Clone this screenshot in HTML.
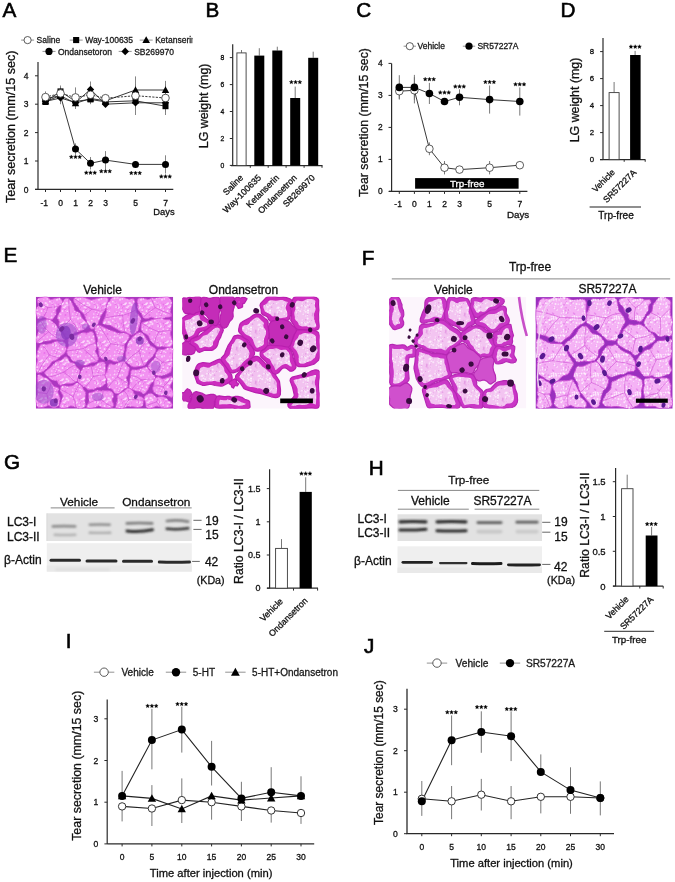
<!DOCTYPE html><html><head><meta charset="utf-8"><style>html,body{margin:0;padding:0;background:#fff;}svg{display:block;will-change:transform;}</style></head><body>
<svg width="675" height="882" viewBox="0 0 675 882" font-family='"Liberation Sans", sans-serif'>
<rect width="675" height="882" fill="#fff"/>
<text x="2.5" y="17.2" font-size="20.7" text-anchor="start" fill="#000" stroke="#000" stroke-width="0.6" >A</text>
<text x="205.6" y="17.1" font-size="20.7" text-anchor="start" fill="#000" stroke="#000" stroke-width="0.6" >B</text>
<text x="356.3" y="17.1" font-size="20.7" text-anchor="start" fill="#000" stroke="#000" stroke-width="0.6" >C</text>
<text x="560.4" y="17.1" font-size="20.7" text-anchor="start" fill="#000" stroke="#000" stroke-width="0.6" >D</text>
<text x="3.5" y="262.0" font-size="20.7" text-anchor="start" fill="#000" stroke="#000" stroke-width="0.6" >E</text>
<text x="361.7" y="264.9" font-size="20.7" text-anchor="start" fill="#000" stroke="#000" stroke-width="0.6" >F</text>
<text x="4.0" y="469.3" font-size="20.7" text-anchor="start" fill="#000" stroke="#000" stroke-width="0.6" >G</text>
<text x="368.7" y="474.6" font-size="20.7" text-anchor="start" fill="#000" stroke="#000" stroke-width="0.6" >H</text>
<text x="65.8" y="647.7" font-size="20.7" text-anchor="start" fill="#000" stroke="#000" stroke-width="0.6" >I</text>
<text x="364.0" y="652.8" font-size="20.7" text-anchor="start" fill="#000" stroke="#000" stroke-width="0.6" >J</text>
<line x1="38.0" y1="62.0" x2="38.0" y2="189.4" stroke="#2a2a2a" stroke-width="1.2" />
<line x1="35.0" y1="189.4" x2="173.3" y2="189.4" stroke="#2a2a2a" stroke-width="1.2" />
<line x1="35.0" y1="189.4" x2="38.0" y2="189.4" stroke="#2a2a2a" stroke-width="1.0" />
<text x="28.6" y="192.5" font-size="8.5" text-anchor="end" fill="#111" stroke="#111" stroke-width="0.3" >0</text>
<line x1="35.0" y1="161.0" x2="38.0" y2="161.0" stroke="#2a2a2a" stroke-width="1.0" />
<text x="28.6" y="164.1" font-size="8.5" text-anchor="end" fill="#111" stroke="#111" stroke-width="0.3" >1</text>
<line x1="35.0" y1="132.6" x2="38.0" y2="132.6" stroke="#2a2a2a" stroke-width="1.0" />
<text x="28.6" y="135.7" font-size="8.5" text-anchor="end" fill="#111" stroke="#111" stroke-width="0.3" >2</text>
<line x1="35.0" y1="104.2" x2="38.0" y2="104.2" stroke="#2a2a2a" stroke-width="1.0" />
<text x="28.6" y="107.3" font-size="8.5" text-anchor="end" fill="#111" stroke="#111" stroke-width="0.3" >3</text>
<line x1="35.0" y1="75.8" x2="38.0" y2="75.8" stroke="#2a2a2a" stroke-width="1.0" />
<text x="28.6" y="78.9" font-size="8.5" text-anchor="end" fill="#111" stroke="#111" stroke-width="0.3" >4</text>
<line x1="45.5" y1="189.4" x2="45.5" y2="192.0" stroke="#2a2a2a" stroke-width="1.0" />
<text x="44.3" y="206.0" font-size="8.5" text-anchor="middle" fill="#111" stroke="#111" stroke-width="0.3" >-1</text>
<line x1="60.5" y1="189.4" x2="60.5" y2="192.0" stroke="#2a2a2a" stroke-width="1.0" />
<text x="60.5" y="206.0" font-size="8.5" text-anchor="middle" fill="#111" stroke="#111" stroke-width="0.3" >0</text>
<line x1="75.5" y1="189.4" x2="75.5" y2="192.0" stroke="#2a2a2a" stroke-width="1.0" />
<text x="75.5" y="206.0" font-size="8.5" text-anchor="middle" fill="#111" stroke="#111" stroke-width="0.3" >1</text>
<line x1="90.5" y1="189.4" x2="90.5" y2="192.0" stroke="#2a2a2a" stroke-width="1.0" />
<text x="90.5" y="206.0" font-size="8.5" text-anchor="middle" fill="#111" stroke="#111" stroke-width="0.3" >2</text>
<line x1="105.5" y1="189.4" x2="105.5" y2="192.0" stroke="#2a2a2a" stroke-width="1.0" />
<text x="105.5" y="206.0" font-size="8.5" text-anchor="middle" fill="#111" stroke="#111" stroke-width="0.3" >3</text>
<line x1="135.5" y1="189.4" x2="135.5" y2="192.0" stroke="#2a2a2a" stroke-width="1.0" />
<text x="135.5" y="206.0" font-size="8.5" text-anchor="middle" fill="#111" stroke="#111" stroke-width="0.3" >5</text>
<line x1="165.5" y1="189.4" x2="165.5" y2="192.0" stroke="#2a2a2a" stroke-width="1.0" />
<text x="165.5" y="206.0" font-size="8.5" text-anchor="middle" fill="#111" stroke="#111" stroke-width="0.3" >7</text>
<text x="163.9" y="214.9" font-size="9.4" text-anchor="middle" fill="#111" stroke="#111" stroke-width="0.3" >Days</text>
<text transform="translate(14.8,126.8) rotate(-90)" font-size="12.6" text-anchor="middle" fill="#111" stroke="#111" stroke-width="0.3">Tear secretion (mm/15 sec)</text>
<line x1="45.5" y1="91.4" x2="45.5" y2="102.8" stroke="#777" stroke-width="0.9" />
<line x1="60.5" y1="85.5" x2="60.5" y2="101.4" stroke="#777" stroke-width="0.9" />
<line x1="75.5" y1="87.4" x2="75.5" y2="107.3" stroke="#777" stroke-width="0.9" />
<line x1="90.5" y1="86.9" x2="90.5" y2="102.8" stroke="#777" stroke-width="0.9" />
<line x1="105.5" y1="94.8" x2="105.5" y2="101.6" stroke="#777" stroke-width="0.9" />
<line x1="135.5" y1="76.4" x2="135.5" y2="115.0" stroke="#777" stroke-width="0.9" />
<line x1="165.5" y1="80.9" x2="165.5" y2="115.0" stroke="#777" stroke-width="0.9" />
<line x1="45.5" y1="99.1" x2="45.5" y2="104.8" stroke="#777" stroke-width="0.9" />
<line x1="60.5" y1="87.2" x2="60.5" y2="95.7" stroke="#777" stroke-width="0.9" />
<line x1="75.5" y1="97.1" x2="75.5" y2="105.6" stroke="#777" stroke-width="0.9" />
<line x1="90.5" y1="96.5" x2="90.5" y2="102.2" stroke="#777" stroke-width="0.9" />
<line x1="105.5" y1="99.1" x2="105.5" y2="104.8" stroke="#777" stroke-width="0.9" />
<line x1="135.5" y1="95.1" x2="135.5" y2="106.5" stroke="#777" stroke-width="0.9" />
<line x1="165.5" y1="100.5" x2="165.5" y2="111.9" stroke="#777" stroke-width="0.9" />
<line x1="45.5" y1="98.5" x2="45.5" y2="104.2" stroke="#777" stroke-width="0.9" />
<line x1="60.5" y1="90.0" x2="60.5" y2="101.4" stroke="#777" stroke-width="0.9" />
<line x1="75.5" y1="97.7" x2="75.5" y2="109.0" stroke="#777" stroke-width="0.9" />
<line x1="90.5" y1="92.8" x2="90.5" y2="104.2" stroke="#777" stroke-width="0.9" />
<line x1="105.5" y1="98.0" x2="105.5" y2="103.6" stroke="#777" stroke-width="0.9" />
<line x1="135.5" y1="84.3" x2="135.5" y2="95.7" stroke="#777" stroke-width="0.9" />
<line x1="165.5" y1="84.3" x2="165.5" y2="95.7" stroke="#777" stroke-width="0.9" />
<line x1="45.5" y1="98.5" x2="45.5" y2="104.2" stroke="#777" stroke-width="0.9" />
<line x1="60.5" y1="95.1" x2="60.5" y2="100.8" stroke="#777" stroke-width="0.9" />
<line x1="75.5" y1="98.2" x2="75.5" y2="106.8" stroke="#777" stroke-width="0.9" />
<line x1="90.5" y1="81.5" x2="90.5" y2="97.4" stroke="#777" stroke-width="0.9" />
<line x1="105.5" y1="101.4" x2="105.5" y2="107.0" stroke="#777" stroke-width="0.9" />
<line x1="135.5" y1="97.1" x2="135.5" y2="108.5" stroke="#777" stroke-width="0.9" />
<line x1="165.5" y1="97.1" x2="165.5" y2="108.5" stroke="#777" stroke-width="0.9" />
<line x1="45.5" y1="94.3" x2="45.5" y2="102.8" stroke="#777" stroke-width="0.9" />
<line x1="60.5" y1="87.2" x2="60.5" y2="104.2" stroke="#777" stroke-width="0.9" />
<line x1="75.5" y1="143.4" x2="75.5" y2="154.8" stroke="#777" stroke-width="0.9" />
<line x1="90.5" y1="157.0" x2="90.5" y2="169.5" stroke="#777" stroke-width="0.9" />
<line x1="105.5" y1="151.1" x2="105.5" y2="169.2" stroke="#777" stroke-width="0.9" />
<line x1="135.5" y1="161.0" x2="135.5" y2="167.8" stroke="#777" stroke-width="0.9" />
<line x1="165.5" y1="155.3" x2="165.5" y2="173.5" stroke="#777" stroke-width="0.9" />
<polyline points="45.5,101.9 60.5,91.4 75.5,101.4 90.5,99.4 105.5,101.9 135.5,100.8 165.5,106.2" fill="none" stroke="#222" stroke-width="0.9"/>
<polyline points="45.5,101.4 60.5,95.7 75.5,103.3 90.5,98.5 105.5,100.8 135.5,90.0 165.5,90.0" fill="none" stroke="#222" stroke-width="0.9"/>
<polyline points="45.5,101.4 60.5,98.0 75.5,102.5 90.5,89.4 105.5,104.2 135.5,102.8 165.5,102.8" fill="none" stroke="#222" stroke-width="0.9"/>
<polyline points="45.5,98.5 60.5,95.7 75.5,149.1 90.5,163.3 105.5,160.1 135.5,164.4 165.5,164.4" fill="none" stroke="#222" stroke-width="0.9"/>
<polyline points="45.5,97.1 60.5,93.4 75.5,97.4 90.5,94.8 105.5,98.2 135.5,95.7 165.5,98.0" fill="none" stroke="#222" stroke-width="0.9" stroke-dasharray="2.2,1.3"/>
<rect x="42.5" y="99.0" width="6.0" height="6.0" fill="#000"/>
<rect x="57.5" y="88.4" width="6.0" height="6.0" fill="#000"/>
<rect x="72.5" y="98.4" width="6.0" height="6.0" fill="#000"/>
<rect x="87.5" y="96.4" width="6.0" height="6.0" fill="#000"/>
<rect x="102.5" y="99.0" width="6.0" height="6.0" fill="#000"/>
<rect x="132.5" y="97.8" width="6.0" height="6.0" fill="#000"/>
<rect x="162.5" y="103.2" width="6.0" height="6.0" fill="#000"/>
<path d="M45.5,97.7 L49.2,104.3 L41.8,104.3 Z" fill="#000"/>
<path d="M60.5,92.0 L64.2,98.6 L56.8,98.6 Z" fill="#000"/>
<path d="M75.5,99.7 L79.2,106.3 L71.8,106.3 Z" fill="#000"/>
<path d="M90.5,94.8 L94.2,101.5 L86.8,101.5 Z" fill="#000"/>
<path d="M105.5,97.1 L109.2,103.7 L101.8,103.7 Z" fill="#000"/>
<path d="M135.5,86.3 L139.2,92.9 L131.8,92.9 Z" fill="#000"/>
<path d="M165.5,86.3 L169.2,92.9 L161.8,92.9 Z" fill="#000"/>
<path d="M45.5,97.7 L49.2,101.4 L45.5,105.0 L41.8,101.4 Z" fill="#000"/>
<path d="M60.5,94.3 L64.2,98.0 L60.5,101.6 L56.8,98.0 Z" fill="#000"/>
<path d="M75.5,98.8 L79.2,102.5 L75.5,106.2 L71.8,102.5 Z" fill="#000"/>
<path d="M90.5,85.8 L94.2,89.4 L90.5,93.1 L86.8,89.4 Z" fill="#000"/>
<path d="M105.5,100.5 L109.2,104.2 L105.5,107.9 L101.8,104.2 Z" fill="#000"/>
<path d="M135.5,99.1 L139.2,102.8 L135.5,106.5 L131.8,102.8 Z" fill="#000"/>
<path d="M165.5,99.1 L169.2,102.8 L165.5,106.5 L161.8,102.8 Z" fill="#000"/>
<circle cx="45.5" cy="98.5" r="3.5" fill="#000"/>
<circle cx="60.5" cy="95.7" r="3.5" fill="#000"/>
<circle cx="75.5" cy="149.1" r="3.5" fill="#000"/>
<circle cx="90.5" cy="163.3" r="3.5" fill="#000"/>
<circle cx="105.5" cy="160.1" r="3.5" fill="#000"/>
<circle cx="135.5" cy="164.4" r="3.5" fill="#000"/>
<circle cx="165.5" cy="164.4" r="3.5" fill="#000"/>
<circle cx="45.5" cy="97.1" r="3.8" fill="#fff" stroke="#333" stroke-width="0.8"/>
<circle cx="60.5" cy="93.4" r="3.8" fill="#fff" stroke="#333" stroke-width="0.8"/>
<circle cx="75.5" cy="97.4" r="3.8" fill="#fff" stroke="#333" stroke-width="0.8"/>
<circle cx="90.5" cy="94.8" r="3.8" fill="#fff" stroke="#333" stroke-width="0.8"/>
<circle cx="105.5" cy="98.2" r="3.8" fill="#fff" stroke="#333" stroke-width="0.8"/>
<circle cx="135.5" cy="95.7" r="3.8" fill="#fff" stroke="#333" stroke-width="0.8"/>
<circle cx="165.5" cy="98.0" r="3.8" fill="#fff" stroke="#333" stroke-width="0.8"/>
<path d="M71.25,154.90 L71.81,156.18 L73.20,156.32 L72.15,157.24 L72.45,158.61 L71.25,157.90 L70.05,158.61 L70.35,157.24 L69.30,156.32 L70.69,156.18ZM75.50,154.90 L76.06,156.18 L77.45,156.32 L76.40,157.24 L76.70,158.61 L75.50,157.90 L74.30,158.61 L74.60,157.24 L73.55,156.32 L74.94,156.18ZM79.75,154.90 L80.31,156.18 L81.70,156.32 L80.65,157.24 L80.95,158.61 L79.75,157.90 L78.55,158.61 L78.85,157.24 L77.80,156.32 L79.19,156.18Z" fill="#000" stroke="#000" stroke-width="0.35" stroke-linejoin="round"/>
<path d="M86.25,170.70 L86.81,171.98 L88.20,172.12 L87.15,173.04 L87.45,174.41 L86.25,173.70 L85.05,174.41 L85.35,173.04 L84.30,172.12 L85.69,171.98ZM90.50,170.70 L91.06,171.98 L92.45,172.12 L91.40,173.04 L91.70,174.41 L90.50,173.70 L89.30,174.41 L89.60,173.04 L88.55,172.12 L89.94,171.98ZM94.75,170.70 L95.31,171.98 L96.70,172.12 L95.65,173.04 L95.95,174.41 L94.75,173.70 L93.55,174.41 L93.85,173.04 L92.80,172.12 L94.19,171.98Z" fill="#000" stroke="#000" stroke-width="0.35" stroke-linejoin="round"/>
<path d="M101.25,169.20 L101.81,170.48 L103.20,170.62 L102.15,171.54 L102.45,172.91 L101.25,172.20 L100.05,172.91 L100.35,171.54 L99.30,170.62 L100.69,170.48ZM105.50,169.20 L106.06,170.48 L107.45,170.62 L106.40,171.54 L106.70,172.91 L105.50,172.20 L104.30,172.91 L104.60,171.54 L103.55,170.62 L104.94,170.48ZM109.75,169.20 L110.31,170.48 L111.70,170.62 L110.65,171.54 L110.95,172.91 L109.75,172.20 L108.55,172.91 L108.85,171.54 L107.80,170.62 L109.19,170.48Z" fill="#000" stroke="#000" stroke-width="0.35" stroke-linejoin="round"/>
<path d="M131.25,171.00 L131.81,172.28 L133.20,172.42 L132.15,173.34 L132.45,174.71 L131.25,174.00 L130.05,174.71 L130.35,173.34 L129.30,172.42 L130.69,172.28ZM135.50,171.00 L136.06,172.28 L137.45,172.42 L136.40,173.34 L136.70,174.71 L135.50,174.00 L134.30,174.71 L134.60,173.34 L133.55,172.42 L134.94,172.28ZM139.75,171.00 L140.31,172.28 L141.70,172.42 L140.65,173.34 L140.95,174.71 L139.75,174.00 L138.55,174.71 L138.85,173.34 L137.80,172.42 L139.19,172.28Z" fill="#000" stroke="#000" stroke-width="0.35" stroke-linejoin="round"/>
<path d="M161.25,174.50 L161.81,175.78 L163.20,175.92 L162.15,176.84 L162.45,178.21 L161.25,177.50 L160.05,178.21 L160.35,176.84 L159.30,175.92 L160.69,175.78ZM165.50,174.50 L166.06,175.78 L167.45,175.92 L166.40,176.84 L166.70,178.21 L165.50,177.50 L164.30,178.21 L164.60,176.84 L163.55,175.92 L164.94,175.78ZM169.75,174.50 L170.31,175.78 L171.70,175.92 L170.65,176.84 L170.95,178.21 L169.75,177.50 L168.55,178.21 L168.85,176.84 L167.80,175.92 L169.19,175.78Z" fill="#000" stroke="#000" stroke-width="0.35" stroke-linejoin="round"/>
<clipPath id="clA"><rect x="0" y="0" width="192.5" height="60"/></clipPath><g clip-path="url(#clA)">
<line x1="21.1" y1="40.1" x2="34.1" y2="40.1" stroke="#777" stroke-width="0.8" />
<circle cx="27.6" cy="40.1" r="3.6" fill="#fff" stroke="#333" stroke-width="0.8"/>
<text x="36.6" y="43.2" font-size="8.5" text-anchor="start" fill="#1a1a1a" stroke="#1a1a1a" stroke-width="0.3" >Saline</text>
<line x1="69.7" y1="40.1" x2="82.7" y2="40.1" stroke="#777" stroke-width="0.8" />
<rect x="73.1" y="37.0" width="6.1" height="6.1" fill="#000"/>
<text x="85.2" y="43.2" font-size="8.5" text-anchor="start" fill="#1a1a1a" stroke="#1a1a1a" stroke-width="0.3" >Way-100635</text>
<line x1="139.7" y1="40.1" x2="152.7" y2="40.1" stroke="#777" stroke-width="0.8" />
<path d="M146.2,36.3 L150.0,43.1 L142.4,43.1 Z" fill="#000"/>
<text x="155.2" y="43.2" font-size="8.5" text-anchor="start" fill="#1a1a1a" stroke="#1a1a1a" stroke-width="0.3" >Ketanserin</text>
<line x1="42.5" y1="51.4" x2="55.5" y2="51.4" stroke="#777" stroke-width="0.8" />
<circle cx="49.0" cy="51.4" r="3.6" fill="#000"/>
<text x="58.0" y="54.5" font-size="8.5" text-anchor="start" fill="#1a1a1a" stroke="#1a1a1a" stroke-width="0.3" >Ondansetoron</text>
<line x1="118.7" y1="51.4" x2="131.7" y2="51.4" stroke="#777" stroke-width="0.8" />
<path d="M125.2,47.6 L129.0,51.4 L125.2,55.2 L121.4,51.4 Z" fill="#000"/>
<text x="134.2" y="54.5" font-size="8.5" text-anchor="start" fill="#1a1a1a" stroke="#1a1a1a" stroke-width="0.3" >SB269970</text>
</g>
<line x1="232.7" y1="44.2" x2="232.7" y2="165.6" stroke="#2a2a2a" stroke-width="1.2" />
<line x1="231.0" y1="165.6" x2="322.5" y2="165.6" stroke="#2a2a2a" stroke-width="1.2" />
<line x1="229.8" y1="165.4" x2="232.7" y2="165.4" stroke="#2a2a2a" stroke-width="1.0" />
<text x="224.4" y="167.9" font-size="6.8" text-anchor="end" fill="#111" stroke="#111" stroke-width="0.3" >0</text>
<line x1="229.8" y1="138.5" x2="232.7" y2="138.5" stroke="#2a2a2a" stroke-width="1.0" />
<text x="224.4" y="141.0" font-size="6.8" text-anchor="end" fill="#111" stroke="#111" stroke-width="0.3" >2</text>
<line x1="229.8" y1="111.5" x2="232.7" y2="111.5" stroke="#2a2a2a" stroke-width="1.0" />
<text x="224.4" y="114.0" font-size="6.8" text-anchor="end" fill="#111" stroke="#111" stroke-width="0.3" >4</text>
<line x1="229.8" y1="84.6" x2="232.7" y2="84.6" stroke="#2a2a2a" stroke-width="1.0" />
<text x="224.4" y="87.1" font-size="6.8" text-anchor="end" fill="#111" stroke="#111" stroke-width="0.3" >6</text>
<line x1="229.8" y1="57.6" x2="232.7" y2="57.6" stroke="#2a2a2a" stroke-width="1.0" />
<text x="224.4" y="60.1" font-size="6.8" text-anchor="end" fill="#111" stroke="#111" stroke-width="0.3" >8</text>
<line x1="250.3" y1="165.6" x2="250.3" y2="167.8" stroke="#2a2a2a" stroke-width="1.0" />
<line x1="268.2" y1="165.6" x2="268.2" y2="167.8" stroke="#2a2a2a" stroke-width="1.0" />
<line x1="286.1" y1="165.6" x2="286.1" y2="167.8" stroke="#2a2a2a" stroke-width="1.0" />
<line x1="304.1" y1="165.6" x2="304.1" y2="167.8" stroke="#2a2a2a" stroke-width="1.0" />
<line x1="322.0" y1="165.6" x2="322.0" y2="167.8" stroke="#2a2a2a" stroke-width="1.0" />
<line x1="241.5" y1="50.0" x2="241.5" y2="52.9" stroke="#555" stroke-width="0.8" />
<rect x="236.9" y="52.9" width="9.2" height="112.7" fill="#fff" stroke="#3a3a3a" stroke-width="0.9"/>
<line x1="259.3" y1="48.2" x2="259.3" y2="55.6" stroke="#555" stroke-width="0.8" />
<rect x="254.3" y="55.6" width="10.0" height="110.0" fill="#000"/>
<line x1="277.3" y1="46.7" x2="277.3" y2="50.5" stroke="#555" stroke-width="0.8" />
<rect x="272.3" y="50.5" width="10.0" height="115.1" fill="#000"/>
<line x1="295.2" y1="86.6" x2="295.2" y2="98.0" stroke="#555" stroke-width="0.8" />
<rect x="290.2" y="98.0" width="10.0" height="67.5" fill="#000"/>
<line x1="313.2" y1="51.7" x2="313.2" y2="57.8" stroke="#555" stroke-width="0.8" />
<rect x="308.2" y="57.8" width="10.0" height="107.8" fill="#000"/>
<path d="M291.35,80.10 L291.91,81.38 L293.30,81.52 L292.25,82.44 L292.55,83.81 L291.35,83.10 L290.15,83.81 L290.45,82.44 L289.40,81.52 L290.79,81.38ZM295.60,80.10 L296.16,81.38 L297.55,81.52 L296.50,82.44 L296.80,83.81 L295.60,83.10 L294.40,83.81 L294.70,82.44 L293.65,81.52 L295.04,81.38ZM299.85,80.10 L300.41,81.38 L301.80,81.52 L300.75,82.44 L301.05,83.81 L299.85,83.10 L298.65,83.81 L298.95,82.44 L297.90,81.52 L299.29,81.38Z" fill="#000" stroke="#000" stroke-width="0.35" stroke-linejoin="round"/>
<text transform="translate(243.8,178.4) rotate(-45)" font-size="8.8" text-anchor="end" fill="#111" stroke="#111" stroke-width="0.3">Saline</text>
<text transform="translate(261.6,178.4) rotate(-45)" font-size="8.8" text-anchor="end" fill="#111" stroke="#111" stroke-width="0.3">Way-100635</text>
<text transform="translate(279.6,178.4) rotate(-45)" font-size="8.8" text-anchor="end" fill="#111" stroke="#111" stroke-width="0.3">Ketanserin</text>
<text transform="translate(297.5,178.4) rotate(-45)" font-size="8.8" text-anchor="end" fill="#111" stroke="#111" stroke-width="0.3">Ondansetron</text>
<text transform="translate(315.5,178.4) rotate(-45)" font-size="8.8" text-anchor="end" fill="#111" stroke="#111" stroke-width="0.3">SB269970</text>
<text transform="translate(208.1,105.9) rotate(-90)" font-size="12.4" text-anchor="middle" fill="#111" stroke="#111" stroke-width="0.3">LG weight (mg)</text>
<line x1="391.6" y1="63.4" x2="391.6" y2="191.4" stroke="#2a2a2a" stroke-width="1.2" />
<line x1="389.0" y1="191.4" x2="527.4" y2="191.4" stroke="#2a2a2a" stroke-width="1.2" />
<line x1="388.5" y1="191.4" x2="391.6" y2="191.4" stroke="#2a2a2a" stroke-width="1.0" />
<text x="382.7" y="194.4" font-size="8.4" text-anchor="end" fill="#111" stroke="#111" stroke-width="0.3" >0</text>
<line x1="388.5" y1="159.4" x2="391.6" y2="159.4" stroke="#2a2a2a" stroke-width="1.0" />
<text x="382.7" y="162.4" font-size="8.4" text-anchor="end" fill="#111" stroke="#111" stroke-width="0.3" >1</text>
<line x1="388.5" y1="127.4" x2="391.6" y2="127.4" stroke="#2a2a2a" stroke-width="1.0" />
<text x="382.7" y="130.4" font-size="8.4" text-anchor="end" fill="#111" stroke="#111" stroke-width="0.3" >2</text>
<line x1="388.5" y1="95.4" x2="391.6" y2="95.4" stroke="#2a2a2a" stroke-width="1.0" />
<text x="382.7" y="98.4" font-size="8.4" text-anchor="end" fill="#111" stroke="#111" stroke-width="0.3" >3</text>
<line x1="388.5" y1="63.4" x2="391.6" y2="63.4" stroke="#2a2a2a" stroke-width="1.0" />
<text x="382.7" y="66.4" font-size="8.4" text-anchor="end" fill="#111" stroke="#111" stroke-width="0.3" >4</text>
<line x1="399.3" y1="191.4" x2="399.3" y2="193.9" stroke="#2a2a2a" stroke-width="1.0" />
<text x="398.1" y="207.0" font-size="8.5" text-anchor="middle" fill="#111" stroke="#111" stroke-width="0.3" >-1</text>
<line x1="414.4" y1="191.4" x2="414.4" y2="193.9" stroke="#2a2a2a" stroke-width="1.0" />
<text x="414.4" y="207.0" font-size="8.5" text-anchor="middle" fill="#111" stroke="#111" stroke-width="0.3" >0</text>
<line x1="429.4" y1="191.4" x2="429.4" y2="193.9" stroke="#2a2a2a" stroke-width="1.0" />
<text x="429.4" y="207.0" font-size="8.5" text-anchor="middle" fill="#111" stroke="#111" stroke-width="0.3" >1</text>
<line x1="444.5" y1="191.4" x2="444.5" y2="193.9" stroke="#2a2a2a" stroke-width="1.0" />
<text x="444.5" y="207.0" font-size="8.5" text-anchor="middle" fill="#111" stroke="#111" stroke-width="0.3" >2</text>
<line x1="459.5" y1="191.4" x2="459.5" y2="193.9" stroke="#2a2a2a" stroke-width="1.0" />
<text x="459.5" y="207.0" font-size="8.5" text-anchor="middle" fill="#111" stroke="#111" stroke-width="0.3" >3</text>
<line x1="489.6" y1="191.4" x2="489.6" y2="193.9" stroke="#2a2a2a" stroke-width="1.0" />
<text x="489.6" y="207.0" font-size="8.5" text-anchor="middle" fill="#111" stroke="#111" stroke-width="0.3" >5</text>
<line x1="519.8" y1="191.4" x2="519.8" y2="193.9" stroke="#2a2a2a" stroke-width="1.0" />
<text x="519.8" y="207.0" font-size="8.5" text-anchor="middle" fill="#111" stroke="#111" stroke-width="0.3" >7</text>
<text x="518.1" y="217.8" font-size="9.8" text-anchor="middle" fill="#111" stroke="#111" stroke-width="0.3" >Days</text>
<text transform="translate(368.4,122.6) rotate(-90)" font-size="12.3" text-anchor="middle" fill="#111" stroke="#111" stroke-width="0.3">Tear secretion (mm/15 sec)</text>
<rect x="415.1" y="178.1" width="103.5" height="10.6" fill="#000"/>
<text x="467.2" y="186.9" font-size="9.8" text-anchor="middle" fill="#fff" stroke="#fff" stroke-width="0.3" >Trp-free</text>
<line x1="399.3" y1="83.6" x2="399.3" y2="98.9" stroke="#6a6a6a" stroke-width="0.9" />
<line x1="414.4" y1="77.2" x2="414.4" y2="103.4" stroke="#6a6a6a" stroke-width="0.9" />
<line x1="429.4" y1="142.4" x2="429.4" y2="155.2" stroke="#6a6a6a" stroke-width="0.9" />
<line x1="444.5" y1="161.0" x2="444.5" y2="174.4" stroke="#6a6a6a" stroke-width="0.9" />
<line x1="459.5" y1="167.7" x2="459.5" y2="171.6" stroke="#6a6a6a" stroke-width="0.9" />
<line x1="489.6" y1="161.0" x2="489.6" y2="174.4" stroke="#6a6a6a" stroke-width="0.9" />
<line x1="519.8" y1="163.2" x2="519.8" y2="167.1" stroke="#6a6a6a" stroke-width="0.9" />
<line x1="399.3" y1="75.2" x2="399.3" y2="99.6" stroke="#6a6a6a" stroke-width="0.9" />
<line x1="414.4" y1="74.9" x2="414.4" y2="99.9" stroke="#6a6a6a" stroke-width="0.9" />
<line x1="429.4" y1="82.9" x2="429.4" y2="104.0" stroke="#6a6a6a" stroke-width="0.9" />
<line x1="444.5" y1="99.9" x2="444.5" y2="103.1" stroke="#6a6a6a" stroke-width="0.9" />
<line x1="459.5" y1="89.3" x2="459.5" y2="105.3" stroke="#6a6a6a" stroke-width="0.9" />
<line x1="489.6" y1="85.5" x2="489.6" y2="113.6" stroke="#6a6a6a" stroke-width="0.9" />
<line x1="519.8" y1="87.4" x2="519.8" y2="115.6" stroke="#6a6a6a" stroke-width="0.9" />
<polyline points="399.3,91.2 414.4,90.3 429.4,148.8 444.5,167.7 459.5,169.6 489.6,167.7 519.8,165.2" fill="none" stroke="#222" stroke-width="0.9"/>
<polyline points="399.3,87.4 414.4,87.4 429.4,93.5 444.5,101.5 459.5,97.3 489.6,99.6 519.8,101.5" fill="none" stroke="#222" stroke-width="0.9"/>
<circle cx="399.3" cy="91.2" r="3.8" fill="#fff" stroke="#333" stroke-width="0.8"/>
<circle cx="414.4" cy="90.3" r="3.8" fill="#fff" stroke="#333" stroke-width="0.8"/>
<circle cx="429.4" cy="148.8" r="3.8" fill="#fff" stroke="#333" stroke-width="0.8"/>
<circle cx="444.5" cy="167.7" r="3.8" fill="#fff" stroke="#333" stroke-width="0.8"/>
<circle cx="459.5" cy="169.6" r="3.8" fill="#fff" stroke="#333" stroke-width="0.8"/>
<circle cx="489.6" cy="167.7" r="3.8" fill="#fff" stroke="#333" stroke-width="0.8"/>
<circle cx="519.8" cy="165.2" r="3.8" fill="#fff" stroke="#333" stroke-width="0.8"/>
<circle cx="399.3" cy="87.4" r="3.8" fill="#000"/>
<circle cx="414.4" cy="87.4" r="3.8" fill="#000"/>
<circle cx="429.4" cy="93.5" r="3.8" fill="#000"/>
<circle cx="444.5" cy="101.5" r="3.8" fill="#000"/>
<circle cx="459.5" cy="97.3" r="3.8" fill="#000"/>
<circle cx="489.6" cy="99.6" r="3.8" fill="#000"/>
<circle cx="519.8" cy="101.5" r="3.8" fill="#000"/>
<path d="M425.20,77.20 L425.76,78.48 L427.15,78.62 L426.10,79.54 L426.40,80.91 L425.20,80.20 L424.00,80.91 L424.30,79.54 L423.25,78.62 L424.64,78.48ZM429.45,77.20 L430.01,78.48 L431.40,78.62 L430.35,79.54 L430.65,80.91 L429.45,80.20 L428.25,80.91 L428.55,79.54 L427.50,78.62 L428.89,78.48ZM433.70,77.20 L434.26,78.48 L435.65,78.62 L434.60,79.54 L434.90,80.91 L433.70,80.20 L432.50,80.91 L432.80,79.54 L431.75,78.62 L433.14,78.48Z" fill="#000" stroke="#000" stroke-width="0.35" stroke-linejoin="round"/>
<path d="M440.25,90.50 L440.81,91.78 L442.20,91.92 L441.15,92.84 L441.45,94.21 L440.25,93.50 L439.05,94.21 L439.35,92.84 L438.30,91.92 L439.69,91.78ZM444.50,90.50 L445.06,91.78 L446.45,91.92 L445.40,92.84 L445.70,94.21 L444.50,93.50 L443.30,94.21 L443.60,92.84 L442.55,91.92 L443.94,91.78ZM448.75,90.50 L449.31,91.78 L450.70,91.92 L449.65,92.84 L449.95,94.21 L448.75,93.50 L447.55,94.21 L447.85,92.84 L446.80,91.92 L448.19,91.78Z" fill="#000" stroke="#000" stroke-width="0.35" stroke-linejoin="round"/>
<path d="M455.30,84.50 L455.86,85.78 L457.25,85.92 L456.20,86.84 L456.50,88.21 L455.30,87.50 L454.10,88.21 L454.40,86.84 L453.35,85.92 L454.74,85.78ZM459.55,84.50 L460.11,85.78 L461.50,85.92 L460.45,86.84 L460.75,88.21 L459.55,87.50 L458.35,88.21 L458.65,86.84 L457.60,85.92 L458.99,85.78ZM463.80,84.50 L464.36,85.78 L465.75,85.92 L464.70,86.84 L465.00,88.21 L463.80,87.50 L462.60,88.21 L462.90,86.84 L461.85,85.92 L463.24,85.78Z" fill="#000" stroke="#000" stroke-width="0.35" stroke-linejoin="round"/>
<path d="M485.40,80.00 L485.96,81.28 L487.35,81.42 L486.30,82.34 L486.60,83.71 L485.40,83.00 L484.20,83.71 L484.50,82.34 L483.45,81.42 L484.84,81.28ZM489.65,80.00 L490.21,81.28 L491.60,81.42 L490.55,82.34 L490.85,83.71 L489.65,83.00 L488.45,83.71 L488.75,82.34 L487.70,81.42 L489.09,81.28ZM493.90,80.00 L494.46,81.28 L495.85,81.42 L494.80,82.34 L495.10,83.71 L493.90,83.00 L492.70,83.71 L493.00,82.34 L491.95,81.42 L493.34,81.28Z" fill="#000" stroke="#000" stroke-width="0.35" stroke-linejoin="round"/>
<path d="M515.50,82.30 L516.06,83.58 L517.45,83.72 L516.40,84.64 L516.70,86.01 L515.50,85.30 L514.30,86.01 L514.60,84.64 L513.55,83.72 L514.94,83.58ZM519.75,82.30 L520.31,83.58 L521.70,83.72 L520.65,84.64 L520.95,86.01 L519.75,85.30 L518.55,86.01 L518.85,84.64 L517.80,83.72 L519.19,83.58ZM524.00,82.30 L524.56,83.58 L525.95,83.72 L524.90,84.64 L525.20,86.01 L524.00,85.30 L522.80,86.01 L523.10,84.64 L522.05,83.72 L523.44,83.58Z" fill="#000" stroke="#000" stroke-width="0.35" stroke-linejoin="round"/>
<line x1="403.6" y1="46.2" x2="416.0" y2="46.2" stroke="#777" stroke-width="0.8" />
<circle cx="409.8" cy="46.2" r="3.6" fill="#fff" stroke="#333" stroke-width="0.8"/>
<text x="417.5" y="49.3" font-size="8.5" text-anchor="start" fill="#1a1a1a" stroke="#1a1a1a" stroke-width="0.3" >Vehicle</text>
<line x1="462.8" y1="46.2" x2="475.2" y2="46.2" stroke="#777" stroke-width="0.8" />
<circle cx="469.0" cy="46.2" r="3.6" fill="#000"/>
<text x="477.4" y="49.3" font-size="8.5" text-anchor="start" fill="#1a1a1a" stroke="#1a1a1a" stroke-width="0.3" >SR57227A</text>
<line x1="603.0" y1="38.0" x2="603.0" y2="159.6" stroke="#2a2a2a" stroke-width="1.2" />
<line x1="600.0" y1="159.6" x2="645.4" y2="159.6" stroke="#2a2a2a" stroke-width="1.2" />
<line x1="600.1" y1="159.6" x2="603.0" y2="159.6" stroke="#2a2a2a" stroke-width="1.0" />
<text x="594.0" y="162.4" font-size="7.8" text-anchor="end" fill="#111" stroke="#111" stroke-width="0.3" >0</text>
<line x1="600.1" y1="132.6" x2="603.0" y2="132.6" stroke="#2a2a2a" stroke-width="1.0" />
<text x="594.0" y="135.4" font-size="7.8" text-anchor="end" fill="#111" stroke="#111" stroke-width="0.3" >2</text>
<line x1="600.1" y1="105.6" x2="603.0" y2="105.6" stroke="#2a2a2a" stroke-width="1.0" />
<text x="594.0" y="108.4" font-size="7.8" text-anchor="end" fill="#111" stroke="#111" stroke-width="0.3" >4</text>
<line x1="600.1" y1="78.6" x2="603.0" y2="78.6" stroke="#2a2a2a" stroke-width="1.0" />
<text x="594.0" y="81.4" font-size="7.8" text-anchor="end" fill="#111" stroke="#111" stroke-width="0.3" >6</text>
<line x1="600.1" y1="51.6" x2="603.0" y2="51.6" stroke="#2a2a2a" stroke-width="1.0" />
<text x="594.0" y="54.4" font-size="7.8" text-anchor="end" fill="#111" stroke="#111" stroke-width="0.3" >8</text>
<line x1="624.2" y1="159.6" x2="624.2" y2="161.8" stroke="#2a2a2a" stroke-width="1.0" />
<line x1="645.2" y1="159.6" x2="645.2" y2="161.8" stroke="#2a2a2a" stroke-width="1.0" />
<line x1="614.1" y1="82.0" x2="614.1" y2="92.6" stroke="#555" stroke-width="0.8" />
<rect x="609.1" y="92.6" width="10.0" height="67.0" fill="#fff" stroke="#3a3a3a" stroke-width="0.9"/>
<line x1="635.1" y1="50.9" x2="635.1" y2="55.0" stroke="#555" stroke-width="0.8" />
<rect x="630.1" y="55.0" width="10.5" height="104.6" fill="#000"/>
<path d="M630.95,44.70 L631.51,45.98 L632.90,46.12 L631.85,47.04 L632.15,48.41 L630.95,47.70 L629.75,48.41 L630.05,47.04 L629.00,46.12 L630.39,45.98ZM635.20,44.70 L635.76,45.98 L637.15,46.12 L636.10,47.04 L636.40,48.41 L635.20,47.70 L634.00,48.41 L634.30,47.04 L633.25,46.12 L634.64,45.98ZM639.45,44.70 L640.01,45.98 L641.40,46.12 L640.35,47.04 L640.65,48.41 L639.45,47.70 L638.25,48.41 L638.55,47.04 L637.50,46.12 L638.89,45.98Z" fill="#000" stroke="#000" stroke-width="0.35" stroke-linejoin="round"/>
<text transform="translate(615.5,172.9) rotate(-45)" font-size="8.7" text-anchor="end" fill="#111" stroke="#111" stroke-width="0.3">Vehicle</text>
<text transform="translate(636.9,173.1) rotate(-45)" font-size="8.8" text-anchor="end" fill="#111" stroke="#111" stroke-width="0.3">SR57227A</text>
<text transform="translate(579.1,100.0) rotate(-90)" font-size="12.4" text-anchor="middle" fill="#111" stroke="#111" stroke-width="0.3">LG weight (mg)</text>
<line x1="589.6" y1="207.0" x2="641.0" y2="207.0" stroke="#6a6a6a" stroke-width="1.3" />
<text x="616.0" y="218.5" font-size="10.1" text-anchor="middle" fill="#111" stroke="#111" stroke-width="0.3" >Trp-free</text>
<defs><filter id="bl1" filterUnits="userSpaceOnUse" x="0" y="400" width="675" height="250"><feGaussianBlur stdDeviation="0.9"/></filter><filter id="bl2" filterUnits="userSpaceOnUse" x="0" y="400" width="675" height="250"><feGaussianBlur stdDeviation="0.6"/></filter></defs>
<text x="79.1" y="506.0" font-size="11.8" text-anchor="middle" fill="#111" stroke="#111" stroke-width="0.3" >Vehicle</text>
<text x="156.3" y="506.0" font-size="11.8" text-anchor="middle" fill="#111" stroke="#111" stroke-width="0.3" >Ondansetron</text>
<line x1="50.7" y1="507.9" x2="114.6" y2="507.9" stroke="#888" stroke-width="1.0" />
<line x1="129.6" y1="507.9" x2="191.7" y2="507.9" stroke="#888" stroke-width="1.0" />
<rect x="46.8" y="513.3" width="145.0" height="27.7" fill="#e2e2e2"/>
<line x1="46.8" y1="513.3" x2="46.8" y2="541.0" stroke="#cfcfcf" stroke-width="0.6" />
<rect x="46.8" y="543.2" width="145.0" height="28.4" fill="#efefef"/>
<rect x="46.8" y="565.5" width="145.0" height="6.1" fill="#e9e9e9"/>
<path d="M52.8,526.4 Q64.0,525.8 75.2,526.4" fill="none" stroke="#8c8c8c" stroke-width="2.6" stroke-linecap="round" opacity="1.0" filter="url(#bl1)"/>
<path d="M54.7,534.8 Q65.0,535.2 75.3,534.8" fill="none" stroke="#b2b2b2" stroke-width="2.4" stroke-linecap="round" opacity="1.0" filter="url(#bl1)"/>
<path d="M89.7,524.8 Q99.8,524.2 109.8,524.8" fill="none" stroke="#8e8e8e" stroke-width="2.4" stroke-linecap="round" opacity="1.0" filter="url(#bl1)"/>
<path d="M89.7,532.7 Q100.0,533.1 110.3,532.7" fill="none" stroke="#acacac" stroke-width="2.4" stroke-linecap="round" opacity="1.0" filter="url(#bl1)"/>
<path d="M126.8,523.4 Q139.5,522.6 152.2,523.4" fill="none" stroke="#7a7a7a" stroke-width="2.6" stroke-linecap="round" opacity="1.0" filter="url(#bl1)"/>
<path d="M127.0,531.0 Q139.8,532.6 152.5,529.8" fill="none" stroke="#2c2c2c" stroke-width="3.0" stroke-linecap="round" opacity="1.0" filter="url(#bl1)"/>
<path d="M166.8,521.0 Q177.5,519.6 188.2,521.6" fill="none" stroke="#808080" stroke-width="2.6" stroke-linecap="round" opacity="1.0" filter="url(#bl1)"/>
<path d="M166.8,528.8 Q177.5,529.8 188.2,528.2" fill="none" stroke="#2e2e2e" stroke-width="2.6" stroke-linecap="round" opacity="1.0" filter="url(#bl1)"/>
<path d="M51.0,560.2 Q65.2,560.2 79.5,560.2" fill="none" stroke="#2c2c2c" stroke-width="3.0" stroke-linecap="round" opacity="1.0" filter="url(#bl2)"/>
<path d="M87.0,561.0 Q101.5,561.0 116.0,561.0" fill="none" stroke="#2c2c2c" stroke-width="3.0" stroke-linecap="round" opacity="1.0" filter="url(#bl2)"/>
<path d="M123.5,561.3 Q137.5,561.3 151.5,561.3" fill="none" stroke="#2c2c2c" stroke-width="3.0" stroke-linecap="round" opacity="1.0" filter="url(#bl2)"/>
<path d="M159.3,562.0 Q174.4,562.4 189.5,562.0" fill="none" stroke="#2c2c2c" stroke-width="3.0" stroke-linecap="round" opacity="1.0" filter="url(#bl2)"/>
<path d="M56.0,569.6 Q82.5,569.6 109.0,569.6" fill="none" stroke="#dcdcdc" stroke-width="2.0" stroke-linecap="round" opacity="1.0" filter="url(#bl1)"/>
<text x="7.0" y="526.1" font-size="12" text-anchor="start" fill="#111" stroke="#111" stroke-width="0.3" >LC3-I</text>
<text x="7.0" y="541.4" font-size="12" text-anchor="start" fill="#111" stroke="#111" stroke-width="0.3" >LC3-II</text>
<text x="4.0" y="564.3" font-size="12" text-anchor="start" fill="#111" stroke="#111" stroke-width="0.3" >&#946;-Actin</text>
<line x1="193.4" y1="520.3" x2="201.6" y2="520.3" stroke="#666" stroke-width="1.0" />
<line x1="193.4" y1="529.4" x2="201.6" y2="529.4" stroke="#666" stroke-width="1.0" />
<line x1="192.1" y1="561.4" x2="199.8" y2="561.4" stroke="#666" stroke-width="1.0" />
<text x="205.3" y="525.2" font-size="12" text-anchor="start" fill="#111" stroke="#111" stroke-width="0.3" >19</text>
<text x="205.3" y="539.3" font-size="12" text-anchor="start" fill="#111" stroke="#111" stroke-width="0.3" >15</text>
<text x="204.9" y="566.4" font-size="12" text-anchor="start" fill="#111" stroke="#111" stroke-width="0.3" >42</text>
<text x="196.7" y="583.5" font-size="10.7" text-anchor="start" fill="#111" stroke="#111" stroke-width="0.3" >(KDa)</text>
<line x1="269.6" y1="469.2" x2="269.6" y2="588.2" stroke="#2a2a2a" stroke-width="1.2" />
<line x1="267.0" y1="588.2" x2="318.0" y2="588.2" stroke="#2a2a2a" stroke-width="1.2" />
<line x1="266.8" y1="588.2" x2="269.6" y2="588.2" stroke="#2a2a2a" stroke-width="1.0" />
<text x="260.5" y="591.4" font-size="9.0" text-anchor="end" fill="#111" stroke="#111" stroke-width="0.3" >0</text>
<line x1="266.8" y1="555.0" x2="269.6" y2="555.0" stroke="#2a2a2a" stroke-width="1.0" />
<text x="260.5" y="558.2" font-size="9.0" text-anchor="end" fill="#111" stroke="#111" stroke-width="0.3" >0.5</text>
<line x1="266.8" y1="521.8" x2="269.6" y2="521.8" stroke="#2a2a2a" stroke-width="1.0" />
<text x="260.5" y="525.0" font-size="9.0" text-anchor="end" fill="#111" stroke="#111" stroke-width="0.3" >1</text>
<line x1="266.8" y1="488.6" x2="269.6" y2="488.6" stroke="#2a2a2a" stroke-width="1.0" />
<text x="260.5" y="491.8" font-size="9.0" text-anchor="end" fill="#111" stroke="#111" stroke-width="0.3" >1.5</text>
<line x1="293.5" y1="588.2" x2="293.5" y2="590.6" stroke="#2a2a2a" stroke-width="1.0" />
<line x1="317.6" y1="588.2" x2="317.6" y2="590.6" stroke="#2a2a2a" stroke-width="1.0" />
<line x1="281.5" y1="539.1" x2="281.5" y2="548.4" stroke="#555" stroke-width="0.8" />
<rect x="275.6" y="548.4" width="11.8" height="39.8" fill="#fff" stroke="#3a3a3a" stroke-width="0.9"/>
<line x1="305.7" y1="477.3" x2="305.7" y2="491.9" stroke="#555" stroke-width="0.8" />
<rect x="299.6" y="491.9" width="12.2" height="96.3" fill="#000"/>
<path d="M301.45,471.60 L302.01,472.88 L303.40,473.02 L302.35,473.94 L302.65,475.31 L301.45,474.60 L300.25,475.31 L300.55,473.94 L299.50,473.02 L300.89,472.88ZM305.70,471.60 L306.26,472.88 L307.65,473.02 L306.60,473.94 L306.90,475.31 L305.70,474.60 L304.50,475.31 L304.80,473.94 L303.75,473.02 L305.14,472.88ZM309.95,471.60 L310.51,472.88 L311.90,473.02 L310.85,473.94 L311.15,475.31 L309.95,474.60 L308.75,475.31 L309.05,473.94 L308.00,473.02 L309.39,472.88Z" fill="#000" stroke="#000" stroke-width="0.35" stroke-linejoin="round"/>
<text transform="translate(283.5,602.0) rotate(-45)" font-size="8.8" text-anchor="end" fill="#111" stroke="#111" stroke-width="0.3">Vehicle</text>
<text transform="translate(308.2,601.3) rotate(-45)" font-size="8.8" text-anchor="end" fill="#111" stroke="#111" stroke-width="0.3">Ondansetron</text>
<text transform="translate(243.4,531.2) rotate(-90)" font-size="12.25" text-anchor="middle" fill="#111" stroke="#111" stroke-width="0.3">Ratio LC3-I / LC3-II</text>
<text x="468.8" y="484.3" font-size="11.7" text-anchor="middle" fill="#111" stroke="#111" stroke-width="0.3" >Trp-free</text>
<line x1="397.9" y1="490.4" x2="539.3" y2="490.4" stroke="#888" stroke-width="1.0" />
<text x="430.3" y="505.4" font-size="12" text-anchor="middle" fill="#111" stroke="#111" stroke-width="0.3" >Vehicle</text>
<text x="502.4" y="505.4" font-size="12" text-anchor="middle" fill="#111" stroke="#111" stroke-width="0.3" >SR57227A</text>
<line x1="397.9" y1="509.2" x2="468.8" y2="509.2" stroke="#888" stroke-width="1.0" />
<line x1="474.6" y1="509.2" x2="539.3" y2="509.2" stroke="#888" stroke-width="1.0" />
<rect x="397.5" y="514.3" width="144.5" height="26.7" fill="#e2e2e2"/>
<rect x="397.5" y="546.3" width="144.5" height="26.7" fill="#efefef"/>
<rect x="397.5" y="567.5" width="144.5" height="5.5" fill="#e9e9e9"/>
<path d="M400.1,521.8 Q413.0,521.2 425.9,521.8" fill="none" stroke="#282828" stroke-width="3.2" stroke-linecap="round" opacity="1.0" filter="url(#bl1)"/>
<path d="M400.0,530.0 Q413.0,530.4 426.0,529.2" fill="none" stroke="#282828" stroke-width="3.0" stroke-linecap="round" opacity="1.0" filter="url(#bl1)"/>
<path d="M437.1,521.8 Q451.5,521.2 465.9,521.8" fill="none" stroke="#282828" stroke-width="3.2" stroke-linecap="round" opacity="1.0" filter="url(#bl1)"/>
<path d="M437.0,530.8 Q451.5,531.4 466.0,530.8" fill="none" stroke="#282828" stroke-width="3.0" stroke-linecap="round" opacity="1.0" filter="url(#bl1)"/>
<path d="M477.9,522.6 Q489.5,522.6 501.1,522.6" fill="none" stroke="#5a5a5a" stroke-width="2.8" stroke-linecap="round" opacity="1.0" filter="url(#bl1)"/>
<path d="M478.4,531.6 Q489.5,531.6 500.6,531.6" fill="none" stroke="#c8c8c8" stroke-width="3.8" stroke-linecap="round" opacity="1.0" filter="url(#bl1)"/>
<path d="M516.9,522.2 Q527.0,522.2 537.1,522.2" fill="none" stroke="#5a5a5a" stroke-width="2.8" stroke-linecap="round" opacity="1.0" filter="url(#bl1)"/>
<path d="M517.4,531.6 Q527.0,531.6 536.6,531.6" fill="none" stroke="#cacaca" stroke-width="3.8" stroke-linecap="round" opacity="1.0" filter="url(#bl1)"/>
<path d="M402.9,562.3 Q417.2,562.3 431.6,562.3" fill="none" stroke="#222222" stroke-width="2.8" stroke-linecap="round" opacity="1.0" filter="url(#bl2)"/>
<path d="M440.1,563.1 Q453.2,563.1 466.4,563.1" fill="none" stroke="#303030" stroke-width="2.2" stroke-linecap="round" opacity="1.0" filter="url(#bl2)"/>
<path d="M472.5,563.6 Q486.8,564.0 501.0,563.6" fill="none" stroke="#1e1e1e" stroke-width="3.0" stroke-linecap="round" opacity="1.0" filter="url(#bl2)"/>
<path d="M508.4,564.8 Q524.0,565.2 539.6,564.8" fill="none" stroke="#242424" stroke-width="2.8" stroke-linecap="round" opacity="1.0" filter="url(#bl2)"/>
<text x="357.5" y="523.3" font-size="12" text-anchor="start" fill="#111" stroke="#111" stroke-width="0.3" >LC3-I</text>
<text x="357.5" y="537.0" font-size="12" text-anchor="start" fill="#111" stroke="#111" stroke-width="0.3" >LC3-II</text>
<text x="354.0" y="565.3" font-size="12" text-anchor="start" fill="#111" stroke="#111" stroke-width="0.3" >&#946;-Actin</text>
<line x1="542.2" y1="522.3" x2="550.4" y2="522.3" stroke="#666" stroke-width="1.0" />
<line x1="542.2" y1="532.2" x2="550.4" y2="532.2" stroke="#666" stroke-width="1.0" />
<line x1="542.2" y1="564.4" x2="550.4" y2="564.4" stroke="#666" stroke-width="1.0" />
<text x="554.3" y="526.1" font-size="12" text-anchor="start" fill="#111" stroke="#111" stroke-width="0.3" >19</text>
<text x="554.3" y="541.0" font-size="12" text-anchor="start" fill="#111" stroke="#111" stroke-width="0.3" >15</text>
<text x="554.0" y="571.0" font-size="12" text-anchor="start" fill="#111" stroke="#111" stroke-width="0.3" >42</text>
<text x="547.1" y="584.0" font-size="10.7" text-anchor="start" fill="#111" stroke="#111" stroke-width="0.3" >(KDa)</text>
<line x1="615.6" y1="468.1" x2="615.6" y2="586.1" stroke="#2a2a2a" stroke-width="1.2" />
<line x1="613.0" y1="586.1" x2="663.2" y2="586.1" stroke="#2a2a2a" stroke-width="1.2" />
<line x1="612.8" y1="586.1" x2="615.6" y2="586.1" stroke="#2a2a2a" stroke-width="1.0" />
<text x="605.6" y="589.5" font-size="9.5" text-anchor="end" fill="#111" stroke="#111" stroke-width="0.3" >0</text>
<line x1="612.8" y1="551.3" x2="615.6" y2="551.3" stroke="#2a2a2a" stroke-width="1.0" />
<text x="605.6" y="554.7" font-size="9.5" text-anchor="end" fill="#111" stroke="#111" stroke-width="0.3" >0.5</text>
<line x1="612.8" y1="516.5" x2="615.6" y2="516.5" stroke="#2a2a2a" stroke-width="1.0" />
<text x="605.6" y="519.9" font-size="9.5" text-anchor="end" fill="#111" stroke="#111" stroke-width="0.3" >1</text>
<line x1="612.8" y1="481.7" x2="615.6" y2="481.7" stroke="#2a2a2a" stroke-width="1.0" />
<text x="605.6" y="485.1" font-size="9.5" text-anchor="end" fill="#111" stroke="#111" stroke-width="0.3" >1.5</text>
<line x1="639.8" y1="586.1" x2="639.8" y2="588.5" stroke="#2a2a2a" stroke-width="1.0" />
<line x1="663.2" y1="586.1" x2="663.2" y2="588.5" stroke="#2a2a2a" stroke-width="1.0" />
<line x1="627.2" y1="474.7" x2="627.2" y2="488.7" stroke="#555" stroke-width="0.8" />
<rect x="621.6" y="488.7" width="11.4" height="97.4" fill="#fff" stroke="#3a3a3a" stroke-width="0.9"/>
<line x1="651.6" y1="526.9" x2="651.6" y2="535.5" stroke="#555" stroke-width="0.8" />
<rect x="645.7" y="535.5" width="11.8" height="50.6" fill="#000"/>
<path d="M647.15,522.00 L647.71,523.28 L649.10,523.42 L648.05,524.34 L648.35,525.71 L647.15,525.00 L645.95,525.71 L646.25,524.34 L645.20,523.42 L646.59,523.28ZM651.40,522.00 L651.96,523.28 L653.35,523.42 L652.30,524.34 L652.60,525.71 L651.40,525.00 L650.20,525.71 L650.50,524.34 L649.45,523.42 L650.84,523.28ZM655.65,522.00 L656.21,523.28 L657.60,523.42 L656.55,524.34 L656.85,525.71 L655.65,525.00 L654.45,525.71 L654.75,524.34 L653.70,523.42 L655.09,523.28Z" fill="#000" stroke="#000" stroke-width="0.35" stroke-linejoin="round"/>
<text transform="translate(629.2,599.8) rotate(-45)" font-size="8.8" text-anchor="end" fill="#111" stroke="#111" stroke-width="0.3">Vehicle</text>
<text transform="translate(653.8,600.0) rotate(-45)" font-size="8.8" text-anchor="end" fill="#111" stroke="#111" stroke-width="0.3">SR57227A</text>
<text transform="translate(588.6,525.2) rotate(-90)" font-size="12.2" text-anchor="middle" fill="#111" stroke="#111" stroke-width="0.3">Ratio LC3-I / LC3-II</text>
<line x1="604.2" y1="631.4" x2="654.1" y2="631.4" stroke="#555" stroke-width="1.3" />
<text x="629.2" y="642.8" font-size="9.8" text-anchor="middle" fill="#111" stroke="#111" stroke-width="0.3" >Trp-free</text>
<line x1="107.2" y1="699.5" x2="107.2" y2="843.9" stroke="#2a2a2a" stroke-width="1.2" />
<line x1="107.2" y1="843.9" x2="314.2" y2="843.9" stroke="#2a2a2a" stroke-width="1.2" />
<line x1="104.4" y1="843.9" x2="107.2" y2="843.9" stroke="#2a2a2a" stroke-width="1.0" />
<text x="98.3" y="847.0" font-size="8.6" text-anchor="end" fill="#111" stroke="#111" stroke-width="0.3" >0</text>
<line x1="104.4" y1="802.2" x2="107.2" y2="802.2" stroke="#2a2a2a" stroke-width="1.0" />
<text x="98.3" y="805.3" font-size="8.6" text-anchor="end" fill="#111" stroke="#111" stroke-width="0.3" >1</text>
<line x1="104.4" y1="760.5" x2="107.2" y2="760.5" stroke="#2a2a2a" stroke-width="1.0" />
<text x="98.3" y="763.6" font-size="8.6" text-anchor="end" fill="#111" stroke="#111" stroke-width="0.3" >2</text>
<line x1="104.4" y1="718.8" x2="107.2" y2="718.8" stroke="#2a2a2a" stroke-width="1.0" />
<text x="98.3" y="721.9" font-size="8.6" text-anchor="end" fill="#111" stroke="#111" stroke-width="0.3" >3</text>
<line x1="122.1" y1="843.9" x2="122.1" y2="846.4" stroke="#2a2a2a" stroke-width="1.0" />
<text x="122.1" y="860.0" font-size="8.5" text-anchor="middle" fill="#111" stroke="#111" stroke-width="0.3" >0</text>
<line x1="151.9" y1="843.9" x2="151.9" y2="846.4" stroke="#2a2a2a" stroke-width="1.0" />
<text x="151.9" y="860.0" font-size="8.5" text-anchor="middle" fill="#111" stroke="#111" stroke-width="0.3" >5</text>
<line x1="181.8" y1="843.9" x2="181.8" y2="846.4" stroke="#2a2a2a" stroke-width="1.0" />
<text x="181.8" y="860.0" font-size="8.5" text-anchor="middle" fill="#111" stroke="#111" stroke-width="0.3" >10</text>
<line x1="211.6" y1="843.9" x2="211.6" y2="846.4" stroke="#2a2a2a" stroke-width="1.0" />
<text x="211.6" y="860.0" font-size="8.5" text-anchor="middle" fill="#111" stroke="#111" stroke-width="0.3" >15</text>
<line x1="241.4" y1="843.9" x2="241.4" y2="846.4" stroke="#2a2a2a" stroke-width="1.0" />
<text x="241.4" y="860.0" font-size="8.5" text-anchor="middle" fill="#111" stroke="#111" stroke-width="0.3" >20</text>
<line x1="271.2" y1="843.9" x2="271.2" y2="846.4" stroke="#2a2a2a" stroke-width="1.0" />
<text x="271.2" y="860.0" font-size="8.5" text-anchor="middle" fill="#111" stroke="#111" stroke-width="0.3" >25</text>
<line x1="301.0" y1="843.9" x2="301.0" y2="846.4" stroke="#2a2a2a" stroke-width="1.0" />
<text x="301.0" y="860.0" font-size="8.5" text-anchor="middle" fill="#111" stroke="#111" stroke-width="0.3" >30</text>
<text x="211.1" y="877.0" font-size="11.2" text-anchor="middle" fill="#111" stroke="#111" stroke-width="0.3" >Time after injection (min)</text>
<text transform="translate(81.2,765.8) rotate(-90)" font-size="12.4" text-anchor="middle" fill="#111" stroke="#111" stroke-width="0.3">Tear secretion (mm/15 sec)</text>
<line x1="122.1" y1="770.9" x2="122.1" y2="795.9" stroke="#555" stroke-width="0.8" />
<line x1="151.9" y1="708.8" x2="151.9" y2="740.1" stroke="#555" stroke-width="0.8" />
<line x1="151.9" y1="740.1" x2="151.9" y2="769.3" stroke="#555" stroke-width="0.8" />
<line x1="181.8" y1="706.7" x2="181.8" y2="729.6" stroke="#555" stroke-width="0.8" />
<line x1="181.8" y1="729.6" x2="181.8" y2="752.6" stroke="#555" stroke-width="0.8" />
<line x1="211.6" y1="740.9" x2="211.6" y2="766.8" stroke="#555" stroke-width="0.8" />
<line x1="211.6" y1="766.8" x2="211.6" y2="785.5" stroke="#555" stroke-width="0.8" />
<line x1="241.4" y1="781.8" x2="241.4" y2="798.4" stroke="#555" stroke-width="0.8" />
<line x1="271.2" y1="767.2" x2="271.2" y2="792.2" stroke="#555" stroke-width="0.8" />
<line x1="301.0" y1="776.3" x2="301.0" y2="795.9" stroke="#555" stroke-width="0.8" />
<line x1="151.9" y1="785.1" x2="151.9" y2="798.4" stroke="#555" stroke-width="0.8" />
<line x1="181.8" y1="808.9" x2="181.8" y2="823.0" stroke="#555" stroke-width="0.8" />
<line x1="122.1" y1="806.4" x2="122.1" y2="821.4" stroke="#555" stroke-width="0.8" />
<line x1="151.9" y1="808.5" x2="151.9" y2="826.0" stroke="#555" stroke-width="0.8" />
<line x1="181.8" y1="778.4" x2="181.8" y2="800.1" stroke="#555" stroke-width="0.8" />
<line x1="211.6" y1="802.2" x2="211.6" y2="819.7" stroke="#555" stroke-width="0.8" />
<line x1="241.4" y1="806.4" x2="241.4" y2="821.0" stroke="#555" stroke-width="0.8" />
<line x1="271.2" y1="810.5" x2="271.2" y2="822.6" stroke="#555" stroke-width="0.8" />
<line x1="301.0" y1="813.0" x2="301.0" y2="823.9" stroke="#555" stroke-width="0.8" />
<polyline points="122.1,806.4 151.9,808.5 181.8,800.1 211.6,802.2 241.4,806.4 271.2,810.5 301.0,813.0" fill="none" stroke="#222" stroke-width="1.1"/>
<polyline points="122.1,795.9 151.9,798.4 181.8,808.9 211.6,795.9 241.4,800.1 271.2,798.0 301.0,795.9" fill="none" stroke="#222" stroke-width="1.1"/>
<polyline points="122.1,795.9 151.9,740.1 181.8,729.6 211.6,766.8 241.4,798.4 271.2,792.2 301.0,795.9" fill="none" stroke="#222" stroke-width="1.1"/>
<circle cx="122.1" cy="806.4" r="3.7" fill="#fff" stroke="#333" stroke-width="1.0"/>
<circle cx="151.9" cy="808.5" r="3.7" fill="#fff" stroke="#333" stroke-width="1.0"/>
<circle cx="181.8" cy="800.1" r="3.7" fill="#fff" stroke="#333" stroke-width="1.0"/>
<circle cx="211.6" cy="802.2" r="3.7" fill="#fff" stroke="#333" stroke-width="1.0"/>
<circle cx="241.4" cy="806.4" r="3.7" fill="#fff" stroke="#333" stroke-width="1.0"/>
<circle cx="271.2" cy="810.5" r="3.7" fill="#fff" stroke="#333" stroke-width="1.0"/>
<circle cx="301.0" cy="813.0" r="3.7" fill="#fff" stroke="#333" stroke-width="1.0"/>
<path d="M122.1,791.7 L126.3,799.3 L117.9,799.3 Z" fill="#000"/>
<path d="M151.9,794.2 L156.1,801.8 L147.7,801.8 Z" fill="#000"/>
<path d="M181.8,804.7 L185.9,812.2 L177.6,812.2 Z" fill="#000"/>
<path d="M211.6,791.7 L215.8,799.3 L207.4,799.3 Z" fill="#000"/>
<path d="M241.4,795.9 L245.6,803.5 L237.2,803.5 Z" fill="#000"/>
<path d="M271.2,793.8 L275.4,801.4 L267.0,801.4 Z" fill="#000"/>
<path d="M301.0,791.7 L305.2,799.3 L296.8,799.3 Z" fill="#000"/>
<circle cx="122.1" cy="795.9" r="4.0" fill="#000"/>
<circle cx="151.9" cy="740.1" r="4.0" fill="#000"/>
<circle cx="181.8" cy="729.6" r="4.0" fill="#000"/>
<circle cx="211.6" cy="766.8" r="4.0" fill="#000"/>
<circle cx="241.4" cy="798.4" r="4.0" fill="#000"/>
<circle cx="271.2" cy="792.2" r="4.0" fill="#000"/>
<circle cx="301.0" cy="795.9" r="4.0" fill="#000"/>
<path d="M147.67,703.90 L148.23,705.18 L149.62,705.32 L148.58,706.24 L148.88,707.61 L147.67,706.90 L146.47,707.61 L146.77,706.24 L145.73,705.32 L147.12,705.18ZM151.92,703.90 L152.48,705.18 L153.87,705.32 L152.83,706.24 L153.13,707.61 L151.92,706.90 L150.72,707.61 L151.02,706.24 L149.98,705.32 L151.37,705.18ZM156.17,703.90 L156.73,705.18 L158.12,705.32 L157.08,706.24 L157.38,707.61 L156.17,706.90 L154.97,707.61 L155.27,706.24 L154.23,705.32 L155.62,705.18Z" fill="#000" stroke="#000" stroke-width="0.35" stroke-linejoin="round"/>
<path d="M177.50,702.00 L178.06,703.28 L179.45,703.42 L178.40,704.34 L178.70,705.71 L177.50,705.00 L176.30,705.71 L176.60,704.34 L175.55,703.42 L176.94,703.28ZM181.75,702.00 L182.31,703.28 L183.70,703.42 L182.65,704.34 L182.95,705.71 L181.75,705.00 L180.55,705.71 L180.85,704.34 L179.80,703.42 L181.19,703.28ZM186.00,702.00 L186.56,703.28 L187.95,703.42 L186.90,704.34 L187.20,705.71 L186.00,705.00 L184.80,705.71 L185.10,704.34 L184.05,703.42 L185.44,703.28Z" fill="#000" stroke="#000" stroke-width="0.35" stroke-linejoin="round"/>
<line x1="93.9" y1="672.2" x2="114.3" y2="672.2" stroke="#777" stroke-width="0.8" />
<circle cx="104.1" cy="672.2" r="4.2" fill="#fff" stroke="#333" stroke-width="0.8"/>
<text x="121.5" y="675.8" font-size="10.0" text-anchor="start" fill="#1a1a1a" stroke="#1a1a1a" stroke-width="0.3" >Vehicle</text>
<line x1="165.8" y1="672.2" x2="186.2" y2="672.2" stroke="#777" stroke-width="0.8" />
<circle cx="176.0" cy="672.2" r="4.2" fill="#000"/>
<text x="192.8" y="675.8" font-size="10.0" text-anchor="start" fill="#1a1a1a" stroke="#1a1a1a" stroke-width="0.3" >5-HT</text>
<line x1="225.2" y1="672.2" x2="245.6" y2="672.2" stroke="#777" stroke-width="0.8" />
<path d="M235.4,667.8 L239.8,675.7 L231.0,675.7 Z" fill="#000"/>
<text x="252.1" y="675.8" font-size="10.0" text-anchor="start" fill="#1a1a1a" stroke="#1a1a1a" stroke-width="0.3" >5-HT+Ondansetron</text>
<line x1="407.0" y1="688.7" x2="407.0" y2="833.7" stroke="#2a2a2a" stroke-width="1.3" />
<line x1="406.3" y1="833.7" x2="614.0" y2="833.7" stroke="#2a2a2a" stroke-width="1.3" />
<line x1="404.0" y1="833.7" x2="407.0" y2="833.7" stroke="#2a2a2a" stroke-width="1.0" />
<text x="397.9" y="836.8" font-size="8.6" text-anchor="end" fill="#111" stroke="#111" stroke-width="0.3" >0</text>
<line x1="404.0" y1="792.2" x2="407.0" y2="792.2" stroke="#2a2a2a" stroke-width="1.0" />
<text x="397.9" y="795.3" font-size="8.6" text-anchor="end" fill="#111" stroke="#111" stroke-width="0.3" >1</text>
<line x1="404.0" y1="750.7" x2="407.0" y2="750.7" stroke="#2a2a2a" stroke-width="1.0" />
<text x="397.9" y="753.8" font-size="8.6" text-anchor="end" fill="#111" stroke="#111" stroke-width="0.3" >2</text>
<line x1="404.0" y1="709.2" x2="407.0" y2="709.2" stroke="#2a2a2a" stroke-width="1.0" />
<text x="397.9" y="712.3" font-size="8.6" text-anchor="end" fill="#111" stroke="#111" stroke-width="0.3" >3</text>
<line x1="421.8" y1="833.7" x2="421.8" y2="836.2" stroke="#2a2a2a" stroke-width="1.0" />
<text x="421.8" y="849.8" font-size="8.5" text-anchor="middle" fill="#111" stroke="#111" stroke-width="0.3" >0</text>
<line x1="451.6" y1="833.7" x2="451.6" y2="836.2" stroke="#2a2a2a" stroke-width="1.0" />
<text x="451.6" y="849.8" font-size="8.5" text-anchor="middle" fill="#111" stroke="#111" stroke-width="0.3" >5</text>
<line x1="481.3" y1="833.7" x2="481.3" y2="836.2" stroke="#2a2a2a" stroke-width="1.0" />
<text x="481.3" y="849.8" font-size="8.5" text-anchor="middle" fill="#111" stroke="#111" stroke-width="0.3" >10</text>
<line x1="511.1" y1="833.7" x2="511.1" y2="836.2" stroke="#2a2a2a" stroke-width="1.0" />
<text x="511.1" y="849.8" font-size="8.5" text-anchor="middle" fill="#111" stroke="#111" stroke-width="0.3" >15</text>
<line x1="540.8" y1="833.7" x2="540.8" y2="836.2" stroke="#2a2a2a" stroke-width="1.0" />
<text x="540.8" y="849.8" font-size="8.5" text-anchor="middle" fill="#111" stroke="#111" stroke-width="0.3" >20</text>
<line x1="570.5" y1="833.7" x2="570.5" y2="836.2" stroke="#2a2a2a" stroke-width="1.0" />
<text x="570.5" y="849.8" font-size="8.5" text-anchor="middle" fill="#111" stroke="#111" stroke-width="0.3" >25</text>
<line x1="600.3" y1="833.7" x2="600.3" y2="836.2" stroke="#2a2a2a" stroke-width="1.0" />
<text x="600.3" y="849.8" font-size="8.5" text-anchor="middle" fill="#111" stroke="#111" stroke-width="0.3" >30</text>
<text x="511.5" y="867.2" font-size="11.2" text-anchor="middle" fill="#111" stroke="#111" stroke-width="0.3" >Time after injection (min)</text>
<text transform="translate(383.4,752.6) rotate(-90)" font-size="11.95" text-anchor="middle" fill="#111" stroke="#111" stroke-width="0.3">Tear secretion (mm/15 sec)</text>
<line x1="421.8" y1="801.3" x2="421.8" y2="815.9" stroke="#555" stroke-width="0.8" />
<line x1="451.6" y1="715.4" x2="451.6" y2="740.3" stroke="#555" stroke-width="0.8" />
<line x1="451.6" y1="740.3" x2="451.6" y2="765.2" stroke="#555" stroke-width="0.8" />
<line x1="481.3" y1="711.3" x2="481.3" y2="732.0" stroke="#555" stroke-width="0.8" />
<line x1="481.3" y1="732.0" x2="481.3" y2="752.8" stroke="#555" stroke-width="0.8" />
<line x1="511.1" y1="711.3" x2="511.1" y2="736.2" stroke="#555" stroke-width="0.8" />
<line x1="511.1" y1="736.2" x2="511.1" y2="761.1" stroke="#555" stroke-width="0.8" />
<line x1="540.8" y1="754.4" x2="540.8" y2="771.9" stroke="#555" stroke-width="0.8" />
<line x1="570.5" y1="767.3" x2="570.5" y2="790.1" stroke="#555" stroke-width="0.8" />
<line x1="600.3" y1="781.4" x2="600.3" y2="798.0" stroke="#555" stroke-width="0.8" />
<line x1="421.8" y1="781.0" x2="421.8" y2="798.8" stroke="#555" stroke-width="0.8" />
<line x1="451.6" y1="786.0" x2="451.6" y2="801.3" stroke="#555" stroke-width="0.8" />
<line x1="451.6" y1="801.3" x2="451.6" y2="819.2" stroke="#555" stroke-width="0.8" />
<line x1="481.3" y1="778.9" x2="481.3" y2="794.7" stroke="#555" stroke-width="0.8" />
<line x1="481.3" y1="794.7" x2="481.3" y2="810.5" stroke="#555" stroke-width="0.8" />
<line x1="511.1" y1="786.0" x2="511.1" y2="801.3" stroke="#555" stroke-width="0.8" />
<line x1="511.1" y1="801.3" x2="511.1" y2="819.2" stroke="#555" stroke-width="0.8" />
<line x1="540.8" y1="796.8" x2="540.8" y2="813.4" stroke="#555" stroke-width="0.8" />
<line x1="570.5" y1="796.8" x2="570.5" y2="813.8" stroke="#555" stroke-width="0.8" />
<line x1="600.3" y1="798.0" x2="600.3" y2="815.4" stroke="#555" stroke-width="0.8" />
<polyline points="421.8,798.8 451.6,801.3 481.3,794.7 511.1,801.3 540.8,796.8 570.5,796.8 600.3,798.0" fill="none" stroke="#222" stroke-width="1.1"/>
<polyline points="421.8,801.3 451.6,740.3 481.3,732.0 511.1,736.2 540.8,771.9 570.5,790.1 600.3,798.0" fill="none" stroke="#222" stroke-width="1.1"/>
<circle cx="421.8" cy="798.8" r="3.7" fill="#fff" stroke="#333" stroke-width="1.0"/>
<circle cx="451.6" cy="801.3" r="3.7" fill="#fff" stroke="#333" stroke-width="1.0"/>
<circle cx="481.3" cy="794.7" r="3.7" fill="#fff" stroke="#333" stroke-width="1.0"/>
<circle cx="511.1" cy="801.3" r="3.7" fill="#fff" stroke="#333" stroke-width="1.0"/>
<circle cx="540.8" cy="796.8" r="3.7" fill="#fff" stroke="#333" stroke-width="1.0"/>
<circle cx="570.5" cy="796.8" r="3.7" fill="#fff" stroke="#333" stroke-width="1.0"/>
<circle cx="600.3" cy="798.0" r="3.7" fill="#fff" stroke="#333" stroke-width="1.0"/>
<circle cx="421.8" cy="801.3" r="4.0" fill="#000"/>
<circle cx="451.6" cy="740.3" r="4.0" fill="#000"/>
<circle cx="481.3" cy="732.0" r="4.0" fill="#000"/>
<circle cx="511.1" cy="736.2" r="4.0" fill="#000"/>
<circle cx="540.8" cy="771.9" r="4.0" fill="#000"/>
<circle cx="570.5" cy="790.1" r="4.0" fill="#000"/>
<circle cx="600.3" cy="798.0" r="4.0" fill="#000"/>
<path d="M447.30,710.20 L447.86,711.48 L449.25,711.62 L448.20,712.54 L448.50,713.91 L447.30,713.20 L446.10,713.91 L446.40,712.54 L445.35,711.62 L446.74,711.48ZM451.55,710.20 L452.11,711.48 L453.50,711.62 L452.45,712.54 L452.75,713.91 L451.55,713.20 L450.35,713.91 L450.65,712.54 L449.60,711.62 L450.99,711.48ZM455.80,710.20 L456.36,711.48 L457.75,711.62 L456.70,712.54 L457.00,713.91 L455.80,713.20 L454.60,713.91 L454.90,712.54 L453.85,711.62 L455.24,711.48Z" fill="#000" stroke="#000" stroke-width="0.35" stroke-linejoin="round"/>
<path d="M477.05,705.00 L477.61,706.28 L479.00,706.42 L477.95,707.34 L478.25,708.71 L477.05,708.00 L475.85,708.71 L476.15,707.34 L475.10,706.42 L476.49,706.28ZM481.30,705.00 L481.86,706.28 L483.25,706.42 L482.20,707.34 L482.50,708.71 L481.30,708.00 L480.10,708.71 L480.40,707.34 L479.35,706.42 L480.74,706.28ZM485.55,705.00 L486.11,706.28 L487.50,706.42 L486.45,707.34 L486.75,708.71 L485.55,708.00 L484.35,708.71 L484.65,707.34 L483.60,706.42 L484.99,706.28Z" fill="#000" stroke="#000" stroke-width="0.35" stroke-linejoin="round"/>
<path d="M506.80,707.00 L507.36,708.28 L508.75,708.42 L507.70,709.34 L508.00,710.71 L506.80,710.00 L505.60,710.71 L505.90,709.34 L504.85,708.42 L506.24,708.28ZM511.05,707.00 L511.61,708.28 L513.00,708.42 L511.95,709.34 L512.25,710.71 L511.05,710.00 L509.85,710.71 L510.15,709.34 L509.10,708.42 L510.49,708.28ZM515.30,707.00 L515.86,708.28 L517.25,708.42 L516.20,709.34 L516.50,710.71 L515.30,710.00 L514.10,710.71 L514.40,709.34 L513.35,708.42 L514.74,708.28Z" fill="#000" stroke="#000" stroke-width="0.35" stroke-linejoin="round"/>
<line x1="426.8" y1="663.1" x2="447.2" y2="663.1" stroke="#777" stroke-width="0.8" />
<circle cx="437.0" cy="663.1" r="4.2" fill="#fff" stroke="#333" stroke-width="0.8"/>
<text x="455.5" y="666.8" font-size="10.2" text-anchor="start" fill="#1a1a1a" stroke="#1a1a1a" stroke-width="0.3" >Vehicle</text>
<line x1="499.8" y1="663.1" x2="520.2" y2="663.1" stroke="#777" stroke-width="0.8" />
<circle cx="510.0" cy="663.1" r="4.2" fill="#000"/>
<text x="525.9" y="666.8" font-size="10.2" text-anchor="start" fill="#1a1a1a" stroke="#1a1a1a" stroke-width="0.3" >SR57227A</text>
<defs><pattern id="spk1" patternUnits="userSpaceOnUse" width="19" height="17"><circle cx="6.2" cy="2.6" r="0.94" fill="#d856dc" fill-opacity="0.5"/><circle cx="1.4" cy="9.1" r="0.69" fill="#d856dc" fill-opacity="0.5"/><circle cx="1.1" cy="8.6" r="0.39" fill="#d856dc" fill-opacity="0.5"/><circle cx="8.2" cy="1.2" r="0.44" fill="#d856dc" fill-opacity="0.5"/><circle cx="8.1" cy="14.1" r="0.47" fill="#d856dc" fill-opacity="0.5"/><circle cx="4.2" cy="10.7" r="1.20" fill="#d856dc" fill-opacity="0.5"/><circle cx="11.0" cy="6.7" r="1.23" fill="#d856dc" fill-opacity="0.5"/><circle cx="0.9" cy="14.6" r="0.62" fill="#d856dc" fill-opacity="0.5"/><circle cx="2.7" cy="2.0" r="0.63" fill="#d856dc" fill-opacity="0.5"/><circle cx="15.5" cy="3.1" r="0.88" fill="#d856dc" fill-opacity="0.5"/><circle cx="12.1" cy="6.3" r="0.85" fill="#d856dc" fill-opacity="0.5"/><circle cx="1.2" cy="1.0" r="0.54" fill="#d856dc" fill-opacity="0.5"/><circle cx="12.9" cy="7.3" r="0.64" fill="#d856dc" fill-opacity="0.5"/><circle cx="11.1" cy="7.7" r="0.63" fill="#d856dc" fill-opacity="0.5"/><circle cx="15.1" cy="11.9" r="0.58" fill="#d856dc" fill-opacity="0.5"/><circle cx="10.9" cy="8.9" r="1.14" fill="#d856dc" fill-opacity="0.5"/><circle cx="13.9" cy="4.9" r="1.23" fill="#ffe4ff" fill-opacity="0.6"/><circle cx="2.2" cy="7.1" r="1.06" fill="#ffe4ff" fill-opacity="0.6"/><circle cx="2.9" cy="8.3" r="0.48" fill="#ffe4ff" fill-opacity="0.6"/><circle cx="12.7" cy="13.0" r="0.91" fill="#ffe4ff" fill-opacity="0.6"/><circle cx="16.6" cy="5.3" r="1.01" fill="#ffe4ff" fill-opacity="0.6"/><circle cx="11.3" cy="9.9" r="0.81" fill="#ffe4ff" fill-opacity="0.6"/><circle cx="16.0" cy="16.1" r="0.83" fill="#ffe4ff" fill-opacity="0.6"/><circle cx="12.6" cy="1.0" r="1.01" fill="#ffe4ff" fill-opacity="0.6"/><circle cx="12.3" cy="-0.1" r="1.11" fill="#ffe4ff" fill-opacity="0.6"/><circle cx="12.3" cy="16.9" r="1.11" fill="#ffe4ff" fill-opacity="0.6"/><circle cx="5.4" cy="6.6" r="0.98" fill="#ffe4ff" fill-opacity="0.6"/><circle cx="0.4" cy="7.8" r="0.58" fill="#ffe4ff" fill-opacity="0.6"/><circle cx="19.4" cy="7.8" r="0.58" fill="#ffe4ff" fill-opacity="0.6"/><circle cx="2.2" cy="1.0" r="1.06" fill="#ffe4ff" fill-opacity="0.6"/><circle cx="2.2" cy="18.0" r="1.06" fill="#ffe4ff" fill-opacity="0.6"/><circle cx="2.5" cy="4.2" r="0.76" fill="#ffe4ff" fill-opacity="0.6"/><circle cx="16.6" cy="1.4" r="0.81" fill="#ffe4ff" fill-opacity="0.6"/><circle cx="10.4" cy="15.0" r="1.11" fill="#ffe4ff" fill-opacity="0.6"/><circle cx="16.4" cy="4.7" r="0.78" fill="#ffe4ff" fill-opacity="0.6"/><circle cx="6.8" cy="15.0" r="1.22" fill="#ffe4ff" fill-opacity="0.6"/><circle cx="2.9" cy="3.0" r="0.64" fill="#ffe4ff" fill-opacity="0.6"/><circle cx="4.4" cy="8.2" r="0.92" fill="#ffe4ff" fill-opacity="0.6"/><circle cx="5.0" cy="0.1" r="0.79" fill="#ffe4ff" fill-opacity="0.6"/><circle cx="5.0" cy="17.1" r="0.79" fill="#ffe4ff" fill-opacity="0.6"/><circle cx="7.0" cy="9.6" r="1.21" fill="#ffe4ff" fill-opacity="0.6"/><circle cx="13.1" cy="8.8" r="0.94" fill="#ffe4ff" fill-opacity="0.6"/><circle cx="12.8" cy="0.9" r="1.17" fill="#ffe4ff" fill-opacity="0.6"/><circle cx="12.8" cy="17.9" r="1.17" fill="#ffe4ff" fill-opacity="0.6"/><circle cx="14.8" cy="14.9" r="1.09" fill="#ffe4ff" fill-opacity="0.6"/><circle cx="7.5" cy="6.8" r="0.53" fill="#ffe4ff" fill-opacity="0.6"/><circle cx="12.1" cy="1.1" r="0.50" fill="#ffe4ff" fill-opacity="0.6"/><circle cx="4.0" cy="2.8" r="0.72" fill="#ffe4ff" fill-opacity="0.6"/><circle cx="1.0" cy="0.0" r="0.57" fill="#ffe4ff" fill-opacity="0.6"/><circle cx="1.0" cy="17.0" r="0.57" fill="#ffe4ff" fill-opacity="0.6"/><circle cx="1.9" cy="6.2" r="0.47" fill="#ffe4ff" fill-opacity="0.6"/><circle cx="16.6" cy="10.4" r="0.57" fill="#ffe4ff" fill-opacity="0.6"/><circle cx="4.8" cy="5.9" r="0.74" fill="#ffe4ff" fill-opacity="0.6"/><circle cx="2.3" cy="14.4" r="1.24" fill="#ffe4ff" fill-opacity="0.6"/><circle cx="8.9" cy="8.2" r="0.52" fill="#ffe4ff" fill-opacity="0.6"/><circle cx="1.9" cy="5.8" r="0.66" fill="#ffe4ff" fill-opacity="0.6"/><circle cx="15.7" cy="2.7" r="0.47" fill="#ffe4ff" fill-opacity="0.6"/><circle cx="18.1" cy="9.0" r="0.57" fill="#ffe4ff" fill-opacity="0.6"/><circle cx="10.3" cy="0.5" r="0.87" fill="#ffe4ff" fill-opacity="0.6"/><circle cx="10.3" cy="17.5" r="0.87" fill="#ffe4ff" fill-opacity="0.6"/><circle cx="-0.4" cy="14.7" r="1.01" fill="#ffe4ff" fill-opacity="0.6"/><circle cx="18.6" cy="14.7" r="1.01" fill="#ffe4ff" fill-opacity="0.6"/><circle cx="5.0" cy="6.2" r="0.58" fill="#ffe4ff" fill-opacity="0.6"/><circle cx="14.7" cy="9.1" r="1.07" fill="#ffe4ff" fill-opacity="0.6"/><circle cx="6.3" cy="3.8" r="1.10" fill="#ffe4ff" fill-opacity="0.6"/><circle cx="-0.3" cy="14.5" r="1.09" fill="#ffe4ff" fill-opacity="0.6"/><circle cx="18.7" cy="14.5" r="1.09" fill="#ffe4ff" fill-opacity="0.6"/><circle cx="15.5" cy="12.6" r="0.63" fill="#ffe4ff" fill-opacity="0.6"/><circle cx="9.8" cy="6.0" r="0.47" fill="#ffe4ff" fill-opacity="0.6"/><circle cx="0.5" cy="4.8" r="0.66" fill="#ffe4ff" fill-opacity="0.6"/><circle cx="19.5" cy="4.8" r="0.66" fill="#ffe4ff" fill-opacity="0.6"/><circle cx="13.2" cy="-0.7" r="0.81" fill="#ffe4ff" fill-opacity="0.6"/><circle cx="13.2" cy="16.3" r="0.81" fill="#ffe4ff" fill-opacity="0.6"/><circle cx="-1.2" cy="-0.2" r="1.21" fill="#ffe4ff" fill-opacity="0.6"/><circle cx="-1.2" cy="16.8" r="1.21" fill="#ffe4ff" fill-opacity="0.6"/><circle cx="17.8" cy="-0.2" r="1.21" fill="#ffe4ff" fill-opacity="0.6"/><circle cx="17.8" cy="16.8" r="1.21" fill="#ffe4ff" fill-opacity="0.6"/><circle cx="6.9" cy="3.7" r="0.63" fill="#ffe4ff" fill-opacity="0.6"/><circle cx="3.7" cy="3.5" r="0.95" fill="#ffe4ff" fill-opacity="0.6"/><circle cx="17.1" cy="14.3" r="0.83" fill="#ffe4ff" fill-opacity="0.6"/><circle cx="12.4" cy="13.6" r="0.52" fill="#ffe4ff" fill-opacity="0.6"/><circle cx="12.6" cy="15.5" r="1.08" fill="#ffe4ff" fill-opacity="0.6"/><circle cx="14.3" cy="8.1" r="0.59" fill="#ffe4ff" fill-opacity="0.6"/><circle cx="15.0" cy="5.7" r="1.09" fill="#ffe4ff" fill-opacity="0.6"/><circle cx="-0.5" cy="6.7" r="0.77" fill="#ffe4ff" fill-opacity="0.6"/><circle cx="18.5" cy="6.7" r="0.77" fill="#ffe4ff" fill-opacity="0.6"/><circle cx="18.0" cy="12.3" r="0.59" fill="#ffe4ff" fill-opacity="0.6"/><circle cx="2.4" cy="2.6" r="1.17" fill="#ffe4ff" fill-opacity="0.6"/><circle cx="15.3" cy="2.5" r="1.11" fill="#ffe4ff" fill-opacity="0.6"/><circle cx="-0.4" cy="11.2" r="0.73" fill="#ffe4ff" fill-opacity="0.6"/><circle cx="18.6" cy="11.2" r="0.73" fill="#ffe4ff" fill-opacity="0.6"/><circle cx="10.4" cy="2.2" r="0.46" fill="#ffe4ff" fill-opacity="0.6"/><circle cx="-0.6" cy="11.0" r="0.87" fill="#ffe4ff" fill-opacity="0.6"/><circle cx="18.4" cy="11.0" r="0.87" fill="#ffe4ff" fill-opacity="0.6"/><circle cx="17.7" cy="7.4" r="1.15" fill="#ffe4ff" fill-opacity="0.6"/><circle cx="15.7" cy="3.6" r="0.65" fill="#ffe4ff" fill-opacity="0.6"/><circle cx="5.6" cy="4.1" r="0.92" fill="#ffe4ff" fill-opacity="0.6"/><circle cx="4.9" cy="7.1" r="0.55" fill="#ffe4ff" fill-opacity="0.6"/><circle cx="17.3" cy="6.0" r="0.82" fill="#ffe4ff" fill-opacity="0.6"/><circle cx="11.1" cy="15.4" r="0.79" fill="#ffe4ff" fill-opacity="0.6"/><circle cx="17.4" cy="8.5" r="0.88" fill="#ffe4ff" fill-opacity="0.6"/></pattern><pattern id="spk2" patternUnits="userSpaceOnUse" width="19" height="17"><circle cx="8.6" cy="9.5" r="1.04" fill="#e08ade" fill-opacity="0.6"/><circle cx="8.8" cy="8.6" r="0.76" fill="#e08ade" fill-opacity="0.6"/><circle cx="3.5" cy="8.7" r="0.80" fill="#e08ade" fill-opacity="0.6"/><circle cx="15.1" cy="1.6" r="0.53" fill="#e08ade" fill-opacity="0.6"/><circle cx="1.7" cy="13.8" r="0.85" fill="#e08ade" fill-opacity="0.6"/><circle cx="0.8" cy="-0.3" r="1.07" fill="#e08ade" fill-opacity="0.6"/><circle cx="0.8" cy="16.7" r="1.07" fill="#e08ade" fill-opacity="0.6"/><circle cx="19.8" cy="-0.3" r="1.07" fill="#e08ade" fill-opacity="0.6"/><circle cx="19.8" cy="16.7" r="1.07" fill="#e08ade" fill-opacity="0.6"/><circle cx="12.4" cy="10.5" r="0.41" fill="#e08ade" fill-opacity="0.6"/><circle cx="0.3" cy="9.0" r="0.33" fill="#e08ade" fill-opacity="0.6"/><circle cx="19.3" cy="9.0" r="0.33" fill="#e08ade" fill-opacity="0.6"/><circle cx="3.6" cy="4.1" r="0.30" fill="#e08ade" fill-opacity="0.6"/><circle cx="8.8" cy="7.5" r="0.97" fill="#e08ade" fill-opacity="0.6"/><circle cx="9.9" cy="10.9" r="0.69" fill="#e08ade" fill-opacity="0.6"/><circle cx="12.6" cy="7.8" r="0.51" fill="#e08ade" fill-opacity="0.6"/><circle cx="-0.0" cy="-0.1" r="0.97" fill="#e08ade" fill-opacity="0.6"/><circle cx="-0.0" cy="16.9" r="0.97" fill="#e08ade" fill-opacity="0.6"/><circle cx="19.0" cy="-0.1" r="0.97" fill="#e08ade" fill-opacity="0.6"/><circle cx="19.0" cy="16.9" r="0.97" fill="#e08ade" fill-opacity="0.6"/><circle cx="13.4" cy="5.4" r="0.47" fill="#e08ade" fill-opacity="0.6"/><circle cx="5.5" cy="1.2" r="0.91" fill="#e08ade" fill-opacity="0.6"/><circle cx="7.6" cy="14.4" r="0.60" fill="#e08ade" fill-opacity="0.6"/><circle cx="18.2" cy="14.4" r="0.28" fill="#e08ade" fill-opacity="0.6"/><circle cx="4.0" cy="15.5" r="0.67" fill="#e08ade" fill-opacity="0.6"/><circle cx="-0.4" cy="6.8" r="0.40" fill="#ffffff" fill-opacity="0.6"/><circle cx="18.6" cy="6.8" r="0.40" fill="#ffffff" fill-opacity="0.6"/><circle cx="12.0" cy="13.2" r="0.55" fill="#ffffff" fill-opacity="0.6"/><circle cx="1.7" cy="5.7" r="1.07" fill="#ffffff" fill-opacity="0.6"/><circle cx="14.4" cy="2.0" r="0.53" fill="#ffffff" fill-opacity="0.6"/><circle cx="1.9" cy="1.0" r="0.95" fill="#ffffff" fill-opacity="0.6"/><circle cx="3.4" cy="9.5" r="0.69" fill="#ffffff" fill-opacity="0.6"/><circle cx="3.6" cy="12.4" r="0.45" fill="#ffffff" fill-opacity="0.6"/><circle cx="12.2" cy="2.0" r="0.67" fill="#ffffff" fill-opacity="0.6"/><circle cx="4.0" cy="4.6" r="1.08" fill="#ffffff" fill-opacity="0.6"/><circle cx="15.3" cy="5.2" r="1.01" fill="#ffffff" fill-opacity="0.6"/><circle cx="4.0" cy="6.7" r="0.99" fill="#ffffff" fill-opacity="0.6"/><circle cx="12.2" cy="1.7" r="1.09" fill="#ffffff" fill-opacity="0.6"/><circle cx="4.1" cy="4.4" r="0.93" fill="#ffffff" fill-opacity="0.6"/><circle cx="6.3" cy="5.0" r="0.41" fill="#ffffff" fill-opacity="0.6"/><circle cx="1.7" cy="9.9" r="0.53" fill="#ffffff" fill-opacity="0.6"/><circle cx="11.4" cy="6.3" r="0.69" fill="#ffffff" fill-opacity="0.6"/><circle cx="-0.8" cy="8.2" r="0.78" fill="#ffffff" fill-opacity="0.6"/><circle cx="18.2" cy="8.2" r="0.78" fill="#ffffff" fill-opacity="0.6"/><circle cx="16.5" cy="3.1" r="0.47" fill="#ffffff" fill-opacity="0.6"/><circle cx="17.3" cy="13.9" r="0.54" fill="#ffffff" fill-opacity="0.6"/><circle cx="3.6" cy="12.6" r="1.06" fill="#ffffff" fill-opacity="0.6"/><circle cx="3.7" cy="-0.8" r="1.01" fill="#ffffff" fill-opacity="0.6"/><circle cx="3.7" cy="16.2" r="1.01" fill="#ffffff" fill-opacity="0.6"/><circle cx="11.5" cy="7.2" r="0.43" fill="#ffffff" fill-opacity="0.6"/><circle cx="0.7" cy="16.4" r="0.53" fill="#ffffff" fill-opacity="0.6"/><circle cx="13.4" cy="4.4" r="0.97" fill="#ffffff" fill-opacity="0.6"/><circle cx="11.3" cy="5.0" r="0.48" fill="#ffffff" fill-opacity="0.6"/><circle cx="13.7" cy="1.2" r="0.52" fill="#ffffff" fill-opacity="0.6"/><circle cx="10.6" cy="14.5" r="0.81" fill="#ffffff" fill-opacity="0.6"/><circle cx="5.3" cy="15.6" r="0.50" fill="#ffffff" fill-opacity="0.6"/><circle cx="0.3" cy="4.6" r="0.68" fill="#ffffff" fill-opacity="0.6"/><circle cx="19.3" cy="4.6" r="0.68" fill="#ffffff" fill-opacity="0.6"/><circle cx="1.1" cy="3.0" r="0.63" fill="#ffffff" fill-opacity="0.6"/><circle cx="10.9" cy="2.2" r="0.62" fill="#ffffff" fill-opacity="0.6"/><circle cx="16.9" cy="-0.3" r="0.84" fill="#ffffff" fill-opacity="0.6"/><circle cx="16.9" cy="16.7" r="0.84" fill="#ffffff" fill-opacity="0.6"/><circle cx="13.1" cy="9.9" r="0.46" fill="#ffffff" fill-opacity="0.6"/><circle cx="0.7" cy="0.3" r="1.03" fill="#ffffff" fill-opacity="0.6"/><circle cx="0.7" cy="17.3" r="1.03" fill="#ffffff" fill-opacity="0.6"/><circle cx="19.7" cy="0.3" r="1.03" fill="#ffffff" fill-opacity="0.6"/><circle cx="19.7" cy="17.3" r="1.03" fill="#ffffff" fill-opacity="0.6"/></pattern><pattern id="spk3" patternUnits="userSpaceOnUse" width="21" height="19"><circle cx="13.1" cy="14.1" r="0.94" fill="#e070e4" fill-opacity="0.55"/><circle cx="19.8" cy="14.1" r="1.04" fill="#e070e4" fill-opacity="0.55"/><circle cx="0.6" cy="8.8" r="1.06" fill="#e070e4" fill-opacity="0.55"/><circle cx="21.6" cy="8.8" r="1.06" fill="#e070e4" fill-opacity="0.55"/><circle cx="13.6" cy="17.1" r="0.41" fill="#e070e4" fill-opacity="0.55"/><circle cx="9.9" cy="4.7" r="0.74" fill="#e070e4" fill-opacity="0.55"/><circle cx="12.1" cy="0.2" r="0.49" fill="#e070e4" fill-opacity="0.55"/><circle cx="12.1" cy="19.2" r="0.49" fill="#e070e4" fill-opacity="0.55"/><circle cx="5.9" cy="17.4" r="0.92" fill="#e070e4" fill-opacity="0.55"/><circle cx="3.4" cy="15.1" r="0.43" fill="#e070e4" fill-opacity="0.55"/><circle cx="13.0" cy="2.4" r="0.32" fill="#e070e4" fill-opacity="0.55"/><circle cx="18.3" cy="4.0" r="0.49" fill="#e070e4" fill-opacity="0.55"/><circle cx="-0.4" cy="16.6" r="0.55" fill="#e070e4" fill-opacity="0.55"/><circle cx="20.6" cy="16.6" r="0.55" fill="#e070e4" fill-opacity="0.55"/><circle cx="-0.8" cy="10.2" r="0.85" fill="#e070e4" fill-opacity="0.55"/><circle cx="20.2" cy="10.2" r="0.85" fill="#e070e4" fill-opacity="0.55"/><circle cx="4.3" cy="17.9" r="0.86" fill="#e070e4" fill-opacity="0.55"/><circle cx="20.3" cy="17.0" r="0.55" fill="#e070e4" fill-opacity="0.55"/><circle cx="7.6" cy="3.2" r="0.43" fill="#e070e4" fill-opacity="0.55"/><circle cx="1.4" cy="5.7" r="0.79" fill="#e070e4" fill-opacity="0.55"/><circle cx="0.1" cy="12.9" r="0.58" fill="#e070e4" fill-opacity="0.55"/><circle cx="21.1" cy="12.9" r="0.58" fill="#e070e4" fill-opacity="0.55"/><circle cx="6.5" cy="15.6" r="0.69" fill="#e070e4" fill-opacity="0.55"/><circle cx="6.6" cy="9.1" r="0.87" fill="#e070e4" fill-opacity="0.55"/><circle cx="1.2" cy="18.5" r="0.34" fill="#e070e4" fill-opacity="0.55"/><circle cx="15.7" cy="16.1" r="0.33" fill="#e070e4" fill-opacity="0.55"/><circle cx="16.5" cy="7.0" r="0.77" fill="#e070e4" fill-opacity="0.55"/><circle cx="0.2" cy="0.9" r="0.46" fill="#e070e4" fill-opacity="0.55"/><circle cx="21.2" cy="0.9" r="0.46" fill="#e070e4" fill-opacity="0.55"/><circle cx="20.1" cy="3.7" r="0.91" fill="#e070e4" fill-opacity="0.55"/><circle cx="19.5" cy="17.9" r="0.59" fill="#e070e4" fill-opacity="0.55"/><circle cx="7.5" cy="10.0" r="0.92" fill="#e070e4" fill-opacity="0.55"/><circle cx="2.3" cy="14.2" r="0.94" fill="#e070e4" fill-opacity="0.55"/><circle cx="18.1" cy="0.7" r="1.06" fill="#e070e4" fill-opacity="0.55"/><circle cx="18.1" cy="19.7" r="1.06" fill="#e070e4" fill-opacity="0.55"/><circle cx="1.9" cy="6.5" r="0.80" fill="#e070e4" fill-opacity="0.55"/><circle cx="19.3" cy="6.5" r="1.04" fill="#e070e4" fill-opacity="0.55"/><circle cx="11.4" cy="5.9" r="0.62" fill="#ffffff" fill-opacity="0.7"/><circle cx="3.7" cy="1.5" r="0.50" fill="#ffffff" fill-opacity="0.7"/><circle cx="14.5" cy="-0.1" r="0.51" fill="#ffffff" fill-opacity="0.7"/><circle cx="14.5" cy="18.9" r="0.51" fill="#ffffff" fill-opacity="0.7"/><circle cx="1.0" cy="-0.3" r="0.77" fill="#ffffff" fill-opacity="0.7"/><circle cx="1.0" cy="18.7" r="0.77" fill="#ffffff" fill-opacity="0.7"/><circle cx="8.5" cy="4.5" r="0.82" fill="#ffffff" fill-opacity="0.7"/><circle cx="17.4" cy="8.7" r="0.70" fill="#ffffff" fill-opacity="0.7"/><circle cx="1.2" cy="17.4" r="0.42" fill="#ffffff" fill-opacity="0.7"/><circle cx="10.4" cy="15.9" r="0.49" fill="#ffffff" fill-opacity="0.7"/><circle cx="15.4" cy="18.0" r="0.84" fill="#ffffff" fill-opacity="0.7"/><circle cx="16.5" cy="2.0" r="0.70" fill="#ffffff" fill-opacity="0.7"/><circle cx="3.1" cy="16.0" r="0.61" fill="#ffffff" fill-opacity="0.7"/><circle cx="9.5" cy="-0.0" r="1.00" fill="#ffffff" fill-opacity="0.7"/><circle cx="9.5" cy="19.0" r="1.00" fill="#ffffff" fill-opacity="0.7"/><circle cx="-0.5" cy="8.6" r="0.74" fill="#ffffff" fill-opacity="0.7"/><circle cx="20.5" cy="8.6" r="0.74" fill="#ffffff" fill-opacity="0.7"/><circle cx="15.3" cy="9.1" r="0.60" fill="#ffffff" fill-opacity="0.7"/><circle cx="8.5" cy="2.8" r="0.66" fill="#ffffff" fill-opacity="0.7"/><circle cx="-0.2" cy="-0.8" r="0.84" fill="#ffffff" fill-opacity="0.7"/><circle cx="-0.2" cy="18.2" r="0.84" fill="#ffffff" fill-opacity="0.7"/><circle cx="20.8" cy="-0.8" r="0.84" fill="#ffffff" fill-opacity="0.7"/><circle cx="20.8" cy="18.2" r="0.84" fill="#ffffff" fill-opacity="0.7"/><circle cx="10.5" cy="6.4" r="0.46" fill="#ffffff" fill-opacity="0.7"/><circle cx="5.7" cy="14.9" r="1.01" fill="#ffffff" fill-opacity="0.7"/><circle cx="7.6" cy="14.9" r="0.94" fill="#ffffff" fill-opacity="0.7"/><circle cx="14.6" cy="12.6" r="0.93" fill="#ffffff" fill-opacity="0.7"/><circle cx="7.6" cy="13.4" r="0.60" fill="#ffffff" fill-opacity="0.7"/><circle cx="10.2" cy="14.6" r="0.88" fill="#ffffff" fill-opacity="0.7"/><circle cx="6.2" cy="18.0" r="0.85" fill="#ffffff" fill-opacity="0.7"/><circle cx="12.2" cy="0.2" r="0.78" fill="#ffffff" fill-opacity="0.7"/><circle cx="12.2" cy="19.2" r="0.78" fill="#ffffff" fill-opacity="0.7"/><circle cx="5.3" cy="12.8" r="0.72" fill="#ffffff" fill-opacity="0.7"/><circle cx="17.2" cy="12.3" r="0.96" fill="#ffffff" fill-opacity="0.7"/><circle cx="7.3" cy="12.2" r="0.92" fill="#ffffff" fill-opacity="0.7"/><circle cx="17.4" cy="6.7" r="0.99" fill="#ffffff" fill-opacity="0.7"/><circle cx="18.3" cy="13.1" r="1.08" fill="#ffffff" fill-opacity="0.7"/><circle cx="20.1" cy="9.8" r="0.77" fill="#ffffff" fill-opacity="0.7"/><circle cx="3.5" cy="15.9" r="1.06" fill="#ffffff" fill-opacity="0.7"/><circle cx="10.0" cy="13.1" r="0.90" fill="#ffffff" fill-opacity="0.7"/><circle cx="15.3" cy="3.3" r="0.95" fill="#ffffff" fill-opacity="0.7"/><circle cx="12.2" cy="12.6" r="0.69" fill="#ffffff" fill-opacity="0.7"/><circle cx="13.1" cy="14.7" r="0.85" fill="#ffffff" fill-opacity="0.7"/><circle cx="15.1" cy="0.5" r="0.51" fill="#ffffff" fill-opacity="0.7"/><circle cx="9.3" cy="12.4" r="0.55" fill="#ffffff" fill-opacity="0.7"/><circle cx="14.4" cy="12.0" r="0.43" fill="#ffffff" fill-opacity="0.7"/><circle cx="9.9" cy="4.3" r="0.44" fill="#ffffff" fill-opacity="0.7"/><circle cx="2.8" cy="6.0" r="0.53" fill="#ffffff" fill-opacity="0.7"/></pattern><pattern id="spk4" patternUnits="userSpaceOnUse" width="21" height="19"><circle cx="9.7" cy="7.1" r="0.43" fill="#e45ce4" fill-opacity="0.6"/><circle cx="18.2" cy="0.1" r="0.71" fill="#e45ce4" fill-opacity="0.6"/><circle cx="18.2" cy="19.1" r="0.71" fill="#e45ce4" fill-opacity="0.6"/><circle cx="18.9" cy="1.5" r="0.75" fill="#e45ce4" fill-opacity="0.6"/><circle cx="12.9" cy="0.8" r="0.62" fill="#e45ce4" fill-opacity="0.6"/><circle cx="14.8" cy="8.6" r="0.89" fill="#e45ce4" fill-opacity="0.6"/><circle cx="3.3" cy="4.5" r="0.41" fill="#e45ce4" fill-opacity="0.6"/><circle cx="10.6" cy="17.6" r="0.78" fill="#e45ce4" fill-opacity="0.6"/><circle cx="16.3" cy="7.3" r="0.90" fill="#e45ce4" fill-opacity="0.6"/><circle cx="2.1" cy="5.5" r="0.85" fill="#e45ce4" fill-opacity="0.6"/><circle cx="15.2" cy="8.0" r="0.39" fill="#e45ce4" fill-opacity="0.6"/><circle cx="5.6" cy="4.0" r="0.54" fill="#e45ce4" fill-opacity="0.6"/><circle cx="17.0" cy="3.8" r="1.01" fill="#e45ce4" fill-opacity="0.6"/><circle cx="18.5" cy="1.0" r="0.62" fill="#e45ce4" fill-opacity="0.6"/><circle cx="10.3" cy="0.4" r="0.65" fill="#e45ce4" fill-opacity="0.6"/><circle cx="10.3" cy="19.4" r="0.65" fill="#e45ce4" fill-opacity="0.6"/><circle cx="19.0" cy="2.1" r="0.79" fill="#e45ce4" fill-opacity="0.6"/><circle cx="2.5" cy="11.0" r="1.02" fill="#e45ce4" fill-opacity="0.6"/><circle cx="4.3" cy="0.2" r="0.39" fill="#e45ce4" fill-opacity="0.6"/><circle cx="4.3" cy="19.2" r="0.39" fill="#e45ce4" fill-opacity="0.6"/><circle cx="11.3" cy="0.3" r="0.39" fill="#e45ce4" fill-opacity="0.6"/><circle cx="11.3" cy="19.3" r="0.39" fill="#e45ce4" fill-opacity="0.6"/><circle cx="10.4" cy="17.5" r="0.65" fill="#e45ce4" fill-opacity="0.6"/><circle cx="8.4" cy="12.1" r="0.39" fill="#e45ce4" fill-opacity="0.6"/><circle cx="12.2" cy="3.3" r="0.79" fill="#e45ce4" fill-opacity="0.6"/><circle cx="20.1" cy="1.0" r="0.75" fill="#e45ce4" fill-opacity="0.6"/><circle cx="12.7" cy="2.8" r="0.53" fill="#e45ce4" fill-opacity="0.6"/><circle cx="-0.1" cy="-0.0" r="0.41" fill="#e45ce4" fill-opacity="0.6"/><circle cx="-0.1" cy="19.0" r="0.41" fill="#e45ce4" fill-opacity="0.6"/><circle cx="20.9" cy="-0.0" r="0.41" fill="#e45ce4" fill-opacity="0.6"/><circle cx="20.9" cy="19.0" r="0.41" fill="#e45ce4" fill-opacity="0.6"/><circle cx="14.8" cy="18.1" r="0.50" fill="#e45ce4" fill-opacity="0.6"/><circle cx="12.8" cy="0.8" r="0.61" fill="#e45ce4" fill-opacity="0.6"/><circle cx="14.2" cy="11.2" r="0.92" fill="#e45ce4" fill-opacity="0.6"/><circle cx="1.8" cy="6.6" r="0.99" fill="#e45ce4" fill-opacity="0.6"/><circle cx="12.3" cy="8.6" r="0.63" fill="#e45ce4" fill-opacity="0.6"/><circle cx="-0.3" cy="10.9" r="0.33" fill="#e45ce4" fill-opacity="0.6"/><circle cx="20.7" cy="10.9" r="0.33" fill="#e45ce4" fill-opacity="0.6"/><circle cx="16.8" cy="6.2" r="0.66" fill="#e45ce4" fill-opacity="0.6"/><circle cx="4.5" cy="8.4" r="0.57" fill="#e45ce4" fill-opacity="0.6"/><circle cx="1.9" cy="12.0" r="0.40" fill="#e45ce4" fill-opacity="0.6"/><circle cx="16.5" cy="0.5" r="0.93" fill="#e45ce4" fill-opacity="0.6"/><circle cx="16.5" cy="19.5" r="0.93" fill="#e45ce4" fill-opacity="0.6"/><circle cx="17.0" cy="9.4" r="0.90" fill="#fff0ff" fill-opacity="0.65"/><circle cx="5.2" cy="14.0" r="0.70" fill="#fff0ff" fill-opacity="0.65"/><circle cx="4.9" cy="18.3" r="0.68" fill="#fff0ff" fill-opacity="0.65"/><circle cx="7.8" cy="16.3" r="0.66" fill="#fff0ff" fill-opacity="0.65"/><circle cx="14.0" cy="3.3" r="0.99" fill="#fff0ff" fill-opacity="0.65"/><circle cx="5.4" cy="1.0" r="1.08" fill="#fff0ff" fill-opacity="0.65"/><circle cx="5.4" cy="20.0" r="1.08" fill="#fff0ff" fill-opacity="0.65"/><circle cx="3.6" cy="-1.0" r="1.09" fill="#fff0ff" fill-opacity="0.65"/><circle cx="3.6" cy="18.0" r="1.09" fill="#fff0ff" fill-opacity="0.65"/><circle cx="12.7" cy="0.2" r="0.44" fill="#fff0ff" fill-opacity="0.65"/><circle cx="12.7" cy="19.2" r="0.44" fill="#fff0ff" fill-opacity="0.65"/><circle cx="4.4" cy="7.4" r="0.83" fill="#fff0ff" fill-opacity="0.65"/><circle cx="20.3" cy="6.7" r="0.50" fill="#fff0ff" fill-opacity="0.65"/><circle cx="11.8" cy="2.6" r="0.46" fill="#fff0ff" fill-opacity="0.65"/><circle cx="11.7" cy="13.2" r="0.45" fill="#fff0ff" fill-opacity="0.65"/><circle cx="9.5" cy="13.4" r="0.93" fill="#fff0ff" fill-opacity="0.65"/><circle cx="8.0" cy="16.9" r="0.52" fill="#fff0ff" fill-opacity="0.65"/><circle cx="15.0" cy="14.7" r="1.02" fill="#fff0ff" fill-opacity="0.65"/><circle cx="10.4" cy="1.9" r="0.43" fill="#fff0ff" fill-opacity="0.65"/><circle cx="11.1" cy="3.3" r="0.84" fill="#fff0ff" fill-opacity="0.65"/><circle cx="1.8" cy="14.8" r="0.56" fill="#fff0ff" fill-opacity="0.65"/><circle cx="0.3" cy="3.3" r="0.72" fill="#fff0ff" fill-opacity="0.65"/><circle cx="21.3" cy="3.3" r="0.72" fill="#fff0ff" fill-opacity="0.65"/><circle cx="11.7" cy="7.4" r="0.52" fill="#fff0ff" fill-opacity="0.65"/><circle cx="10.1" cy="18.0" r="0.77" fill="#fff0ff" fill-opacity="0.65"/><circle cx="19.8" cy="0.5" r="1.10" fill="#fff0ff" fill-opacity="0.65"/><circle cx="19.8" cy="19.5" r="1.10" fill="#fff0ff" fill-opacity="0.65"/><circle cx="18.7" cy="10.3" r="0.77" fill="#fff0ff" fill-opacity="0.65"/><circle cx="11.3" cy="17.3" r="0.45" fill="#fff0ff" fill-opacity="0.65"/><circle cx="13.5" cy="10.3" r="0.61" fill="#fff0ff" fill-opacity="0.65"/><circle cx="15.2" cy="13.7" r="0.47" fill="#fff0ff" fill-opacity="0.65"/><circle cx="14.7" cy="8.6" r="0.74" fill="#fff0ff" fill-opacity="0.65"/><circle cx="13.4" cy="1.0" r="0.82" fill="#fff0ff" fill-opacity="0.65"/><circle cx="7.8" cy="16.7" r="0.56" fill="#fff0ff" fill-opacity="0.65"/><circle cx="17.3" cy="13.9" r="0.84" fill="#fff0ff" fill-opacity="0.65"/><circle cx="18.4" cy="0.7" r="0.82" fill="#fff0ff" fill-opacity="0.65"/><circle cx="18.4" cy="19.7" r="0.82" fill="#fff0ff" fill-opacity="0.65"/><circle cx="12.9" cy="12.9" r="0.68" fill="#fff0ff" fill-opacity="0.65"/><circle cx="1.4" cy="3.6" r="0.83" fill="#fff0ff" fill-opacity="0.65"/><circle cx="3.8" cy="1.2" r="0.65" fill="#fff0ff" fill-opacity="0.65"/><circle cx="9.9" cy="10.2" r="0.42" fill="#fff0ff" fill-opacity="0.65"/><circle cx="16.3" cy="6.3" r="0.95" fill="#fff0ff" fill-opacity="0.65"/><circle cx="0.2" cy="18.1" r="0.81" fill="#fff0ff" fill-opacity="0.65"/><circle cx="21.2" cy="18.1" r="0.81" fill="#fff0ff" fill-opacity="0.65"/><circle cx="-0.5" cy="-0.3" r="0.98" fill="#fff0ff" fill-opacity="0.65"/><circle cx="-0.5" cy="18.7" r="0.98" fill="#fff0ff" fill-opacity="0.65"/><circle cx="20.5" cy="-0.3" r="0.98" fill="#fff0ff" fill-opacity="0.65"/><circle cx="20.5" cy="18.7" r="0.98" fill="#fff0ff" fill-opacity="0.65"/><circle cx="2.2" cy="6.6" r="0.56" fill="#fff0ff" fill-opacity="0.65"/><circle cx="16.4" cy="3.7" r="0.55" fill="#fff0ff" fill-opacity="0.65"/><circle cx="2.3" cy="2.3" r="1.06" fill="#fff0ff" fill-opacity="0.65"/><circle cx="-0.5" cy="7.1" r="0.92" fill="#fff0ff" fill-opacity="0.65"/><circle cx="20.5" cy="7.1" r="0.92" fill="#fff0ff" fill-opacity="0.65"/><circle cx="9.8" cy="9.9" r="0.66" fill="#fff0ff" fill-opacity="0.65"/><circle cx="13.3" cy="4.5" r="0.58" fill="#fff0ff" fill-opacity="0.65"/></pattern></defs>
<clipPath id="clipE1"><rect x="35.8" y="296.8" width="137.4" height="111.9"/></clipPath>
<g clip-path="url(#clipE1)">
<rect x="35.8" y="296.8" width="137.4" height="111.9" fill="#ac38c0"/>
<path d="M52.5,319.5 L56.1,314.3 L56.0,310.0 L58.2,306.8 L60.8,304.8 L62.7,302.6 L62.4,300.9 L59.9,297.8 L55.1,298.4 L50.8,299.7 L49.3,298.8 L47.4,296.8 L45.1,296.5 L39.3,297.9 L37.8,299.0 L37.1,300.9 L38.9,305.3 L37.4,306.9 L36.0,308.9 L35.7,311.2 L35.7,313.4 L37.8,318.8 L40.1,318.9 L42.8,317.5 L44.5,317.4 L50.3,320.0Z" fill="#f292f1" stroke="#d050d6" stroke-width="0.9" stroke-linejoin="round"/>
<path d="M52.5,319.5 L56.1,314.3 L56.0,310.0 L58.2,306.8 L60.8,304.8 L62.7,302.6 L62.4,300.9 L59.9,297.8 L55.1,298.4 L50.8,299.7 L49.3,298.8 L47.4,296.8 L45.1,296.5 L39.3,297.9 L37.8,299.0 L37.1,300.9 L38.9,305.3 L37.4,306.9 L36.0,308.9 L35.7,311.2 L35.7,313.4 L37.8,318.8 L40.1,318.9 L42.8,317.5 L44.5,317.4 L50.3,320.0Z" fill="url(#spk4)"/>
<path d="M47.7,307.7 Q42.1,305.3 37.6,299.6" fill="none" stroke="#d660da" stroke-width="0.8" stroke-linecap="round"/>
<path d="M47.7,307.7 Q52.3,307.1 58.6,306.6" fill="none" stroke="#d660da" stroke-width="0.8" stroke-linecap="round"/>
<path d="M47.7,307.7 Q47.4,310.6 43.5,317.5" fill="none" stroke="#d660da" stroke-width="0.8" stroke-linecap="round"/>
<path d="M61.0,340.2 L64.0,340.0 L65.5,338.3 L64.6,335.9 L57.4,327.4 L55.4,324.2 L51.3,320.7 L49.5,319.4 L47.2,319.1 L41.0,320.8 L39.5,321.8 L38.3,323.1 L37.4,324.7 L37.1,326.5 L38.5,330.6 L38.4,332.3 L36.6,336.6 L36.0,338.9 L36.0,341.4 L37.4,343.1 L40.1,342.9 L45.0,341.0 L48.7,341.0 L52.2,339.7 L58.2,339.8Z" fill="#f292f1" stroke="#d050d6" stroke-width="0.9" stroke-linejoin="round"/>
<path d="M61.0,340.2 L64.0,340.0 L65.5,338.3 L64.6,335.9 L57.4,327.4 L55.4,324.2 L51.3,320.7 L49.5,319.4 L47.2,319.1 L41.0,320.8 L39.5,321.8 L38.3,323.1 L37.4,324.7 L37.1,326.5 L38.5,330.6 L38.4,332.3 L36.6,336.6 L36.0,338.9 L36.0,341.4 L37.4,343.1 L40.1,342.9 L45.0,341.0 L48.7,341.0 L52.2,339.7 L58.2,339.8Z" fill="url(#spk4)"/>
<path d="M48.6,331.9 Q41.7,337.3 36.5,341.9" fill="none" stroke="#d660da" stroke-width="0.8" stroke-linecap="round"/>
<path d="M48.6,331.9 Q43.4,327.4 40.8,321.0" fill="none" stroke="#d660da" stroke-width="0.8" stroke-linecap="round"/>
<path d="M48.6,331.9 Q54.1,337.2 61.6,340.2" fill="none" stroke="#d660da" stroke-width="0.8" stroke-linecap="round"/>
<path d="M70.2,300.3 L68.6,298.9 L66.5,298.3 L64.8,299.0 L63.6,300.4 L61.6,304.1 L60.4,311.3 L57.5,316.3 L57.5,318.2 L59.2,321.5 L58.9,325.5 L59.6,327.7 L62.5,330.7 L65.5,337.0 L67.4,337.7 L69.6,336.7 L73.1,333.7 L74.7,332.7 L82.0,330.2 L85.5,328.5 L87.0,327.2 L87.8,325.6 L87.7,324.0 L86.5,322.2 L82.6,318.5 L81.4,316.8 L80.8,314.9 L79.7,313.1 L77.9,311.9 L76.1,311.3 L74.9,310.4 L72.4,303.7Z" fill="#f292f1" stroke="#d050d6" stroke-width="0.9" stroke-linejoin="round"/>
<path d="M70.2,300.3 L68.6,298.9 L66.5,298.3 L64.8,299.0 L63.6,300.4 L61.6,304.1 L60.4,311.3 L57.5,316.3 L57.5,318.2 L59.2,321.5 L58.9,325.5 L59.6,327.7 L62.5,330.7 L65.5,337.0 L67.4,337.7 L69.6,336.7 L73.1,333.7 L74.7,332.7 L82.0,330.2 L85.5,328.5 L87.0,327.2 L87.8,325.6 L87.7,324.0 L86.5,322.2 L82.6,318.5 L81.4,316.8 L80.8,314.9 L79.7,313.1 L77.9,311.9 L76.1,311.3 L74.9,310.4 L72.4,303.7Z" fill="url(#spk4)"/>
<path d="M70.5,319.4 Q76.5,326.1 78.7,331.4" fill="none" stroke="#d660da" stroke-width="0.8" stroke-linecap="round"/>
<path d="M70.5,319.4 Q65.6,324.7 60.6,328.8" fill="none" stroke="#d660da" stroke-width="0.8" stroke-linecap="round"/>
<path d="M70.5,319.4 Q68.8,309.9 68.5,298.9" fill="none" stroke="#d660da" stroke-width="0.8" stroke-linecap="round"/>
<path d="M89.7,327.4 L91.5,329.1 L93.7,328.9 L95.5,327.1 L98.3,323.0 L100.9,315.9 L105.4,309.0 L106.5,305.2 L108.2,301.1 L108.2,298.8 L106.8,297.3 L104.4,297.2 L97.4,298.4 L91.6,300.0 L89.9,299.7 L85.4,297.7 L82.8,297.0 L76.4,297.2 L74.5,297.9 L73.5,299.7 L74.0,302.0 L77.1,305.7 L80.1,310.6 L83.2,313.4 L84.3,314.8 L86.5,320.8Z" fill="#f292f1" stroke="#d050d6" stroke-width="0.9" stroke-linejoin="round"/>
<path d="M89.7,327.4 L91.5,329.1 L93.7,328.9 L95.5,327.1 L98.3,323.0 L100.9,315.9 L105.4,309.0 L106.5,305.2 L108.2,301.1 L108.2,298.8 L106.8,297.3 L104.4,297.2 L97.4,298.4 L91.6,300.0 L89.9,299.7 L85.4,297.7 L82.8,297.0 L76.4,297.2 L74.5,297.9 L73.5,299.7 L74.0,302.0 L77.1,305.7 L80.1,310.6 L83.2,313.4 L84.3,314.8 L86.5,320.8Z" fill="url(#spk4)"/>
<path d="M91.9,309.2 Q83.4,305.7 74.1,298.6" fill="none" stroke="#d660da" stroke-width="0.8" stroke-linecap="round"/>
<path d="M91.9,309.2 Q97.2,310.9 104.7,310.1" fill="none" stroke="#d660da" stroke-width="0.8" stroke-linecap="round"/>
<path d="M91.9,309.2 Q86.5,313.2 84.5,315.3" fill="none" stroke="#d660da" stroke-width="0.8" stroke-linecap="round"/>
<path d="M129.3,334.3 L131.7,335.0 L133.8,334.2 L137.2,331.4 L138.5,329.7 L139.7,323.3 L140.6,321.4 L140.9,319.5 L140.4,317.5 L136.5,311.9 L135.0,304.5 L134.6,300.0 L133.2,298.7 L128.9,299.2 L127.2,298.8 L123.4,297.1 L114.7,296.7 L112.7,297.1 L111.1,298.4 L110.1,300.2 L107.6,303.3 L106.7,305.4 L106.3,312.0 L104.9,317.5 L102.9,321.3 L102.8,323.4 L104.6,324.6 L109.5,325.0 L119.2,330.6 L121.2,331.4 L125.1,331.9Z" fill="#f292f1" stroke="#d050d6" stroke-width="0.9" stroke-linejoin="round"/>
<path d="M129.3,334.3 L131.7,335.0 L133.8,334.2 L137.2,331.4 L138.5,329.7 L139.7,323.3 L140.6,321.4 L140.9,319.5 L140.4,317.5 L136.5,311.9 L135.0,304.5 L134.6,300.0 L133.2,298.7 L128.9,299.2 L127.2,298.8 L123.4,297.1 L114.7,296.7 L112.7,297.1 L111.1,298.4 L110.1,300.2 L107.6,303.3 L106.7,305.4 L106.3,312.0 L104.9,317.5 L102.9,321.3 L102.8,323.4 L104.6,324.6 L109.5,325.0 L119.2,330.6 L121.2,331.4 L125.1,331.9Z" fill="url(#spk4)"/>
<path d="M122.6,315.3 Q122.8,324.7 124.8,331.9" fill="none" stroke="#d660da" stroke-width="0.8" stroke-linecap="round"/>
<path d="M122.6,315.3 Q115.5,315.8 104.7,317.9" fill="none" stroke="#d660da" stroke-width="0.8" stroke-linecap="round"/>
<path d="M122.6,315.3 Q129.6,314.0 136.1,309.8" fill="none" stroke="#d660da" stroke-width="0.8" stroke-linecap="round"/>
<path d="M142.6,316.6 L143.7,318.0 L145.3,318.8 L147.2,318.8 L151.4,317.2 L153.0,317.6 L154.7,318.9 L156.9,319.3 L163.3,318.1 L165.1,317.5 L169.6,317.1 L171.4,316.4 L171.4,314.3 L170.5,312.1 L170.5,310.3 L171.9,302.6 L171.7,300.7 L168.6,296.9 L166.8,296.4 L155.3,298.2 L151.4,298.0 L148.7,299.6 L143.8,298.3 L141.3,297.9 L139.2,298.2 L137.4,299.4 L137.1,301.4 L137.8,303.5 L137.9,305.4 L137.4,307.4 L137.9,309.6 L141.2,313.1Z" fill="#f292f1" stroke="#d050d6" stroke-width="0.9" stroke-linejoin="round"/>
<path d="M142.6,316.6 L143.7,318.0 L145.3,318.8 L147.2,318.8 L151.4,317.2 L153.0,317.6 L154.7,318.9 L156.9,319.3 L163.3,318.1 L165.1,317.5 L169.6,317.1 L171.4,316.4 L171.4,314.3 L170.5,312.1 L170.5,310.3 L171.9,302.6 L171.7,300.7 L168.6,296.9 L166.8,296.4 L155.3,298.2 L151.4,298.0 L148.7,299.6 L143.8,298.3 L141.3,297.9 L139.2,298.2 L137.4,299.4 L137.1,301.4 L137.8,303.5 L137.9,305.4 L137.4,307.4 L137.9,309.6 L141.2,313.1Z" fill="url(#spk4)"/>
<path d="M155.2,307.7 Q147.5,313.0 143.2,317.3" fill="none" stroke="#d660da" stroke-width="0.8" stroke-linecap="round"/>
<path d="M155.2,307.7 Q152.9,303.0 151.2,298.1" fill="none" stroke="#d660da" stroke-width="0.8" stroke-linecap="round"/>
<path d="M155.2,307.7 Q163.2,311.6 171.4,314.4" fill="none" stroke="#d660da" stroke-width="0.8" stroke-linecap="round"/>
<path d="M144.6,321.8 L142.4,322.4 L141.2,324.1 L141.0,328.2 L141.4,330.2 L142.6,331.8 L147.8,335.2 L148.7,336.5 L150.1,340.0 L156.1,345.9 L157.9,347.0 L162.0,346.6 L169.0,347.5 L170.9,346.8 L172.2,345.1 L172.5,342.8 L171.8,338.4 L170.5,334.2 L170.6,332.4 L171.6,328.6 L171.1,321.1 L169.8,319.7 L167.9,319.5 L166.0,319.7 L160.7,318.1 L158.5,318.2 L151.9,319.6 L146.6,321.6Z" fill="#f292f1" stroke="#d050d6" stroke-width="0.9" stroke-linejoin="round"/>
<path d="M144.6,321.8 L142.4,322.4 L141.2,324.1 L141.0,328.2 L141.4,330.2 L142.6,331.8 L147.8,335.2 L148.7,336.5 L150.1,340.0 L156.1,345.9 L157.9,347.0 L162.0,346.6 L169.0,347.5 L170.9,346.8 L172.2,345.1 L172.5,342.8 L171.8,338.4 L170.5,334.2 L170.6,332.4 L171.6,328.6 L171.1,321.1 L169.8,319.7 L167.9,319.5 L166.0,319.7 L160.7,318.1 L158.5,318.2 L151.9,319.6 L146.6,321.6Z" fill="url(#spk4)"/>
<path d="M158.7,331.9 Q154.8,337.8 154.5,344.4" fill="none" stroke="#d660da" stroke-width="0.8" stroke-linecap="round"/>
<path d="M158.7,331.9 Q150.2,328.9 141.9,323.2" fill="none" stroke="#d660da" stroke-width="0.8" stroke-linecap="round"/>
<path d="M158.7,331.9 Q165.0,331.2 171.3,330.0" fill="none" stroke="#d660da" stroke-width="0.8" stroke-linecap="round"/>
<path d="M100.7,358.0 L102.2,359.0 L104.1,359.5 L106.0,359.8 L109.7,359.6 L113.7,361.6 L115.9,361.9 L120.0,360.8 L121.8,359.8 L122.7,357.9 L123.3,353.4 L124.6,349.6 L124.3,345.6 L124.7,343.9 L128.0,339.9 L129.2,337.7 L129.1,335.5 L127.8,334.0 L125.7,333.2 L123.1,332.9 L118.0,333.2 L114.6,331.5 L109.1,329.9 L101.0,325.8 L98.5,325.2 L96.3,325.8 L94.8,327.4 L94.7,330.0 L96.4,334.8 L97.4,338.5 L97.6,340.2 L97.0,343.9 L97.3,345.9 L98.8,349.9 L98.9,354.6 L99.7,356.5Z" fill="#f292f1" stroke="#d050d6" stroke-width="0.9" stroke-linejoin="round"/>
<path d="M100.7,358.0 L102.2,359.0 L104.1,359.5 L106.0,359.8 L109.7,359.6 L113.7,361.6 L115.9,361.9 L120.0,360.8 L121.8,359.8 L122.7,357.9 L123.3,353.4 L124.6,349.6 L124.3,345.6 L124.7,343.9 L128.0,339.9 L129.2,337.7 L129.1,335.5 L127.8,334.0 L125.7,333.2 L123.1,332.9 L118.0,333.2 L114.6,331.5 L109.1,329.9 L101.0,325.8 L98.5,325.2 L96.3,325.8 L94.8,327.4 L94.7,330.0 L96.4,334.8 L97.4,338.5 L97.6,340.2 L97.0,343.9 L97.3,345.9 L98.8,349.9 L98.9,354.6 L99.7,356.5Z" fill="url(#spk4)"/>
<path d="M110.8,343.8 Q115.7,344.5 124.3,345.6" fill="none" stroke="#d660da" stroke-width="0.8" stroke-linecap="round"/>
<path d="M110.8,343.8 Q106.4,352.3 100.0,357.0" fill="none" stroke="#d660da" stroke-width="0.8" stroke-linecap="round"/>
<path d="M110.8,343.8 Q106.4,336.0 98.9,325.3" fill="none" stroke="#d660da" stroke-width="0.8" stroke-linecap="round"/>
<path d="M68.2,338.7 L68.6,344.8 L66.8,352.5 L67.4,354.5 L70.5,357.4 L71.4,359.4 L72.8,361.0 L75.0,361.7 L77.1,361.8 L78.6,362.5 L80.0,363.8 L81.6,364.7 L85.3,365.3 L87.3,365.1 L90.9,362.9 L95.5,362.3 L97.3,361.3 L98.3,359.5 L98.2,357.2 L95.3,351.1 L96.6,347.5 L96.3,345.5 L95.5,343.6 L94.8,336.9 L93.4,333.2 L92.5,331.7 L90.6,331.4 L86.7,333.0 L83.4,332.6 L69.5,337.4Z" fill="#f292f1" stroke="#d050d6" stroke-width="0.9" stroke-linejoin="round"/>
<path d="M68.2,338.7 L68.6,344.8 L66.8,352.5 L67.4,354.5 L70.5,357.4 L71.4,359.4 L72.8,361.0 L75.0,361.7 L77.1,361.8 L78.6,362.5 L80.0,363.8 L81.6,364.7 L85.3,365.3 L87.3,365.1 L90.9,362.9 L95.5,362.3 L97.3,361.3 L98.3,359.5 L98.2,357.2 L95.3,351.1 L96.6,347.5 L96.3,345.5 L95.5,343.6 L94.8,336.9 L93.4,333.2 L92.5,331.7 L90.6,331.4 L86.7,333.0 L83.4,332.6 L69.5,337.4Z" fill="url(#spk4)"/>
<path d="M83.0,348.7 Q87.7,344.8 95.4,343.1" fill="none" stroke="#d660da" stroke-width="0.8" stroke-linecap="round"/>
<path d="M83.0,348.7 Q91.2,355.1 97.1,361.5" fill="none" stroke="#d660da" stroke-width="0.8" stroke-linecap="round"/>
<path d="M83.0,348.7 Q76.6,349.5 67.2,351.0" fill="none" stroke="#d660da" stroke-width="0.8" stroke-linecap="round"/>
<path d="M35.8,370.6 L36.6,372.6 L38.7,373.1 L41.1,372.4 L44.1,371.1 L49.1,366.1 L51.7,362.2 L52.9,361.2 L54.8,360.8 L56.6,360.0 L59.0,357.5 L63.8,353.9 L65.4,352.0 L66.4,349.6 L66.1,347.5 L65.1,343.6 L63.8,342.0 L58.2,341.0 L56.0,341.2 L51.1,343.5 L45.5,344.4 L41.4,344.3 L40.0,345.2 L38.0,349.8 L36.7,355.3 L36.6,357.4 L37.3,359.2 L37.2,361.2 L35.8,366.3Z" fill="#f292f1" stroke="#d050d6" stroke-width="0.9" stroke-linejoin="round"/>
<path d="M35.8,370.6 L36.6,372.6 L38.7,373.1 L41.1,372.4 L44.1,371.1 L49.1,366.1 L51.7,362.2 L52.9,361.2 L54.8,360.8 L56.6,360.0 L59.0,357.5 L63.8,353.9 L65.4,352.0 L66.4,349.6 L66.1,347.5 L65.1,343.6 L63.8,342.0 L58.2,341.0 L56.0,341.2 L51.1,343.5 L45.5,344.4 L41.4,344.3 L40.0,345.2 L38.0,349.8 L36.7,355.3 L36.6,357.4 L37.3,359.2 L37.2,361.2 L35.8,366.3Z" fill="url(#spk4)"/>
<path d="M49.2,354.9 Q52.5,356.3 58.8,357.7" fill="none" stroke="#d660da" stroke-width="0.8" stroke-linecap="round"/>
<path d="M49.2,354.9 Q41.5,364.0 37.6,372.8" fill="none" stroke="#d660da" stroke-width="0.8" stroke-linecap="round"/>
<path d="M49.2,354.9 Q46.8,348.1 41.1,344.5" fill="none" stroke="#d660da" stroke-width="0.8" stroke-linecap="round"/>
<path d="M125.6,356.2 L124.9,360.0 L125.8,361.7 L128.9,364.1 L130.3,365.5 L131.9,366.5 L133.7,367.0 L135.9,367.0 L142.2,366.0 L144.0,365.5 L145.6,364.4 L147.4,361.0 L151.9,357.3 L155.7,351.7 L156.1,349.7 L155.0,347.9 L150.7,345.6 L149.5,344.5 L144.2,335.0 L142.5,333.3 L140.8,332.6 L139.0,332.6 L137.1,333.3 L132.4,336.9 L130.6,339.8 L128.2,342.4 L125.7,352.7Z" fill="#f292f1" stroke="#d050d6" stroke-width="0.9" stroke-linejoin="round"/>
<path d="M125.6,356.2 L124.9,360.0 L125.8,361.7 L128.9,364.1 L130.3,365.5 L131.9,366.5 L133.7,367.0 L135.9,367.0 L142.2,366.0 L144.0,365.5 L145.6,364.4 L147.4,361.0 L151.9,357.3 L155.7,351.7 L156.1,349.7 L155.0,347.9 L150.7,345.6 L149.5,344.5 L144.2,335.0 L142.5,333.3 L140.8,332.6 L139.0,332.6 L137.1,333.3 L132.4,336.9 L130.6,339.8 L128.2,342.4 L125.7,352.7Z" fill="url(#spk4)"/>
<path d="M139.0,351.1 Q141.5,359.6 143.7,365.6" fill="none" stroke="#d660da" stroke-width="0.8" stroke-linecap="round"/>
<path d="M139.0,351.1 Q131.4,355.0 126.1,361.9" fill="none" stroke="#d660da" stroke-width="0.8" stroke-linecap="round"/>
<path d="M139.0,351.1 Q141.6,344.7 147.2,340.4" fill="none" stroke="#d660da" stroke-width="0.8" stroke-linecap="round"/>
<path d="M159.8,349.2 L158.2,350.1 L156.1,353.2 L155.5,355.1 L155.3,357.2 L154.3,358.7 L152.7,360.1 L148.1,365.8 L148.2,368.1 L152.9,372.9 L158.2,375.9 L160.3,375.9 L162.5,375.2 L166.3,374.6 L170.8,372.1 L171.3,370.5 L171.4,368.7 L172.7,365.4 L172.1,361.2 L172.5,359.0 L172.6,354.8 L173.5,349.5 L172.3,347.9 L170.2,347.3 L168.0,347.4 L163.6,349.5 L161.8,349.6Z" fill="#f292f1" stroke="#d050d6" stroke-width="0.9" stroke-linejoin="round"/>
<path d="M159.8,349.2 L158.2,350.1 L156.1,353.2 L155.5,355.1 L155.3,357.2 L154.3,358.7 L152.7,360.1 L148.1,365.8 L148.2,368.1 L152.9,372.9 L158.2,375.9 L160.3,375.9 L162.5,375.2 L166.3,374.6 L170.8,372.1 L171.3,370.5 L171.4,368.7 L172.7,365.4 L172.1,361.2 L172.5,359.0 L172.6,354.8 L173.5,349.5 L172.3,347.9 L170.2,347.3 L168.0,347.4 L163.6,349.5 L161.8,349.6Z" fill="url(#spk4)"/>
<path d="M162.3,362.3 Q157.3,369.9 155.2,374.2" fill="none" stroke="#d660da" stroke-width="0.8" stroke-linecap="round"/>
<path d="M162.3,362.3 Q159.1,359.2 155.3,356.9" fill="none" stroke="#d660da" stroke-width="0.8" stroke-linecap="round"/>
<path d="M162.3,362.3 Q166.2,362.2 172.1,361.1" fill="none" stroke="#d660da" stroke-width="0.8" stroke-linecap="round"/>
<path d="M68.1,358.5 L66.6,356.8 L64.7,357.1 L61.5,360.1 L57.7,361.1 L55.8,362.1 L49.6,368.0 L44.7,372.0 L44.8,373.9 L46.4,375.6 L48.3,376.7 L50.6,379.2 L52.5,380.0 L56.8,380.8 L58.9,384.5 L60.6,385.6 L64.5,383.8 L71.0,383.7 L73.1,383.0 L76.8,381.1 L77.9,379.3 L79.7,373.1 L79.8,371.1 L79.0,369.2 L76.0,366.4 L75.3,364.8 L74.0,363.3 L70.1,362.1 L69.0,360.8Z" fill="#f292f1" stroke="#d050d6" stroke-width="0.9" stroke-linejoin="round"/>
<path d="M68.1,358.5 L66.6,356.8 L64.7,357.1 L61.5,360.1 L57.7,361.1 L55.8,362.1 L49.6,368.0 L44.7,372.0 L44.8,373.9 L46.4,375.6 L48.3,376.7 L50.6,379.2 L52.5,380.0 L56.8,380.8 L58.9,384.5 L60.6,385.6 L64.5,383.8 L71.0,383.7 L73.1,383.0 L76.8,381.1 L77.9,379.3 L79.7,373.1 L79.8,371.1 L79.0,369.2 L76.0,366.4 L75.3,364.8 L74.0,363.3 L70.1,362.1 L69.0,360.8Z" fill="url(#spk4)"/>
<path d="M63.6,372.2 Q55.5,376.0 48.8,377.2" fill="none" stroke="#d660da" stroke-width="0.8" stroke-linecap="round"/>
<path d="M63.6,372.2 Q70.5,366.7 75.2,364.8" fill="none" stroke="#d660da" stroke-width="0.8" stroke-linecap="round"/>
<path d="M63.6,372.2 Q69.2,375.3 74.9,382.1" fill="none" stroke="#d660da" stroke-width="0.8" stroke-linecap="round"/>
<path d="M82.9,367.9 L80.0,373.4 L79.6,375.5 L77.4,379.9 L77.9,382.1 L81.4,385.2 L83.3,386.4 L85.4,387.0 L88.0,389.8 L89.9,389.8 L91.8,389.3 L93.6,389.4 L95.5,388.6 L97.1,387.5 L101.0,386.9 L102.6,386.1 L105.4,383.6 L106.7,377.0 L106.4,374.7 L105.5,372.7 L105.7,368.4 L105.3,364.5 L104.5,362.5 L102.4,361.9 L100.0,362.1 L98.1,362.9 L94.4,365.7 L92.9,366.2 L91.1,366.0 L87.3,366.9 L84.9,367.1Z" fill="#f292f1" stroke="#d050d6" stroke-width="0.9" stroke-linejoin="round"/>
<path d="M82.9,367.9 L80.0,373.4 L79.6,375.5 L77.4,379.9 L77.9,382.1 L81.4,385.2 L83.3,386.4 L85.4,387.0 L88.0,389.8 L89.9,389.8 L91.8,389.3 L93.6,389.4 L95.5,388.6 L97.1,387.5 L101.0,386.9 L102.6,386.1 L105.4,383.6 L106.7,377.0 L106.4,374.7 L105.5,372.7 L105.7,368.4 L105.3,364.5 L104.5,362.5 L102.4,361.9 L100.0,362.1 L98.1,362.9 L94.4,365.7 L92.9,366.2 L91.1,366.0 L87.3,366.9 L84.9,367.1Z" fill="url(#spk4)"/>
<path d="M93.3,376.5 Q92.1,369.9 91.0,366.0" fill="none" stroke="#d660da" stroke-width="0.8" stroke-linecap="round"/>
<path d="M93.3,376.5 Q99.4,375.1 106.4,374.6" fill="none" stroke="#d660da" stroke-width="0.8" stroke-linecap="round"/>
<path d="M93.3,376.5 Q88.6,383.8 85.7,387.2" fill="none" stroke="#d660da" stroke-width="0.8" stroke-linecap="round"/>
<path d="M106.8,379.5 L107.6,387.0 L109.0,388.4 L111.0,388.7 L112.5,389.7 L113.6,391.9 L115.3,393.3 L117.3,393.5 L119.3,393.4 L121.2,392.2 L122.8,390.1 L124.5,388.9 L126.6,388.2 L127.8,386.5 L127.7,382.2 L126.0,378.1 L128.3,374.4 L129.2,370.0 L129.3,367.7 L126.3,364.8 L125.1,362.6 L123.5,361.1 L121.1,361.5 L117.0,363.5 L115.3,364.6 L113.5,364.6 L111.2,363.8 L109.2,364.1 L108.2,365.9 L106.9,371.2 L104.8,375.1 L105.6,377.5Z" fill="#f292f1" stroke="#d050d6" stroke-width="0.9" stroke-linejoin="round"/>
<path d="M106.8,379.5 L107.6,387.0 L109.0,388.4 L111.0,388.7 L112.5,389.7 L113.6,391.9 L115.3,393.3 L117.3,393.5 L119.3,393.4 L121.2,392.2 L122.8,390.1 L124.5,388.9 L126.6,388.2 L127.8,386.5 L127.7,382.2 L126.0,378.1 L128.3,374.4 L129.2,370.0 L129.3,367.7 L126.3,364.8 L125.1,362.6 L123.5,361.1 L121.1,361.5 L117.0,363.5 L115.3,364.6 L113.5,364.6 L111.2,363.8 L109.2,364.1 L108.2,365.9 L106.9,371.2 L104.8,375.1 L105.6,377.5Z" fill="url(#spk4)"/>
<path d="M117.5,377.0 Q110.7,383.0 107.9,387.3" fill="none" stroke="#d660da" stroke-width="0.8" stroke-linecap="round"/>
<path d="M117.5,377.0 Q120.8,367.3 123.6,361.2" fill="none" stroke="#d660da" stroke-width="0.8" stroke-linecap="round"/>
<path d="M117.5,377.0 Q123.2,380.3 127.7,383.4" fill="none" stroke="#d660da" stroke-width="0.8" stroke-linecap="round"/>
<path d="M128.9,385.5 L129.0,388.0 L131.0,389.3 L137.5,391.3 L139.4,391.5 L141.0,392.2 L142.7,393.5 L144.7,393.7 L146.2,392.2 L148.4,389.0 L149.6,385.5 L150.6,383.9 L154.3,380.5 L155.1,378.4 L154.9,376.3 L153.9,374.3 L152.5,372.6 L149.2,369.9 L148.0,368.0 L146.2,366.9 L143.9,367.5 L141.8,368.5 L136.5,369.9 L132.5,369.7 L130.9,370.7 L130.7,374.8 L130.0,378.8 L129.8,383.1Z" fill="#f292f1" stroke="#d050d6" stroke-width="0.9" stroke-linejoin="round"/>
<path d="M128.9,385.5 L129.0,388.0 L131.0,389.3 L137.5,391.3 L139.4,391.5 L141.0,392.2 L142.7,393.5 L144.7,393.7 L146.2,392.2 L148.4,389.0 L149.6,385.5 L150.6,383.9 L154.3,380.5 L155.1,378.4 L154.9,376.3 L153.9,374.3 L152.5,372.6 L149.2,369.9 L148.0,368.0 L146.2,366.9 L143.9,367.5 L141.8,368.5 L136.5,369.9 L132.5,369.7 L130.9,370.7 L130.7,374.8 L130.0,378.8 L129.8,383.1Z" fill="url(#spk4)"/>
<path d="M141.4,379.9 Q137.5,375.8 130.6,375.3" fill="none" stroke="#d660da" stroke-width="0.8" stroke-linecap="round"/>
<path d="M141.4,379.9 Q149.1,378.7 154.8,379.1" fill="none" stroke="#d660da" stroke-width="0.8" stroke-linecap="round"/>
<path d="M141.4,379.9 Q136.2,382.8 131.7,389.5" fill="none" stroke="#d660da" stroke-width="0.8" stroke-linecap="round"/>
<path d="M158.2,376.8 L156.2,377.5 L154.9,379.1 L154.0,381.1 L153.9,385.3 L152.9,387.1 L152.7,388.9 L153.7,392.3 L157.2,394.2 L158.9,395.5 L161.2,395.7 L163.2,395.0 L166.5,395.7 L171.2,397.3 L173.2,396.5 L173.0,391.7 L171.7,389.1 L170.0,387.1 L170.3,385.5 L171.6,383.4 L172.4,381.0 L173.1,378.2 L171.6,376.3 L162.6,378.9Z" fill="#f292f1" stroke="#d050d6" stroke-width="0.9" stroke-linejoin="round"/>
<path d="M158.2,376.8 L156.2,377.5 L154.9,379.1 L154.0,381.1 L153.9,385.3 L152.9,387.1 L152.7,388.9 L153.7,392.3 L157.2,394.2 L158.9,395.5 L161.2,395.7 L163.2,395.0 L166.5,395.7 L171.2,397.3 L173.2,396.5 L173.0,391.7 L171.7,389.1 L170.0,387.1 L170.3,385.5 L171.6,383.4 L172.4,381.0 L173.1,378.2 L171.6,376.3 L162.6,378.9Z" fill="url(#spk4)"/>
<path d="M163.3,386.7 Q165.8,392.6 167.6,396.1" fill="none" stroke="#d660da" stroke-width="0.8" stroke-linecap="round"/>
<path d="M163.3,386.7 Q156.9,384.6 153.4,386.2" fill="none" stroke="#d660da" stroke-width="0.8" stroke-linecap="round"/>
<path d="M163.3,386.7 Q169.4,381.8 171.6,376.3" fill="none" stroke="#d660da" stroke-width="0.8" stroke-linecap="round"/>
<path d="M41.6,375.5 L39.3,374.4 L37.5,375.4 L37.2,378.4 L37.7,383.2 L37.8,386.9 L37.4,390.4 L37.7,392.4 L37.6,394.2 L35.2,399.1 L35.3,401.3 L36.2,402.9 L37.2,406.6 L38.9,407.7 L41.0,407.7 L43.1,407.4 L45.2,406.7 L47.1,405.7 L48.8,405.6 L53.2,407.8 L55.2,407.7 L58.4,405.6 L59.2,404.2 L59.7,402.3 L60.1,397.9 L59.4,395.6 L58.2,393.5 L57.9,391.6 L58.7,389.6 L58.2,387.7 L54.0,386.4 L48.7,379.8 L46.9,378.3 L43.4,377.0Z" fill="#f292f1" stroke="#d050d6" stroke-width="0.9" stroke-linejoin="round"/>
<path d="M41.6,375.5 L39.3,374.4 L37.5,375.4 L37.2,378.4 L37.7,383.2 L37.8,386.9 L37.4,390.4 L37.7,392.4 L37.6,394.2 L35.2,399.1 L35.3,401.3 L36.2,402.9 L37.2,406.6 L38.9,407.7 L41.0,407.7 L43.1,407.4 L45.2,406.7 L47.1,405.7 L48.8,405.6 L53.2,407.8 L55.2,407.7 L58.4,405.6 L59.2,404.2 L59.7,402.3 L60.1,397.9 L59.4,395.6 L58.2,393.5 L57.9,391.6 L58.7,389.6 L58.2,387.7 L54.0,386.4 L48.7,379.8 L46.9,378.3 L43.4,377.0Z" fill="url(#spk4)"/>
<path d="M46.9,393.7 Q49.8,390.0 51.1,382.9" fill="none" stroke="#d660da" stroke-width="0.8" stroke-linecap="round"/>
<path d="M46.9,393.7 Q48.6,399.8 47.6,405.6" fill="none" stroke="#d660da" stroke-width="0.8" stroke-linecap="round"/>
<path d="M46.9,393.7 Q40.7,392.4 37.7,392.7" fill="none" stroke="#d660da" stroke-width="0.8" stroke-linecap="round"/>
<path d="M85.3,396.4 L85.7,392.4 L83.3,389.2 L82.5,387.0 L81.2,385.2 L77.8,382.9 L75.6,383.2 L73.6,385.0 L71.9,385.8 L68.2,386.2 L62.8,385.6 L60.8,386.7 L60.3,389.0 L60.5,391.3 L63.0,395.8 L62.7,397.6 L61.2,401.6 L59.9,404.3 L59.4,407.0 L61.3,408.4 L63.8,408.4 L66.2,407.9 L70.9,405.9 L76.5,407.3 L79.1,408.4 L81.5,408.7 L83.2,408.0 L84.9,406.8 L85.5,404.7 L84.9,402.2 L84.9,400.2 L85.5,398.4Z" fill="#f292f1" stroke="#d050d6" stroke-width="0.9" stroke-linejoin="round"/>
<path d="M85.3,396.4 L85.7,392.4 L83.3,389.2 L82.5,387.0 L81.2,385.2 L77.8,382.9 L75.6,383.2 L73.6,385.0 L71.9,385.8 L68.2,386.2 L62.8,385.6 L60.8,386.7 L60.3,389.0 L60.5,391.3 L63.0,395.8 L62.7,397.6 L61.2,401.6 L59.9,404.3 L59.4,407.0 L61.3,408.4 L63.8,408.4 L66.2,407.9 L70.9,405.9 L76.5,407.3 L79.1,408.4 L81.5,408.7 L83.2,408.0 L84.9,406.8 L85.5,404.7 L84.9,402.2 L84.9,400.2 L85.5,398.4Z" fill="url(#spk4)"/>
<path d="M73.1,396.6 Q67.6,392.9 60.3,389.4" fill="none" stroke="#d660da" stroke-width="0.8" stroke-linecap="round"/>
<path d="M73.1,396.6 Q75.8,390.4 79.3,384.0" fill="none" stroke="#d660da" stroke-width="0.8" stroke-linecap="round"/>
<path d="M73.1,396.6 Q75.1,401.3 75.8,407.1" fill="none" stroke="#d660da" stroke-width="0.8" stroke-linecap="round"/>
<path d="M113.4,397.3 L113.6,395.2 L113.0,393.3 L111.9,391.5 L109.4,390.7 L102.9,390.7 L101.2,391.1 L97.0,390.2 L94.9,390.9 L93.2,391.9 L91.0,392.3 L88.9,393.0 L88.5,395.0 L89.2,400.8 L88.6,402.7 L86.9,405.2 L86.8,407.7 L88.9,408.5 L91.6,408.2 L94.3,407.6 L98.9,405.8 L102.4,407.8 L109.1,408.3 L110.8,407.9 L112.5,407.0 L113.8,405.4 L113.3,403.2 L112.1,401.0 L112.2,399.3Z" fill="#f292f1" stroke="#d050d6" stroke-width="0.9" stroke-linejoin="round"/>
<path d="M113.4,397.3 L113.6,395.2 L113.0,393.3 L111.9,391.5 L109.4,390.7 L102.9,390.7 L101.2,391.1 L97.0,390.2 L94.9,390.9 L93.2,391.9 L91.0,392.3 L88.9,393.0 L88.5,395.0 L89.2,400.8 L88.6,402.7 L86.9,405.2 L86.8,407.7 L88.9,408.5 L91.6,408.2 L94.3,407.6 L98.9,405.8 L102.4,407.8 L109.1,408.3 L110.8,407.9 L112.5,407.0 L113.8,405.4 L113.3,403.2 L112.1,401.0 L112.2,399.3Z" fill="url(#spk4)"/>
<path d="M100.8,399.5 Q103.5,393.2 103.3,390.7" fill="none" stroke="#d660da" stroke-width="0.8" stroke-linecap="round"/>
<path d="M100.8,399.5 Q106.6,404.1 112.5,407.0" fill="none" stroke="#d660da" stroke-width="0.8" stroke-linecap="round"/>
<path d="M100.8,399.5 Q93.7,399.8 88.1,403.5" fill="none" stroke="#d660da" stroke-width="0.8" stroke-linecap="round"/>
<path d="M143.8,398.7 L141.7,396.9 L137.2,395.2 L135.1,394.8 L134.0,393.6 L133.3,391.3 L131.7,389.8 L129.8,388.3 L127.6,387.9 L124.0,391.1 L122.0,391.9 L119.0,394.4 L117.2,395.4 L117.1,397.3 L117.7,399.2 L116.0,405.2 L115.7,407.7 L117.3,408.8 L122.4,408.4 L125.1,407.6 L127.4,406.3 L132.7,406.7 L137.3,407.6 L141.3,406.8 L142.9,405.3Z" fill="#f292f1" stroke="#d050d6" stroke-width="0.9" stroke-linejoin="round"/>
<path d="M143.8,398.7 L141.7,396.9 L137.2,395.2 L135.1,394.8 L134.0,393.6 L133.3,391.3 L131.7,389.8 L129.8,388.3 L127.6,387.9 L124.0,391.1 L122.0,391.9 L119.0,394.4 L117.2,395.4 L117.1,397.3 L117.7,399.2 L116.0,405.2 L115.7,407.7 L117.3,408.8 L122.4,408.4 L125.1,407.6 L127.4,406.3 L132.7,406.7 L137.3,407.6 L141.3,406.8 L142.9,405.3Z" fill="url(#spk4)"/>
<path d="M129.0,399.8 Q136.4,399.1 143.6,400.4" fill="none" stroke="#d660da" stroke-width="0.8" stroke-linecap="round"/>
<path d="M129.0,399.8 Q124.9,404.1 124.0,407.9" fill="none" stroke="#d660da" stroke-width="0.8" stroke-linecap="round"/>
<path d="M129.0,399.8 Q128.1,394.1 124.2,390.9" fill="none" stroke="#d660da" stroke-width="0.8" stroke-linecap="round"/>
<path d="M150.9,393.2 L149.0,393.4 L145.2,395.6 L144.2,397.4 L145.8,405.3 L147.0,408.1 L148.2,409.0 L150.9,408.8 L156.1,406.3 L157.7,406.3 L164.7,408.1 L167.1,408.2 L170.3,407.4 L172.0,406.1 L172.2,404.1 L170.7,402.1 L167.7,400.1 L167.2,399.1 L166.1,398.0 L164.1,397.0 L161.5,396.4 L158.8,396.9 L157.0,397.7 L155.5,396.7 L153.3,394.6Z" fill="#f292f1" stroke="#d050d6" stroke-width="0.9" stroke-linejoin="round"/>
<path d="M150.9,393.2 L149.0,393.4 L145.2,395.6 L144.2,397.4 L145.8,405.3 L147.0,408.1 L148.2,409.0 L150.9,408.8 L156.1,406.3 L157.7,406.3 L164.7,408.1 L167.1,408.2 L170.3,407.4 L172.0,406.1 L172.2,404.1 L170.7,402.1 L167.7,400.1 L167.2,399.1 L166.1,398.0 L164.1,397.0 L161.5,396.4 L158.8,396.9 L157.0,397.7 L155.5,396.7 L153.3,394.6Z" fill="url(#spk4)"/>
<path d="M156.7,401.8 Q159.0,404.2 160.1,406.9" fill="none" stroke="#d660da" stroke-width="0.8" stroke-linecap="round"/>
<path d="M156.7,401.8 Q153.2,402.9 146.0,405.9" fill="none" stroke="#d660da" stroke-width="0.8" stroke-linecap="round"/>
<path d="M156.7,401.8 Q158.6,400.0 157.0,397.6" fill="none" stroke="#d660da" stroke-width="0.8" stroke-linecap="round"/>
<ellipse cx="66.8" cy="334.8" rx="11" ry="12" fill="#9848c8" fill-opacity="0.55" transform="rotate(0 66.8 334.8)"/>
<ellipse cx="65.8" cy="332.8" rx="5" ry="7" fill="#8a3cc0" fill-opacity="0.8" transform="rotate(0 65.8 332.8)"/>
<ellipse cx="133.8" cy="318.8" rx="4" ry="16" fill="#9040c4" fill-opacity="0.6" transform="rotate(5 133.8 318.8)"/>
<ellipse cx="43.8" cy="391.8" rx="10" ry="12" fill="#9444c4" fill-opacity="0.5" transform="rotate(0 43.8 391.8)"/>
<ellipse cx="53.8" cy="402.8" rx="4" ry="4" fill="#8c3cbc" fill-opacity="0.9" transform="rotate(0 53.8 402.8)"/>
<ellipse cx="139.8" cy="340.8" rx="4" ry="4" fill="#8c3cbc" fill-opacity="0.8" transform="rotate(0 139.8 340.8)"/>
<ellipse cx="79.8" cy="362.8" rx="5" ry="3" fill="#9a48c4" fill-opacity="0.6" transform="rotate(0 79.8 362.8)"/>
<ellipse cx="41.8" cy="324.8" rx="5" ry="9" fill="#9a4cc8" fill-opacity="0.5" transform="rotate(0 41.8 324.8)"/>
<ellipse cx="97.8" cy="396.8" rx="6" ry="4" fill="#9a4cc8" fill-opacity="0.5" transform="rotate(0 97.8 396.8)"/>
<ellipse cx="155.8" cy="366.8" rx="5" ry="6" fill="#9a4cc8" fill-opacity="0.45" transform="rotate(0 155.8 366.8)"/>
<ellipse cx="121.8" cy="358.8" rx="5" ry="3" fill="#9a4cc8" fill-opacity="0.5" transform="rotate(0 121.8 358.8)"/>
<ellipse cx="85.8" cy="326.8" rx="4" ry="3" fill="#9a4cc8" fill-opacity="0.5" transform="rotate(0 85.8 326.8)"/>
<ellipse cx="61.8" cy="328.8" rx="2.2" ry="3" transform="rotate(37 61.8 328.8)" fill="#7a2aa0"/>
<ellipse cx="71.8" cy="336.8" rx="2.5" ry="3.2" transform="rotate(-10 71.8 336.8)" fill="#7a2aa0"/>
<ellipse cx="40.8" cy="304.8" rx="2" ry="2.5" transform="rotate(-21 40.8 304.8)" fill="#7a2aa0"/>
<ellipse cx="93.8" cy="324.8" rx="1.8" ry="2.4" transform="rotate(34 93.8 324.8)" fill="#7a2aa0"/>
<ellipse cx="132.8" cy="320.8" rx="2" ry="3" transform="rotate(27 132.8 320.8)" fill="#7a2aa0"/>
<ellipse cx="139.8" cy="338.8" rx="2" ry="2.6" transform="rotate(37 139.8 338.8)" fill="#7a2aa0"/>
<ellipse cx="79.8" cy="376.8" rx="1.8" ry="2.4" transform="rotate(-7 79.8 376.8)" fill="#7a2aa0"/>
<ellipse cx="43.8" cy="388.8" rx="2.2" ry="2.6" transform="rotate(5 43.8 388.8)" fill="#7a2aa0"/>
<ellipse cx="55.8" cy="400.8" rx="2" ry="2.5" transform="rotate(6 55.8 400.8)" fill="#7a2aa0"/>
<ellipse cx="135.8" cy="396.8" rx="1.8" ry="2.4" transform="rotate(34 135.8 396.8)" fill="#7a2aa0"/>
<ellipse cx="165.8" cy="392.8" rx="1.8" ry="2.4" transform="rotate(15 165.8 392.8)" fill="#7a2aa0"/>
<ellipse cx="105.8" cy="358.8" rx="1.6" ry="2.2" transform="rotate(-28 105.8 358.8)" fill="#7a2aa0"/>
<ellipse cx="153.8" cy="372.8" rx="1.8" ry="2.2" transform="rotate(-8 153.8 372.8)" fill="#7a2aa0"/>
</g>
<clipPath id="clipE2"><rect x="182.2" y="296.8" width="137.4" height="111.9"/></clipPath>
<g clip-path="url(#clipE2)">
<rect x="182.2" y="296.8" width="137.4" height="111.9" fill="#fcf5fc"/>
<path d="M210.6,327.2 L211.4,323.6 L211.1,321.6 L209.2,320.2 L206.9,319.2 L204.0,316.7 L202.9,315.1 L202.1,312.7 L200.6,311.0 L198.2,311.4 L196.0,312.4 L191.9,313.1 L186.5,315.3 L181.8,318.5 L181.2,320.4 L182.2,329.0 L182.4,333.0 L183.7,336.0 L184.0,338.3 L185.0,340.3 L186.8,341.3 L188.8,341.6 L190.8,340.8 L194.4,337.5 L196.1,336.6 L197.8,335.2 L198.9,333.1 L200.1,331.8 L206.7,329.6 L209.1,328.6Z" fill="#cc2cbe" stroke="#b81eae" stroke-width="1.2" stroke-linejoin="round"/>
<path d="M184.7,320.7 L185.0,322.9 L185.2,325.0 L185.3,327.1 L185.7,329.2 L186.3,331.0 L186.9,332.7 L187.7,334.4 L188.0,336.4 L189.2,336.9 L190.4,336.6 L191.9,335.7 L194.0,334.0 L195.2,331.3 L196.1,329.4 L197.4,328.2 L199.4,327.7 L201.9,327.3 L204.3,326.7 L206.2,326.0 L207.4,324.9 L206.9,323.3 L205.1,322.3 L202.9,321.3 L200.9,320.4 L199.9,318.7 L199.5,316.3 L198.6,314.8 L196.5,315.3 L194.3,315.9 L192.3,317.2 L190.9,318.8 L189.2,319.5 L186.9,319.9Z" fill="#f2c2f0"/>
<path d="M184.7,320.7 L185.0,322.9 L185.2,325.0 L185.3,327.1 L185.7,329.2 L186.3,331.0 L186.9,332.7 L187.7,334.4 L188.0,336.4 L189.2,336.9 L190.4,336.6 L191.9,335.7 L194.0,334.0 L195.2,331.3 L196.1,329.4 L197.4,328.2 L199.4,327.7 L201.9,327.3 L204.3,326.7 L206.2,326.0 L207.4,324.9 L206.9,323.3 L205.1,322.3 L202.9,321.3 L200.9,320.4 L199.9,318.7 L199.5,316.3 L198.6,314.8 L196.5,315.3 L194.3,315.9 L192.3,317.2 L190.9,318.8 L189.2,319.5 L186.9,319.9Z" fill="url(#spk2)"/>
<path d="M222.8,328.3 L219.1,324.1 L217.2,323.3 L214.9,323.5 L212.7,324.8 L198.8,335.9 L191.5,338.9 L190.1,340.6 L190.0,342.6 L190.8,344.6 L192.2,346.2 L195.6,348.9 L198.0,351.9 L199.9,352.3 L204.1,350.5 L205.9,350.1 L211.7,350.4 L213.6,349.6 L215.3,348.3 L216.8,346.5 L217.7,344.5 L218.6,340.6 L220.7,337.1 L221.8,333.8 L222.7,332.1 L223.3,330.2Z" fill="#cc2cbe" stroke="#b81eae" stroke-width="1.2" stroke-linejoin="round"/>
<path d="M193.9,342.1 L196.1,343.3 L197.7,344.4 L198.7,345.9 L199.5,347.7 L200.8,348.2 L202.7,347.4 L205.0,346.6 L206.9,347.0 L209.2,347.2 L211.1,346.7 L212.6,345.2 L213.0,343.1 L213.3,341.4 L214.6,339.9 L215.6,338.1 L216.5,336.4 L217.8,334.4 L218.7,332.3 L219.9,330.3 L219.4,328.3 L217.3,327.5 L215.1,328.1 L213.6,329.2 L212.0,330.5 L210.5,331.8 L209.0,333.0 L207.6,334.6 L206.0,335.1 L203.5,335.7 L201.9,337.3 L200.5,338.8 L199.1,339.8 L197.7,340.5 L195.6,341.3Z" fill="#f2c2f0"/>
<path d="M193.9,342.1 L196.1,343.3 L197.7,344.4 L198.7,345.9 L199.5,347.7 L200.8,348.2 L202.7,347.4 L205.0,346.6 L206.9,347.0 L209.2,347.2 L211.1,346.7 L212.6,345.2 L213.0,343.1 L213.3,341.4 L214.6,339.9 L215.6,338.1 L216.5,336.4 L217.8,334.4 L218.7,332.3 L219.9,330.3 L219.4,328.3 L217.3,327.5 L215.1,328.1 L213.6,329.2 L212.0,330.5 L210.5,331.8 L209.0,333.0 L207.6,334.6 L206.0,335.1 L203.5,335.7 L201.9,337.3 L200.5,338.8 L199.1,339.8 L197.7,340.5 L195.6,341.3Z" fill="url(#spk2)"/>
<path d="M201.0,303.3 L201.2,299.1 L200.3,297.1 L198.6,296.0 L196.2,296.2 L193.7,297.2 L191.7,297.5 L189.7,297.1 L186.4,298.2 L183.7,297.9 L181.7,299.0 L181.9,301.4 L181.0,305.7 L183.4,311.1 L184.4,312.7 L185.9,313.7 L189.7,313.4 L191.7,314.3 L194.1,314.4 L195.9,312.8 L199.9,311.5 L200.0,309.1 L199.2,307.0Z" fill="#c42cb8" stroke="#b81eae" stroke-width="1.2" stroke-linejoin="round"/>
<path d="M213.0,324.6 L215.0,325.8 L217.0,325.2 L218.3,323.2 L218.9,320.8 L219.1,313.2 L220.1,309.5 L219.7,305.4 L220.3,300.8 L220.0,298.6 L218.4,297.4 L216.3,297.0 L214.2,297.3 L210.4,298.4 L208.6,298.3 L203.9,296.7 L202.0,297.5 L201.0,299.4 L200.5,303.7 L201.5,312.0 L202.8,313.5 L206.2,315.5Z" fill="#c42cb8" stroke="#b81eae" stroke-width="1.2" stroke-linejoin="round"/>
<path d="M222.2,327.2 L224.1,328.3 L226.1,327.5 L227.7,325.8 L229.7,321.5 L232.4,318.8 L233.2,316.6 L232.9,312.4 L233.5,309.0 L234.2,307.0 L234.3,305.0 L234.0,303.5 L234.5,298.6 L233.3,296.8 L231.3,296.0 L229.2,295.9 L227.1,296.4 L225.0,296.4 L222.7,295.8 L220.8,296.7 L219.9,299.2 L220.5,305.9 L220.1,309.5 L221.0,311.3 L221.3,312.8 L220.1,317.1 L219.6,321.8 L219.9,323.6Z" fill="#c42cb8" stroke="#b81eae" stroke-width="1.2" stroke-linejoin="round"/>
<path d="M235.5,303.3 L235.7,305.1 L237.1,306.2 L238.3,308.5 L240.6,307.9 L242.6,306.9 L242.6,303.9 L244.5,303.1 L247.1,298.8 L244.8,297.5 L242.5,297.2 L240.4,298.2 L238.6,297.3 L236.3,297.4 L234.8,299.0 L234.6,301.3Z" fill="#cc2cbe" stroke="#b81eae" stroke-width="1.2" stroke-linejoin="round"/>
<path d="M239.1,301.8 L239.3,302.2 L239.7,301.5 L238.8,301.8ZM238.1,302.0 L239.5,302.5 L239.2,302.4 L239.2,302.0 L238.6,301.8Z" fill="#f2c2f0"/>
<path d="M239.1,301.8 L239.3,302.2 L239.7,301.5 L238.8,301.8ZM238.1,302.0 L239.5,302.5 L239.2,302.4 L239.2,302.0 L238.6,301.8Z" fill="url(#spk2)"/>
<path d="M181.3,348.1 L182.6,354.5 L184.5,355.0 L186.4,355.1 L188.0,354.1 L189.8,354.6 L192.0,354.3 L193.9,353.4 L194.9,351.5 L195.5,349.5 L195.1,347.3 L189.7,343.8 L188.6,341.7 L185.0,341.6 L183.6,342.8 L181.9,343.7 L181.1,345.5Z" fill="#c42cb8" stroke="#b81eae" stroke-width="1.2" stroke-linejoin="round"/>
<path d="M217.3,359.8 L209.9,363.4 L203.0,362.5 L199.1,363.6 L197.4,364.8 L196.3,366.5 L194.3,372.0 L194.0,374.0 L197.1,382.9 L198.6,383.8 L202.3,385.3 L204.5,385.5 L209.4,384.4 L211.3,384.5 L215.1,385.5 L220.9,386.1 L223.0,385.8 L230.9,381.6 L231.9,380.1 L232.2,378.3 L232.0,376.3 L231.5,374.5 L229.2,371.5 L226.8,366.5 L223.8,363.6 L221.5,359.9 L219.6,359.1Z" fill="#cc2cbe" stroke="#b81eae" stroke-width="1.2" stroke-linejoin="round"/>
<path d="M219.0,362.7 L217.0,363.9 L215.1,364.9 L213.2,365.4 L211.2,366.3 L209.5,367.4 L207.9,367.7 L205.9,367.3 L203.8,366.8 L201.8,367.2 L200.2,368.3 L199.5,370.1 L199.2,372.0 L198.7,373.9 L198.5,375.8 L198.6,378.0 L199.5,379.9 L201.2,381.0 L203.0,381.9 L204.9,381.9 L206.9,381.6 L208.9,381.5 L211.3,381.5 L213.4,381.1 L215.2,381.1 L217.3,381.7 L219.4,382.1 L221.2,381.9 L222.6,380.8 L224.2,379.9 L226.0,379.1 L227.6,378.0 L227.9,376.2 L227.0,374.6 L225.5,372.9 L224.4,371.1 L224.2,369.1 L223.4,367.1 L221.9,365.6 L220.5,363.9Z" fill="#f2c2f0"/>
<path d="M219.0,362.7 L217.0,363.9 L215.1,364.9 L213.2,365.4 L211.2,366.3 L209.5,367.4 L207.9,367.7 L205.9,367.3 L203.8,366.8 L201.8,367.2 L200.2,368.3 L199.5,370.1 L199.2,372.0 L198.7,373.9 L198.5,375.8 L198.6,378.0 L199.5,379.9 L201.2,381.0 L203.0,381.9 L204.9,381.9 L206.9,381.6 L208.9,381.5 L211.3,381.5 L213.4,381.1 L215.2,381.1 L217.3,381.7 L219.4,382.1 L221.2,381.9 L222.6,380.8 L224.2,379.9 L226.0,379.1 L227.6,378.0 L227.9,376.2 L227.0,374.6 L225.5,372.9 L224.4,371.1 L224.2,369.1 L223.4,367.1 L221.9,365.6 L220.5,363.9Z" fill="url(#spk2)"/>
<path d="M231.2,372.9 L233.2,372.9 L236.9,371.7 L242.9,367.8 L247.4,363.5 L251.2,361.0 L252.2,359.2 L252.6,357.5 L254.4,354.5 L254.6,352.6 L252.8,347.4 L249.6,344.5 L246.0,339.0 L239.7,335.3 L237.9,335.2 L234.5,335.8 L233.3,336.9 L231.4,340.7 L228.0,345.7 L225.5,351.4 L224.6,354.5 L221.3,357.8 L221.0,360.0 L222.1,361.7 L229.6,371.9Z" fill="#cc2cbe" stroke="#b81eae" stroke-width="1.2" stroke-linejoin="round"/>
<path d="M225.5,359.2 L226.4,360.9 L227.6,362.5 L229.0,363.8 L229.9,365.7 L230.9,367.7 L232.1,369.4 L233.9,369.6 L235.8,369.1 L237.6,367.6 L239.4,366.3 L241.1,364.9 L242.3,362.9 L243.6,361.4 L245.3,360.3 L246.8,359.1 L248.2,357.9 L248.9,356.1 L249.4,354.3 L249.4,352.7 L248.9,350.9 L248.1,349.4 L246.8,348.0 L246.2,346.0 L245.3,343.9 L244.1,342.3 L242.7,340.7 L240.9,339.7 L239.1,339.1 L237.1,338.8 L235.7,339.6 L234.8,341.6 L233.6,343.2 L232.3,344.8 L231.5,347.1 L231.1,349.3 L230.5,351.1 L230.1,352.8 L229.7,354.5 L228.4,356.3 L226.9,357.8Z" fill="#f2c2f0"/>
<path d="M225.5,359.2 L226.4,360.9 L227.6,362.5 L229.0,363.8 L229.9,365.7 L230.9,367.7 L232.1,369.4 L233.9,369.6 L235.8,369.1 L237.6,367.6 L239.4,366.3 L241.1,364.9 L242.3,362.9 L243.6,361.4 L245.3,360.3 L246.8,359.1 L248.2,357.9 L248.9,356.1 L249.4,354.3 L249.4,352.7 L248.9,350.9 L248.1,349.4 L246.8,348.0 L246.2,346.0 L245.3,343.9 L244.1,342.3 L242.7,340.7 L240.9,339.7 L239.1,339.1 L237.1,338.8 L235.7,339.6 L234.8,341.6 L233.6,343.2 L232.3,344.8 L231.5,347.1 L231.1,349.3 L230.5,351.1 L230.1,352.8 L229.7,354.5 L228.4,356.3 L226.9,357.8Z" fill="url(#spk2)"/>
<path d="M266.8,347.4 L268.1,345.7 L268.2,343.2 L267.9,340.8 L269.1,334.8 L267.9,325.2 L268.2,323.2 L267.9,321.0 L266.7,319.5 L265.0,318.4 L260.6,314.6 L258.8,314.1 L255.2,314.2 L253.3,315.1 L249.8,317.8 L242.2,321.9 L240.4,323.3 L239.5,325.3 L238.7,329.2 L238.6,331.1 L239.6,332.9 L241.1,334.3 L243.4,337.4 L247.1,339.5 L248.4,340.7 L250.4,344.3 L254.2,349.8 L255.7,350.9 L257.6,351.2 L261.5,350.8 L263.3,349.9Z" fill="#cc2cbe" stroke="#b81eae" stroke-width="1.2" stroke-linejoin="round"/>
<path d="M263.9,344.3 L263.9,342.3 L263.8,340.4 L264.2,338.6 L264.8,336.8 L265.7,335.0 L266.1,333.0 L265.9,330.7 L264.8,328.8 L263.6,327.3 L263.3,325.6 L263.9,323.3 L262.8,321.7 L261.3,320.4 L259.9,318.9 L258.3,317.5 L256.2,317.4 L254.4,318.4 L252.7,319.7 L251.1,321.1 L249.8,322.8 L248.6,324.2 L246.8,324.9 L244.2,325.2 L242.4,326.5 L242.0,328.6 L242.2,330.6 L243.7,332.1 L245.0,333.7 L246.8,335.0 L248.8,335.8 L250.5,336.8 L252.0,337.9 L252.9,339.5 L253.6,341.7 L254.6,344.5 L255.8,346.7 L257.0,347.9 L258.8,347.3 L260.7,346.6 L262.3,345.6Z" fill="#f2c2f0"/>
<path d="M263.9,344.3 L263.9,342.3 L263.8,340.4 L264.2,338.6 L264.8,336.8 L265.7,335.0 L266.1,333.0 L265.9,330.7 L264.8,328.8 L263.6,327.3 L263.3,325.6 L263.9,323.3 L262.8,321.7 L261.3,320.4 L259.9,318.9 L258.3,317.5 L256.2,317.4 L254.4,318.4 L252.7,319.7 L251.1,321.1 L249.8,322.8 L248.6,324.2 L246.8,324.9 L244.2,325.2 L242.4,326.5 L242.0,328.6 L242.2,330.6 L243.7,332.1 L245.0,333.7 L246.8,335.0 L248.8,335.8 L250.5,336.8 L252.0,337.9 L252.9,339.5 L253.6,341.7 L254.6,344.5 L255.8,346.7 L257.0,347.9 L258.8,347.3 L260.7,346.6 L262.3,345.6Z" fill="url(#spk2)"/>
<path d="M238.3,372.7 L235.7,375.7 L235.5,377.6 L236.3,379.4 L240.6,383.6 L243.8,388.4 L245.5,389.4 L255.5,392.7 L261.0,393.6 L271.1,396.8 L275.5,397.6 L277.6,397.4 L279.4,396.3 L280.4,394.5 L280.5,389.9 L279.5,381.6 L278.8,380.0 L275.9,375.6 L273.4,370.3 L272.2,368.4 L270.6,366.9 L265.5,363.7 L259.0,357.0 L257.1,356.3 L255.2,356.4 L251.9,358.0 L250.3,359.3 L241.8,368.2Z" fill="#cc2cbe" stroke="#b81eae" stroke-width="1.2" stroke-linejoin="round"/>
<path d="M239.3,377.2 L240.9,378.6 L242.1,380.1 L243.5,381.6 L244.8,383.2 L246.0,384.9 L247.4,386.2 L249.5,386.8 L251.9,387.0 L253.9,387.2 L255.7,387.8 L257.5,388.2 L259.3,388.2 L261.1,388.7 L263.1,389.9 L265.2,390.9 L267.2,391.6 L269.2,392.3 L271.3,393.1 L273.4,393.7 L275.2,393.8 L276.6,393.2 L276.9,391.3 L277.1,389.4 L276.9,387.3 L276.7,385.3 L276.8,383.3 L276.2,381.4 L274.7,379.5 L273.1,377.7 L272.0,375.9 L271.0,374.1 L269.7,372.5 L268.2,371.2 L266.8,369.9 L265.4,368.7 L263.7,367.6 L262.2,366.5 L260.9,364.8 L259.5,363.2 L258.1,362.0 L256.7,361.0 L254.9,361.7 L253.2,362.4 L251.7,363.8 L250.3,365.1 L248.6,366.2 L246.7,367.3 L245.1,368.8 L243.8,370.4 L242.5,372.1 L241.1,373.8 L240.1,375.6Z" fill="#f2c2f0"/>
<path d="M239.3,377.2 L240.9,378.6 L242.1,380.1 L243.5,381.6 L244.8,383.2 L246.0,384.9 L247.4,386.2 L249.5,386.8 L251.9,387.0 L253.9,387.2 L255.7,387.8 L257.5,388.2 L259.3,388.2 L261.1,388.7 L263.1,389.9 L265.2,390.9 L267.2,391.6 L269.2,392.3 L271.3,393.1 L273.4,393.7 L275.2,393.8 L276.6,393.2 L276.9,391.3 L277.1,389.4 L276.9,387.3 L276.7,385.3 L276.8,383.3 L276.2,381.4 L274.7,379.5 L273.1,377.7 L272.0,375.9 L271.0,374.1 L269.7,372.5 L268.2,371.2 L266.8,369.9 L265.4,368.7 L263.7,367.6 L262.2,366.5 L260.9,364.8 L259.5,363.2 L258.1,362.0 L256.7,361.0 L254.9,361.7 L253.2,362.4 L251.7,363.8 L250.3,365.1 L248.6,366.2 L246.7,367.3 L245.1,368.8 L243.8,370.4 L242.5,372.1 L241.1,373.8 L240.1,375.6Z" fill="url(#spk2)"/>
<path d="M261.2,351.0 L260.2,352.6 L260.1,354.5 L260.6,356.3 L261.6,357.8 L266.3,362.1 L270.3,368.7 L272.5,373.0 L274.4,374.0 L276.6,373.8 L278.5,372.8 L281.2,369.5 L282.9,368.1 L284.8,367.8 L287.0,368.7 L290.1,371.2 L291.8,371.2 L293.6,370.4 L295.0,369.1 L295.9,367.4 L295.9,365.3 L292.8,356.7 L292.1,352.8 L288.9,347.6 L287.5,346.2 L285.5,345.7 L281.4,345.4 L277.0,344.2 L268.8,345.1 L267.2,345.9 L264.8,348.9Z" fill="#cc2cbe" stroke="#b81eae" stroke-width="1.2" stroke-linejoin="round"/>
<path d="M263.1,353.6 L264.2,355.5 L266.2,356.9 L268.4,358.2 L270.1,359.4 L270.9,361.0 L271.6,362.9 L272.6,364.6 L273.7,366.0 L274.6,367.7 L275.3,370.0 L276.7,369.5 L278.0,368.3 L279.6,366.9 L281.4,365.5 L283.3,364.6 L284.9,363.9 L286.4,364.1 L288.1,364.8 L290.0,366.3 L291.8,366.6 L291.4,364.6 L290.4,362.6 L289.8,360.9 L289.8,359.1 L289.8,357.2 L289.7,355.0 L288.8,353.0 L287.5,351.2 L286.0,349.7 L283.8,349.7 L281.6,350.0 L279.8,349.7 L278.0,348.8 L276.1,348.3 L274.3,348.8 L272.4,349.1 L270.3,349.0 L268.3,349.9 L266.5,351.3 L264.7,352.4Z" fill="#f2c2f0"/>
<path d="M263.1,353.6 L264.2,355.5 L266.2,356.9 L268.4,358.2 L270.1,359.4 L270.9,361.0 L271.6,362.9 L272.6,364.6 L273.7,366.0 L274.6,367.7 L275.3,370.0 L276.7,369.5 L278.0,368.3 L279.6,366.9 L281.4,365.5 L283.3,364.6 L284.9,363.9 L286.4,364.1 L288.1,364.8 L290.0,366.3 L291.8,366.6 L291.4,364.6 L290.4,362.6 L289.8,360.9 L289.8,359.1 L289.8,357.2 L289.7,355.0 L288.8,353.0 L287.5,351.2 L286.0,349.7 L283.8,349.7 L281.6,350.0 L279.8,349.7 L278.0,348.8 L276.1,348.3 L274.3,348.8 L272.4,349.1 L270.3,349.0 L268.3,349.9 L266.5,351.3 L264.7,352.4Z" fill="url(#spk2)"/>
<path d="M268.7,319.7 L270.1,321.2 L272.1,321.3 L276.2,320.6 L280.4,321.4 L282.7,321.5 L286.8,320.8 L288.6,319.8 L289.8,318.1 L290.9,314.1 L291.2,312.0 L290.4,307.8 L290.4,306.0 L291.9,301.9 L291.6,300.0 L289.8,298.8 L285.0,297.1 L283.2,296.8 L279.0,297.3 L272.7,295.9 L270.4,295.9 L268.4,296.2 L266.6,297.2 L260.6,303.3 L260.0,305.3 L261.1,309.4 L261.4,313.1 L262.6,314.6 L266.7,316.5 L267.9,317.7Z" fill="#cc2cbe" stroke="#b81eae" stroke-width="1.2" stroke-linejoin="round"/>
<path d="M264.9,311.6 L266.7,312.5 L268.7,313.4 L270.5,314.5 L271.8,315.9 L273.1,316.5 L275.0,315.9 L276.8,316.5 L279.0,317.9 L281.1,318.3 L283.0,317.8 L285.2,317.6 L287.1,316.7 L287.4,314.4 L287.1,312.1 L286.3,310.0 L285.6,308.2 L285.8,306.3 L286.9,304.1 L287.8,302.1 L285.7,301.6 L284.0,300.7 L282.5,299.9 L280.3,300.0 L277.9,300.6 L275.8,300.7 L273.9,300.5 L272.1,300.2 L270.1,300.2 L268.5,301.3 L267.3,302.9 L265.8,304.2 L263.5,305.4 L263.3,307.4 L264.1,309.5Z" fill="#f2c2f0"/>
<path d="M264.9,311.6 L266.7,312.5 L268.7,313.4 L270.5,314.5 L271.8,315.9 L273.1,316.5 L275.0,315.9 L276.8,316.5 L279.0,317.9 L281.1,318.3 L283.0,317.8 L285.2,317.6 L287.1,316.7 L287.4,314.4 L287.1,312.1 L286.3,310.0 L285.6,308.2 L285.8,306.3 L286.9,304.1 L287.8,302.1 L285.7,301.6 L284.0,300.7 L282.5,299.9 L280.3,300.0 L277.9,300.6 L275.8,300.7 L273.9,300.5 L272.1,300.2 L270.1,300.2 L268.5,301.3 L267.3,302.9 L265.8,304.2 L263.5,305.4 L263.3,307.4 L264.1,309.5Z" fill="url(#spk2)"/>
<path d="M296.5,328.9 L298.4,329.6 L302.4,330.2 L306.5,330.1 L313.2,330.9 L317.1,329.8 L318.8,328.7 L319.6,326.7 L318.7,319.8 L318.8,318.0 L318.6,314.1 L319.2,310.2 L318.6,304.6 L318.8,300.5 L317.9,298.8 L316.4,297.6 L313.1,296.1 L304.5,295.5 L300.4,296.5 L296.2,296.5 L294.3,297.1 L293.0,298.7 L291.7,302.4 L291.4,304.5 L291.8,308.9 L291.5,312.8 L291.7,314.6 L291.5,316.4 L290.9,318.3 L290.8,320.4 L295.1,327.4Z" fill="#cc2cbe" stroke="#b81eae" stroke-width="1.2" stroke-linejoin="round"/>
<path d="M299.0,325.0 L300.7,326.0 L302.6,326.4 L304.6,326.2 L306.6,326.3 L308.7,326.9 L310.8,327.2 L312.8,327.5 L315.0,327.4 L316.3,326.3 L315.7,323.8 L314.7,321.2 L314.1,319.0 L314.2,317.1 L314.0,315.3 L314.1,313.5 L314.9,311.6 L315.6,309.5 L315.2,307.5 L314.8,305.6 L315.0,303.5 L315.4,301.0 L314.0,299.7 L311.9,299.1 L309.8,299.0 L307.7,299.1 L305.6,299.8 L303.8,300.7 L302.0,301.2 L300.0,300.9 L297.9,300.6 L296.4,301.3 L295.5,302.9 L295.0,304.8 L295.3,306.8 L295.5,308.9 L294.9,310.8 L294.2,312.9 L294.5,315.1 L294.9,317.1 L294.8,318.8 L295.8,320.3 L297.2,321.6 L298.2,323.0Z" fill="#f2c2f0"/>
<path d="M299.0,325.0 L300.7,326.0 L302.6,326.4 L304.6,326.2 L306.6,326.3 L308.7,326.9 L310.8,327.2 L312.8,327.5 L315.0,327.4 L316.3,326.3 L315.7,323.8 L314.7,321.2 L314.1,319.0 L314.2,317.1 L314.0,315.3 L314.1,313.5 L314.9,311.6 L315.6,309.5 L315.2,307.5 L314.8,305.6 L315.0,303.5 L315.4,301.0 L314.0,299.7 L311.9,299.1 L309.8,299.0 L307.7,299.1 L305.6,299.8 L303.8,300.7 L302.0,301.2 L300.0,300.9 L297.9,300.6 L296.4,301.3 L295.5,302.9 L295.0,304.8 L295.3,306.8 L295.5,308.9 L294.9,310.8 L294.2,312.9 L294.5,315.1 L294.9,317.1 L294.8,318.8 L295.8,320.3 L297.2,321.6 L298.2,323.0Z" fill="url(#spk2)"/>
<path d="M293.6,337.2 L289.7,346.3 L289.9,348.2 L292.5,351.5 L293.4,353.2 L294.1,357.3 L295.9,364.0 L297.0,365.9 L298.9,366.7 L303.1,366.5 L305.2,366.6 L307.2,366.2 L313.1,364.5 L314.8,363.6 L318.7,360.0 L319.3,358.5 L320.1,352.8 L320.2,350.7 L319.8,346.4 L320.6,342.0 L320.6,339.8 L318.7,332.9 L317.4,331.7 L312.3,329.9 L306.3,330.2 L300.1,329.7 L297.9,329.9 L296.0,330.7 L294.8,332.5Z" fill="#cc2cbe" stroke="#b81eae" stroke-width="1.2" stroke-linejoin="round"/>
<path d="M293.2,346.8 L294.4,348.4 L296.0,350.0 L297.1,351.7 L297.8,353.5 L298.5,355.0 L298.8,356.9 L298.7,359.6 L298.9,362.2 L300.1,363.6 L302.1,363.7 L304.3,363.4 L306.4,362.3 L308.3,361.5 L310.2,361.2 L312.0,360.3 L313.4,358.8 L314.9,357.7 L315.5,355.9 L315.9,354.1 L316.9,352.4 L317.7,350.5 L317.1,348.2 L316.2,346.1 L316.1,344.2 L316.0,342.5 L315.9,340.7 L316.0,338.5 L315.7,336.2 L314.6,334.9 L312.8,334.1 L310.9,333.3 L308.9,333.4 L306.8,333.3 L304.6,333.1 L302.7,333.5 L301.0,334.4 L299.2,334.7 L298.5,336.2 L297.8,337.9 L296.7,339.3 L295.3,340.8 L294.6,342.8 L294.2,344.9Z" fill="#f2c2f0"/>
<path d="M293.2,346.8 L294.4,348.4 L296.0,350.0 L297.1,351.7 L297.8,353.5 L298.5,355.0 L298.8,356.9 L298.7,359.6 L298.9,362.2 L300.1,363.6 L302.1,363.7 L304.3,363.4 L306.4,362.3 L308.3,361.5 L310.2,361.2 L312.0,360.3 L313.4,358.8 L314.9,357.7 L315.5,355.9 L315.9,354.1 L316.9,352.4 L317.7,350.5 L317.1,348.2 L316.2,346.1 L316.1,344.2 L316.0,342.5 L315.9,340.7 L316.0,338.5 L315.7,336.2 L314.6,334.9 L312.8,334.1 L310.9,333.3 L308.9,333.4 L306.8,333.3 L304.6,333.1 L302.7,333.5 L301.0,334.4 L299.2,334.7 L298.5,336.2 L297.8,337.9 L296.7,339.3 L295.3,340.8 L294.6,342.8 L294.2,344.9Z" fill="url(#spk2)"/>
<path d="M286.4,347.0 L288.7,346.9 L290.4,345.3 L293.8,335.3 L295.9,332.0 L296.5,330.0 L295.7,328.2 L292.6,325.6 L290.3,322.6 L288.8,321.4 L285.4,320.1 L283.5,319.4 L281.3,319.4 L272.8,320.8 L271.1,321.8 L269.8,323.4 L268.9,325.1 L268.5,327.1 L269.4,333.4 L269.5,338.8 L269.2,342.9 L270.0,344.8 L271.8,345.5 L282.0,346.0Z" fill="#c42cb8" stroke="#b81eae" stroke-width="1.2" stroke-linejoin="round"/>
<path d="M288.6,402.5 L287.8,404.5 L288.1,406.4 L289.3,408.0 L291.1,408.9 L293.1,409.2 L299.6,408.3 L305.5,408.4 L311.3,407.9 L315.5,408.5 L317.6,408.2 L319.0,406.9 L319.7,405.0 L320.4,399.3 L320.3,397.1 L318.8,390.7 L318.5,385.1 L318.8,381.2 L320.2,373.7 L319.7,371.7 L318.1,370.3 L316.0,369.9 L313.9,370.2 L311.7,370.9 L305.7,374.0 L300.3,375.0 L292.1,377.2 L290.5,378.6 L290.1,380.7 L292.6,387.6 L294.3,395.1 L293.6,396.9Z" fill="#cc2cbe" stroke="#b81eae" stroke-width="1.2" stroke-linejoin="round"/>
<path d="M291.2,405.4 L293.0,405.9 L295.2,405.6 L297.4,405.1 L299.6,404.7 L301.6,404.9 L303.6,405.1 L305.8,404.9 L307.7,403.9 L309.5,403.1 L311.4,403.0 L313.5,403.8 L315.7,404.4 L316.0,402.4 L316.1,400.3 L316.3,398.3 L316.3,396.5 L316.2,394.7 L316.1,392.6 L316.0,390.5 L316.0,388.2 L315.5,386.1 L314.9,384.3 L314.7,382.6 L314.9,380.6 L315.5,378.3 L315.9,376.4 L315.9,374.9 L314.3,375.0 L312.4,375.7 L310.9,376.1 L309.2,376.5 L307.5,377.1 L305.5,377.6 L303.4,377.9 L301.3,378.2 L299.3,378.7 L297.2,379.2 L295.0,379.6 L293.5,380.5 L294.4,382.7 L295.8,385.0 L297.1,387.2 L297.6,389.1 L297.7,390.9 L297.9,392.8 L298.6,394.6 L298.5,396.3 L297.6,398.1 L296.0,400.0 L294.2,401.9 L292.6,403.7Z" fill="#f2c2f0"/>
<path d="M291.2,405.4 L293.0,405.9 L295.2,405.6 L297.4,405.1 L299.6,404.7 L301.6,404.9 L303.6,405.1 L305.8,404.9 L307.7,403.9 L309.5,403.1 L311.4,403.0 L313.5,403.8 L315.7,404.4 L316.0,402.4 L316.1,400.3 L316.3,398.3 L316.3,396.5 L316.2,394.7 L316.1,392.6 L316.0,390.5 L316.0,388.2 L315.5,386.1 L314.9,384.3 L314.7,382.6 L314.9,380.6 L315.5,378.3 L315.9,376.4 L315.9,374.9 L314.3,375.0 L312.4,375.7 L310.9,376.1 L309.2,376.5 L307.5,377.1 L305.5,377.6 L303.4,377.9 L301.3,378.2 L299.3,378.7 L297.2,379.2 L295.0,379.6 L293.5,380.5 L294.4,382.7 L295.8,385.0 L297.1,387.2 L297.6,389.1 L297.7,390.9 L297.9,392.8 L298.6,394.6 L298.5,396.3 L297.6,398.1 L296.0,400.0 L294.2,401.9 L292.6,403.7Z" fill="url(#spk2)"/>
<path d="M229.5,381.6 L229.1,383.7 L231.2,384.9 L231.6,387.0 L233.6,388.1 L234.8,385.5 L237.3,385.8 L238.7,384.0 L236.4,382.3 L236.5,380.2 L234.8,378.8ZM214.6,406.4 L216.4,408.0 L219.4,408.3 L232.9,408.0 L238.0,409.8 L241.5,408.9 L247.2,408.7 L248.9,408.3 L250.1,407.0 L249.6,401.7 L248.7,400.6 L244.7,399.2 L241.9,397.3 L237.9,396.3 L235.4,396.3 L233.0,397.0 L231.2,397.1 L229.2,396.4 L227.3,396.3 L225.9,396.7 L224.2,396.7 L219.2,395.8 L216.9,396.4 L215.3,398.0 L215.1,400.1 L215.4,402.2Z" fill="#cc2cbe" stroke="#b81eae" stroke-width="1.2" stroke-linejoin="round"/>
<path d="M219.1,404.4 L221.9,404.3 L223.9,404.2 L225.6,404.2 L227.3,404.2 L229.3,404.1 L231.2,404.1 L233.7,404.7 L236.1,405.3 L237.4,405.6 L239.6,405.8 L242.3,405.4 L243.4,405.1 L244.7,404.8 L245.9,403.7 L243.8,403.0 L241.2,402.2 L239.6,401.2 L238.0,400.6 L236.3,400.2 L234.4,400.7 L232.5,401.0 L230.1,400.2 L227.7,399.5 L226.2,400.3 L224.0,400.3 L221.3,399.9 L220.2,399.8 L219.5,400.4 L219.2,402.4Z" fill="#f2c2f0"/>
<path d="M219.1,404.4 L221.9,404.3 L223.9,404.2 L225.6,404.2 L227.3,404.2 L229.3,404.1 L231.2,404.1 L233.7,404.7 L236.1,405.3 L237.4,405.6 L239.6,405.8 L242.3,405.4 L243.4,405.1 L244.7,404.8 L245.9,403.7 L243.8,403.0 L241.2,402.2 L239.6,401.2 L238.0,400.6 L236.3,400.2 L234.4,400.7 L232.5,401.0 L230.1,400.2 L227.7,399.5 L226.2,400.3 L224.0,400.3 L221.3,399.9 L220.2,399.8 L219.5,400.4 L219.2,402.4Z" fill="url(#spk2)"/>
<path d="M189.1,402.9 L188.1,405.0 L188.0,407.2 L189.1,408.9 L191.9,409.0 L197.2,407.7 L200.7,407.9 L204.8,409.3 L208.8,408.8 L211.1,409.0 L213.0,408.6 L214.0,407.0 L214.5,405.2 L214.4,401.4 L216.6,397.0 L215.7,395.2 L213.4,394.4 L210.8,394.4 L205.8,395.3 L202.6,393.4 L196.2,391.6 L194.3,392.2 L191.9,395.4 L191.5,397.5 L191.6,399.4 L190.8,401.1Z" fill="#c42cb8" stroke="#b81eae" stroke-width="1.2" stroke-linejoin="round"/>
<path d="M187.4,388.7 L185.4,390.7 L184.4,392.3 L182.2,392.6 L181.2,394.7 L182.1,397.1 L182.5,399.1 L183.5,400.8 L185.5,400.8 L189.7,402.5 L190.8,399.8 L190.1,396.9 L191.2,395.4 L192.0,393.3 L189.6,389.7Z" fill="#c42cb8" stroke="#b81eae" stroke-width="1.2" stroke-linejoin="round"/>
<ellipse cx="199.7" cy="323.3" rx="2.8" ry="3.0" transform="rotate(-24 199.7 323.3)" fill="#3a0c40"/>
<ellipse cx="211.2" cy="321.8" rx="2.8" ry="2.4" transform="rotate(-2 211.2 321.8)" fill="#3a0c40"/>
<ellipse cx="202.2" cy="312.8" rx="2.2" ry="2.4" transform="rotate(27 202.2 312.8)" fill="#3a0c40"/>
<ellipse cx="188.2" cy="358.8" rx="2.2" ry="3.2" transform="rotate(10 188.2 358.8)" fill="#3a0c40"/>
<ellipse cx="196.2" cy="372.8" rx="3.0" ry="3.4" transform="rotate(1 196.2 372.8)" fill="#3a0c40"/>
<ellipse cx="222.2" cy="380.8" rx="2.4" ry="2.8" transform="rotate(5 222.2 380.8)" fill="#3a0c40"/>
<ellipse cx="244.2" cy="344.8" rx="2.2" ry="2.6" transform="rotate(39 244.2 344.8)" fill="#3a0c40"/>
<ellipse cx="256.2" cy="310.8" rx="3" ry="2.6" transform="rotate(17 256.2 310.8)" fill="#3a0c40"/>
<ellipse cx="272.2" cy="340.8" rx="2.2" ry="2.6" transform="rotate(-37 272.2 340.8)" fill="#3a0c40"/>
<ellipse cx="268.2" cy="366.8" rx="2.4" ry="2.6" transform="rotate(-3 268.2 366.8)" fill="#3a0c40"/>
<ellipse cx="282.2" cy="354.8" rx="2.2" ry="2.6" transform="rotate(20 282.2 354.8)" fill="#3a0c40"/>
<ellipse cx="300.2" cy="342.8" rx="2.8" ry="3.2" transform="rotate(20 300.2 342.8)" fill="#3a0c40"/>
<ellipse cx="313.2" cy="348.8" rx="3" ry="3.6" transform="rotate(37 313.2 348.8)" fill="#3a0c40"/>
<ellipse cx="310.2" cy="329.8" rx="2.2" ry="2.4" transform="rotate(4 310.2 329.8)" fill="#3a0c40"/>
<ellipse cx="304.2" cy="374.8" rx="2.4" ry="2.8" transform="rotate(31 304.2 374.8)" fill="#3a0c40"/>
<ellipse cx="266.2" cy="390.8" rx="3" ry="3" transform="rotate(29 266.2 390.8)" fill="#3a0c40"/>
<ellipse cx="250.2" cy="362.8" rx="2.4" ry="2.6" transform="rotate(29 250.2 362.8)" fill="#3a0c40"/>
<ellipse cx="234.2" cy="399.8" rx="3" ry="2.6" transform="rotate(38 234.2 399.8)" fill="#3a0c40"/>
<ellipse cx="200.2" cy="398.8" rx="3.4" ry="3.8" transform="rotate(-30 200.2 398.8)" fill="#3a0c40"/>
<ellipse cx="220.2" cy="306.8" rx="2.2" ry="2.4" transform="rotate(-20 220.2 306.8)" fill="#3a0c40"/>
<ellipse cx="234.2" cy="302.8" rx="2.2" ry="2.4" transform="rotate(-37 234.2 302.8)" fill="#3a0c40"/>
<ellipse cx="292.2" cy="304.8" rx="2.4" ry="2.8" transform="rotate(24 292.2 304.8)" fill="#3a0c40"/>
<ellipse cx="190.2" cy="300.8" rx="2.2" ry="2.2" transform="rotate(1 190.2 300.8)" fill="#3a0c40"/>
<ellipse cx="282.2" cy="326.8" rx="2.2" ry="2.4" transform="rotate(-24 282.2 326.8)" fill="#3a0c40"/>
<ellipse cx="286.2" cy="336.8" rx="2.2" ry="2.4" transform="rotate(31 286.2 336.8)" fill="#3a0c40"/>
<ellipse cx="277.2" cy="318.8" rx="2" ry="2.2" transform="rotate(-6 277.2 318.8)" fill="#3a0c40"/>
<ellipse cx="206.2" cy="304.8" rx="2.2" ry="2.4" transform="rotate(-36 206.2 304.8)" fill="#3a0c40"/>
<ellipse cx="186.2" cy="336.8" rx="2" ry="2.6" transform="rotate(-2 186.2 336.8)" fill="#3a0c40"/>
<ellipse cx="242.2" cy="368.8" rx="2.2" ry="2.4" transform="rotate(-30 242.2 368.8)" fill="#3a0c40"/>
<ellipse cx="312.2" cy="390.8" rx="2.4" ry="2.8" transform="rotate(0 312.2 390.8)" fill="#3a0c40"/>
</g>
<clipPath id="clipF1"><rect x="389.1" y="297.1" width="137.3" height="111.4"/></clipPath>
<g clip-path="url(#clipF1)">
<rect x="389.1" y="297.1" width="137.3" height="111.4" fill="#fcf5fc"/>
<path d="M393.0,296.2 L389.8,298.9 L389.1,300.6 L389.9,305.9 L389.9,309.5 L387.8,312.9 L389.0,317.2 L388.9,319.3 L389.6,324.5 L393.1,329.1 L395.0,329.8 L401.1,327.8 L402.7,326.3 L403.6,324.6 L403.7,322.3 L402.7,319.6 L402.5,317.9 L403.4,316.7 L403.8,314.8 L403.7,312.6 L403.4,310.4 L402.4,308.6 L402.0,306.7 L402.0,304.5 L400.8,302.1 L400.3,300.0 L399.1,298.0 L397.2,296.8 L395.2,295.9Z" fill="#c936c6" stroke="#b628b4" stroke-width="1.2" stroke-linejoin="round"/>
<path d="M392.7,300.6 L392.8,302.1 L393.5,305.3 L393.8,307.9 L393.9,309.7 L393.5,311.4 L392.5,312.9 L392.5,314.5 L391.9,317.1 L391.9,319.5 L392.5,320.9 L392.8,322.9 L394.0,324.4 L395.2,325.7 L397.0,324.2 L398.7,323.8 L400.1,323.3 L399.4,321.2 L399.1,319.5 L399.5,317.9 L400.7,315.9 L400.6,313.5 L399.4,311.8 L398.9,309.9 L398.3,308.2 L398.0,306.9 L397.6,304.4 L397.1,301.8 L396.1,299.5 L394.3,299.4Z" fill="#f3c4f1"/>
<path d="M392.7,300.6 L392.8,302.1 L393.5,305.3 L393.8,307.9 L393.9,309.7 L393.5,311.4 L392.5,312.9 L392.5,314.5 L391.9,317.1 L391.9,319.5 L392.5,320.9 L392.8,322.9 L394.0,324.4 L395.2,325.7 L397.0,324.2 L398.7,323.8 L400.1,323.3 L399.4,321.2 L399.1,319.5 L399.5,317.9 L400.7,315.9 L400.6,313.5 L399.4,311.8 L398.9,309.9 L398.3,308.2 L398.0,306.9 L397.6,304.4 L397.1,301.8 L396.1,299.5 L394.3,299.4Z" fill="url(#spk2)"/>
<path d="M409.5,357.0 L412.1,357.2 L414.6,356.6 L416.1,355.2 L416.5,353.4 L415.4,348.1 L414.4,346.4 L412.7,345.4 L410.7,345.4 L407.1,347.6 L406.0,346.2 L404.5,345.0 L402.5,344.8 L396.8,345.4 L392.6,344.4 L390.5,344.5 L388.9,345.6 L388.4,347.5 L388.4,349.7 L388.6,356.3 L389.8,364.6 L389.3,370.6 L390.0,375.8 L389.6,382.4 L390.4,384.5 L392.0,385.8 L393.9,386.3 L400.0,385.8 L402.1,385.1 L405.9,383.1 L407.5,381.9 L408.7,380.3 L409.1,378.5 L408.2,368.2 L408.2,362.7 L408.7,358.8Z" fill="#c936c6" stroke="#b628b4" stroke-width="1.2" stroke-linejoin="round"/>
<path d="M392.2,348.5 L392.0,350.1 L392.0,352.0 L392.1,354.1 L392.1,356.0 L392.0,357.7 L392.1,359.7 L392.7,361.9 L393.1,364.1 L393.1,366.2 L393.3,368.0 L393.6,369.6 L393.8,371.3 L393.8,373.4 L393.8,375.6 L393.6,377.8 L393.3,380.2 L393.0,383.0 L394.8,383.8 L397.0,383.4 L399.1,382.9 L401.0,382.1 L402.7,380.5 L404.2,378.7 L404.9,376.8 L404.8,375.1 L404.7,373.4 L404.6,371.6 L404.8,370.1 L405.3,368.6 L405.8,366.4 L405.6,363.9 L405.3,361.7 L405.3,359.7 L405.1,358.0 L405.4,356.7 L406.3,355.2 L408.3,354.0 L410.4,353.8 L412.4,353.6 L412.4,351.4 L412.4,349.0 L411.0,349.1 L409.1,350.3 L407.1,350.9 L405.2,350.2 L403.7,348.9 L401.9,348.7 L399.9,349.1 L398.0,349.1 L396.0,349.1 L394.1,348.9Z" fill="#f3c4f1"/>
<path d="M392.2,348.5 L392.0,350.1 L392.0,352.0 L392.1,354.1 L392.1,356.0 L392.0,357.7 L392.1,359.7 L392.7,361.9 L393.1,364.1 L393.1,366.2 L393.3,368.0 L393.6,369.6 L393.8,371.3 L393.8,373.4 L393.8,375.6 L393.6,377.8 L393.3,380.2 L393.0,383.0 L394.8,383.8 L397.0,383.4 L399.1,382.9 L401.0,382.1 L402.7,380.5 L404.2,378.7 L404.9,376.8 L404.8,375.1 L404.7,373.4 L404.6,371.6 L404.8,370.1 L405.3,368.6 L405.8,366.4 L405.6,363.9 L405.3,361.7 L405.3,359.7 L405.1,358.0 L405.4,356.7 L406.3,355.2 L408.3,354.0 L410.4,353.8 L412.4,353.6 L412.4,351.4 L412.4,349.0 L411.0,349.1 L409.1,350.3 L407.1,350.9 L405.2,350.2 L403.7,348.9 L401.9,348.7 L399.9,349.1 L398.0,349.1 L396.0,349.1 L394.1,348.9Z" fill="url(#spk2)"/>
<path d="M392.5,386.2 L390.5,386.9 L389.0,388.3 L388.3,390.2 L388.0,392.3 L388.2,394.6 L389.7,398.7 L389.4,402.7 L389.7,404.5 L393.6,408.1 L395.2,409.2 L397.3,409.2 L399.5,408.7 L401.6,408.9 L403.9,409.5 L406.1,409.4 L407.8,408.5 L409.0,406.7 L409.5,404.7 L410.3,395.2 L411.7,390.7 L411.9,388.2 L411.1,386.4 L408.3,383.8 L406.5,382.9 L404.4,383.4 L400.3,386.1 L396.5,385.6Z" fill="#d050cd" stroke="#b628b4" stroke-width="1.2" stroke-linejoin="round"/>
<path d="M420.3,319.0 L420.3,321.4 L421.7,323.0 L424.2,323.3 L428.8,321.8 L434.5,321.1 L440.7,321.5 L442.8,321.0 L444.2,319.5 L446.5,313.8 L446.9,311.6 L446.6,302.1 L445.0,298.9 L443.8,297.5 L442.3,296.7 L440.4,296.3 L438.2,296.2 L431.7,296.6 L428.0,297.9 L426.4,299.0 L425.3,300.5 L424.9,302.5 L424.8,306.7 L424.4,308.5 L422.6,312.3Z" fill="#c936c6" stroke="#b628b4" stroke-width="1.2" stroke-linejoin="round"/>
<path d="M424.1,319.4 L425.6,319.2 L427.1,319.2 L429.2,319.1 L431.8,317.8 L434.0,316.7 L435.8,316.8 L437.7,317.1 L440.0,317.9 L441.8,317.2 L442.4,315.0 L443.2,313.1 L443.8,311.1 L443.2,308.9 L442.7,307.0 L442.5,305.2 L442.2,303.4 L441.9,301.1 L440.9,299.0 L438.7,298.8 L436.4,299.4 L434.2,300.2 L432.5,301.3 L430.7,301.7 L428.7,302.0 L428.3,303.9 L428.1,305.9 L427.6,308.0 L427.4,310.1 L426.6,312.0 L425.8,313.8 L425.9,315.3 L425.4,317.0Z" fill="#f3c4f1"/>
<path d="M424.1,319.4 L425.6,319.2 L427.1,319.2 L429.2,319.1 L431.8,317.8 L434.0,316.7 L435.8,316.8 L437.7,317.1 L440.0,317.9 L441.8,317.2 L442.4,315.0 L443.2,313.1 L443.8,311.1 L443.2,308.9 L442.7,307.0 L442.5,305.2 L442.2,303.4 L441.9,301.1 L440.9,299.0 L438.7,298.8 L436.4,299.4 L434.2,300.2 L432.5,301.3 L430.7,301.7 L428.7,302.0 L428.3,303.9 L428.1,305.9 L427.6,308.0 L427.4,310.1 L426.6,312.0 L425.8,313.8 L425.9,315.3 L425.4,317.0Z" fill="url(#spk2)"/>
<path d="M472.7,325.1 L474.5,323.8 L475.2,321.7 L475.0,319.4 L472.3,311.1 L472.0,306.9 L471.3,305.0 L469.5,302.1 L468.9,300.3 L467.7,298.8 L462.3,297.5 L460.3,297.5 L456.5,298.3 L452.1,296.9 L449.9,297.0 L448.3,298.3 L447.4,300.1 L446.9,302.1 L446.6,306.6 L445.0,310.5 L444.4,312.7 L445.0,318.6 L445.6,320.4 L451.8,325.2 L455.5,326.1 L457.1,327.1 L460.2,330.2 L462.1,330.9 L464.1,330.6 L465.9,329.8 L468.9,326.9 L470.5,325.8Z" fill="#c936c6" stroke="#b628b4" stroke-width="1.2" stroke-linejoin="round"/>
<path d="M466.1,301.2 L463.7,301.5 L461.6,301.7 L459.7,302.1 L457.9,302.9 L456.1,302.9 L453.9,301.5 L451.7,300.4 L450.4,301.6 L449.9,303.3 L449.6,305.4 L449.7,307.8 L449.0,309.8 L448.1,311.6 L448.1,313.7 L448.5,315.7 L448.6,317.7 L450.2,319.0 L452.2,319.8 L453.6,321.0 L455.2,321.8 L457.0,322.5 L458.6,324.2 L460.3,326.3 L461.9,327.8 L463.7,327.8 L465.3,326.2 L466.5,324.3 L467.6,322.5 L469.3,321.7 L471.1,320.9 L470.6,319.0 L470.1,317.2 L469.9,315.4 L469.1,313.4 L468.5,311.5 L468.9,309.3 L468.9,307.1 L467.9,305.2 L466.9,303.2Z" fill="#f3c4f1"/>
<path d="M466.1,301.2 L463.7,301.5 L461.6,301.7 L459.7,302.1 L457.9,302.9 L456.1,302.9 L453.9,301.5 L451.7,300.4 L450.4,301.6 L449.9,303.3 L449.6,305.4 L449.7,307.8 L449.0,309.8 L448.1,311.6 L448.1,313.7 L448.5,315.7 L448.6,317.7 L450.2,319.0 L452.2,319.8 L453.6,321.0 L455.2,321.8 L457.0,322.5 L458.6,324.2 L460.3,326.3 L461.9,327.8 L463.7,327.8 L465.3,326.2 L466.5,324.3 L467.6,322.5 L469.3,321.7 L471.1,320.9 L470.6,319.0 L470.1,317.2 L469.9,315.4 L469.1,313.4 L468.5,311.5 L468.9,309.3 L468.9,307.1 L467.9,305.2 L466.9,303.2Z" fill="url(#spk2)"/>
<path d="M502.1,304.7 L503.4,303.4 L504.3,301.5 L503.9,299.6 L502.0,298.4 L498.0,296.7 L489.3,296.8 L485.1,296.3 L483.0,297.0 L481.6,298.1 L479.9,298.2 L475.6,297.7 L473.4,297.8 L471.6,298.8 L471.0,300.7 L471.1,302.7 L470.0,306.7 L473.3,314.5 L474.2,316.2 L475.7,317.5 L477.9,317.4 L481.9,314.7 L484.9,314.2 L488.7,312.8 L492.3,310.7 L497.2,309.0 L499.0,306.6Z" fill="#c936c6" stroke="#b628b4" stroke-width="1.2" stroke-linejoin="round"/>
<path d="M474.2,301.2 L474.3,303.3 L473.8,305.3 L473.6,307.3 L474.6,309.1 L475.8,310.7 L476.8,312.4 L478.2,312.7 L479.8,311.5 L481.1,311.2 L482.8,312.0 L485.1,311.5 L487.0,309.7 L488.1,308.1 L489.6,307.3 L491.7,306.8 L494.0,306.2 L496.2,305.0 L497.7,303.5 L499.1,302.5 L500.1,301.4 L498.4,300.6 L496.0,300.4 L493.3,300.8 L491.4,300.9 L490.1,300.4 L488.6,299.7 L486.4,299.1 L484.2,299.8 L482.6,301.6 L481.4,302.5 L479.5,302.3 L476.8,301.5Z" fill="#f3c4f1"/>
<path d="M474.2,301.2 L474.3,303.3 L473.8,305.3 L473.6,307.3 L474.6,309.1 L475.8,310.7 L476.8,312.4 L478.2,312.7 L479.8,311.5 L481.1,311.2 L482.8,312.0 L485.1,311.5 L487.0,309.7 L488.1,308.1 L489.6,307.3 L491.7,306.8 L494.0,306.2 L496.2,305.0 L497.7,303.5 L499.1,302.5 L500.1,301.4 L498.4,300.6 L496.0,300.4 L493.3,300.8 L491.4,300.9 L490.1,300.4 L488.6,299.7 L486.4,299.1 L484.2,299.8 L482.6,301.6 L481.4,302.5 L479.5,302.3 L476.8,301.5Z" fill="url(#spk2)"/>
<path d="M479.2,317.6 L475.5,319.9 L474.8,321.8 L475.6,323.7 L477.4,325.1 L485.2,327.8 L486.6,328.8 L489.4,331.8 L491.2,332.7 L493.2,332.5 L495.1,331.7 L496.8,330.8 L502.0,327.2 L506.4,325.3 L508.0,324.0 L509.0,322.4 L509.4,320.4 L508.9,318.4 L506.2,313.2 L506.4,308.9 L505.6,307.1 L503.8,306.2 L501.8,306.2 L500.1,306.8 L495.0,309.7 L491.3,310.0 L489.1,310.7 L481.8,315.4Z" fill="#c936c6" stroke="#b628b4" stroke-width="1.2" stroke-linejoin="round"/>
<path d="M479.3,321.9 L482.2,322.3 L484.1,322.9 L485.4,323.7 L486.8,324.7 L488.1,326.4 L489.8,327.7 L491.4,329.0 L493.2,329.3 L495.2,328.3 L496.8,326.5 L498.2,324.9 L499.2,323.4 L501.3,322.9 L504.0,322.4 L505.3,321.2 L505.2,319.2 L504.7,317.3 L504.0,315.3 L503.6,313.0 L503.2,311.1 L502.2,310.2 L500.3,311.1 L498.6,312.1 L496.8,313.2 L495.0,313.7 L493.2,314.2 L491.2,314.1 L488.6,314.2 L486.7,315.5 L485.2,316.9 L483.7,318.2 L482.7,319.5 L480.8,320.8Z" fill="#f3c4f1"/>
<path d="M479.3,321.9 L482.2,322.3 L484.1,322.9 L485.4,323.7 L486.8,324.7 L488.1,326.4 L489.8,327.7 L491.4,329.0 L493.2,329.3 L495.2,328.3 L496.8,326.5 L498.2,324.9 L499.2,323.4 L501.3,322.9 L504.0,322.4 L505.3,321.2 L505.2,319.2 L504.7,317.3 L504.0,315.3 L503.6,313.0 L503.2,311.1 L502.2,310.2 L500.3,311.1 L498.6,312.1 L496.8,313.2 L495.0,313.7 L493.2,314.2 L491.2,314.1 L488.6,314.2 L486.7,315.5 L485.2,316.9 L483.7,318.2 L482.7,319.5 L480.8,320.8Z" fill="url(#spk2)"/>
<path d="M413.9,341.3 L414.0,343.1 L414.8,344.9 L416.4,346.3 L422.2,348.0 L424.7,350.0 L426.4,350.9 L434.7,352.8 L440.7,353.5 L444.6,354.6 L446.5,354.6 L448.0,353.3 L450.2,350.0 L455.8,346.8 L460.7,342.4 L461.9,340.7 L462.1,338.7 L460.5,332.9 L459.5,331.3 L458.2,330.1 L452.8,327.2 L445.1,321.0 L443.2,320.1 L441.2,319.8 L439.0,320.1 L433.2,323.2 L429.5,323.8 L423.3,324.1 L421.2,324.7 L419.7,326.2 L419.3,328.2 L418.9,332.3 L415.1,337.7Z" fill="#c936c6" stroke="#b628b4" stroke-width="1.2" stroke-linejoin="round"/>
<path d="M417.5,341.8 L418.0,343.4 L419.5,344.1 L421.6,344.7 L423.9,345.3 L425.8,346.5 L427.3,347.8 L429.2,348.4 L431.3,348.8 L433.5,348.9 L435.5,349.1 L437.5,349.0 L439.4,348.8 L441.1,348.7 L443.0,349.5 L445.2,350.5 L446.6,349.3 L447.8,347.7 L449.4,346.5 L451.3,345.5 L453.2,344.6 L454.9,343.4 L456.5,342.0 L458.2,340.6 L459.5,338.9 L458.6,336.9 L457.3,335.0 L455.6,333.5 L453.8,332.5 L452.2,331.6 L450.5,330.6 L448.9,329.5 L447.6,328.1 L446.2,326.7 L444.6,325.5 L443.0,324.5 L441.2,323.7 L439.4,323.6 L437.5,323.9 L435.5,324.8 L433.6,325.9 L431.6,326.5 L429.7,327.1 L428.0,327.6 L426.3,327.9 L424.3,328.0 L422.9,329.1 L422.8,331.1 L423.0,333.2 L422.5,335.0 L421.3,336.6 L419.8,338.1 L418.4,339.8Z" fill="#f3c4f1"/>
<path d="M417.5,341.8 L418.0,343.4 L419.5,344.1 L421.6,344.7 L423.9,345.3 L425.8,346.5 L427.3,347.8 L429.2,348.4 L431.3,348.8 L433.5,348.9 L435.5,349.1 L437.5,349.0 L439.4,348.8 L441.1,348.7 L443.0,349.5 L445.2,350.5 L446.6,349.3 L447.8,347.7 L449.4,346.5 L451.3,345.5 L453.2,344.6 L454.9,343.4 L456.5,342.0 L458.2,340.6 L459.5,338.9 L458.6,336.9 L457.3,335.0 L455.6,333.5 L453.8,332.5 L452.2,331.6 L450.5,330.6 L448.9,329.5 L447.6,328.1 L446.2,326.7 L444.6,325.5 L443.0,324.5 L441.2,323.7 L439.4,323.6 L437.5,323.9 L435.5,324.8 L433.6,325.9 L431.6,326.5 L429.7,327.1 L428.0,327.6 L426.3,327.9 L424.3,328.0 L422.9,329.1 L422.8,331.1 L423.0,333.2 L422.5,335.0 L421.3,336.6 L419.8,338.1 L418.4,339.8Z" fill="url(#spk2)"/>
<path d="M480.1,357.7 L483.5,356.7 L487.5,356.9 L489.6,356.6 L491.3,355.7 L492.6,354.2 L494.2,350.3 L496.6,346.8 L496.0,344.6 L493.1,340.6 L492.0,337.0 L491.3,333.1 L490.1,331.6 L486.2,330.1 L482.8,327.3 L480.8,326.4 L475.4,325.6 L467.9,327.5 L464.9,330.2 L463.0,331.3 L461.5,332.8 L461.0,334.8 L460.9,339.1 L462.2,341.0 L466.6,343.5 L468.1,346.5 L472.2,350.9 L478.5,357.0Z" fill="#c936c6" stroke="#b628b4" stroke-width="1.2" stroke-linejoin="round"/>
<path d="M480.5,354.5 L482.4,353.5 L484.4,353.2 L486.7,353.7 L488.8,353.6 L489.6,351.5 L489.8,349.2 L490.7,347.6 L492.0,346.1 L491.0,344.5 L489.9,342.9 L489.0,341.2 L488.1,339.4 L487.7,337.6 L488.2,335.2 L487.2,333.6 L485.1,332.9 L483.2,331.9 L481.6,330.4 L479.8,329.2 L477.7,328.8 L475.5,328.4 L473.4,329.0 L471.8,330.3 L470.2,331.2 L468.4,332.2 L466.6,333.3 L465.4,334.6 L465.5,336.6 L465.7,338.5 L467.5,339.5 L469.1,340.4 L469.9,341.7 L470.4,343.6 L471.9,345.1 L473.4,346.5 L474.4,348.5 L475.7,350.5 L477.3,352.0 L478.9,353.3Z" fill="#f3c4f1"/>
<path d="M480.5,354.5 L482.4,353.5 L484.4,353.2 L486.7,353.7 L488.8,353.6 L489.6,351.5 L489.8,349.2 L490.7,347.6 L492.0,346.1 L491.0,344.5 L489.9,342.9 L489.0,341.2 L488.1,339.4 L487.7,337.6 L488.2,335.2 L487.2,333.6 L485.1,332.9 L483.2,331.9 L481.6,330.4 L479.8,329.2 L477.7,328.8 L475.5,328.4 L473.4,329.0 L471.8,330.3 L470.2,331.2 L468.4,332.2 L466.6,333.3 L465.4,334.6 L465.5,336.6 L465.7,338.5 L467.5,339.5 L469.1,340.4 L469.9,341.7 L470.4,343.6 L471.9,345.1 L473.4,346.5 L474.4,348.5 L475.7,350.5 L477.3,352.0 L478.9,353.3Z" fill="url(#spk2)"/>
<path d="M494.0,344.2 L495.3,345.9 L499.5,346.8 L501.6,347.0 L505.7,345.6 L507.2,344.6 L511.4,344.8 L512.3,343.0 L512.6,341.2 L512.3,339.3 L512.6,337.6 L513.5,335.5 L512.2,331.3 L510.9,324.5 L508.8,324.1 L504.7,325.5 L503.1,326.8 L501.4,327.6 L499.0,330.9 L497.0,331.4 L495.1,332.2 L493.4,333.5 L493.1,335.5 L493.9,337.5 L493.4,339.6 L493.5,342.0Z" fill="#c936c6" stroke="#b628b4" stroke-width="1.2" stroke-linejoin="round"/>
<path d="M497.4,335.4 L497.7,337.2 L497.6,339.1 L496.8,341.4 L497.2,343.6 L499.4,344.1 L501.7,343.7 L503.8,342.1 L505.6,341.4 L507.3,340.8 L508.4,340.2 L507.7,338.1 L508.3,336.5 L509.7,334.5 L509.3,332.4 L508.9,330.1 L508.2,328.5 L506.8,327.9 L505.1,329.1 L503.3,330.8 L502.4,333.2 L501.6,334.9 L499.3,334.8Z" fill="#f3c4f1"/>
<path d="M497.4,335.4 L497.7,337.2 L497.6,339.1 L496.8,341.4 L497.2,343.6 L499.4,344.1 L501.7,343.7 L503.8,342.1 L505.6,341.4 L507.3,340.8 L508.4,340.2 L507.7,338.1 L508.3,336.5 L509.7,334.5 L509.3,332.4 L508.9,330.1 L508.2,328.5 L506.8,327.9 L505.1,329.1 L503.3,330.8 L502.4,333.2 L501.6,334.9 L499.3,334.8Z" fill="url(#spk2)"/>
<path d="M493.3,352.9 L492.0,356.6 L492.7,358.4 L494.0,359.9 L494.8,361.8 L496.0,363.6 L498.2,364.0 L500.4,363.7 L502.6,363.2 L506.2,361.5 L511.0,362.8 L513.5,362.8 L515.7,361.9 L516.5,359.9 L513.9,355.3 L513.9,353.5 L514.7,349.2 L514.8,346.7 L513.1,345.2 L504.0,347.4 L502.1,347.1 L499.7,346.2 L497.3,346.1 L495.6,347.2 L494.4,348.9 L493.6,350.9Z" fill="#c936c6" stroke="#b628b4" stroke-width="1.2" stroke-linejoin="round"/>
<path d="M497.3,353.4 L496.8,355.3 L496.5,357.1 L497.0,359.1 L497.7,361.2 L500.8,359.6 L502.7,358.3 L504.3,358.2 L506.3,357.9 L508.8,358.6 L510.9,359.2 L512.1,359.0 L509.8,356.7 L509.4,355.0 L511.0,352.8 L511.2,350.7 L510.9,349.3 L508.6,350.0 L506.3,350.9 L504.3,351.8 L502.5,351.0 L499.7,349.2 L498.2,349.5 L497.6,351.5Z" fill="#f3c4f1"/>
<path d="M497.3,353.4 L496.8,355.3 L496.5,357.1 L497.0,359.1 L497.7,361.2 L500.8,359.6 L502.7,358.3 L504.3,358.2 L506.3,357.9 L508.8,358.6 L510.9,359.2 L512.1,359.0 L509.8,356.7 L509.4,355.0 L511.0,352.8 L511.2,350.7 L510.9,349.3 L508.6,350.0 L506.3,350.9 L504.3,351.8 L502.5,351.0 L499.7,349.2 L498.2,349.5 L497.6,351.5Z" fill="url(#spk2)"/>
<path d="M421.7,386.3 L423.5,387.0 L425.4,386.7 L430.8,384.7 L435.9,381.6 L448.1,378.5 L450.2,377.4 L451.3,375.6 L451.6,373.5 L450.4,367.3 L448.4,361.4 L448.0,357.2 L446.8,355.5 L444.8,354.7 L438.7,353.7 L432.8,353.6 L419.2,348.3 L417.2,348.9 L416.0,350.6 L415.7,352.6 L414.9,362.5 L414.1,366.6 L414.0,368.7 L416.3,378.7 L419.0,383.4Z" fill="#c936c6" stroke="#b628b4" stroke-width="1.2" stroke-linejoin="round"/>
<path d="M419.3,352.1 L419.1,354.2 L418.7,356.1 L418.6,358.1 L418.6,360.3 L418.4,362.3 L417.9,364.3 L418.0,366.3 L418.4,368.3 L419.0,370.1 L419.4,371.9 L420.0,373.7 L420.4,375.5 L420.6,377.6 L421.2,379.7 L422.2,381.5 L423.5,383.1 L425.3,383.3 L427.2,382.6 L429.2,381.6 L430.9,380.5 L432.7,379.8 L434.6,379.0 L436.6,378.3 L438.8,378.0 L441.1,377.7 L443.1,377.0 L444.7,376.1 L446.4,375.4 L447.9,374.4 L447.3,372.2 L446.4,370.2 L446.1,368.3 L445.8,366.5 L445.1,364.7 L444.4,362.8 L444.4,360.8 L444.3,358.8 L442.2,358.4 L440.1,358.3 L438.3,357.8 L436.5,357.6 L434.6,357.5 L432.6,357.2 L430.7,355.9 L428.6,354.8 L426.6,354.3 L424.7,353.6 L422.7,352.9 L420.9,352.4Z" fill="#f3c4f1"/>
<path d="M419.3,352.1 L419.1,354.2 L418.7,356.1 L418.6,358.1 L418.6,360.3 L418.4,362.3 L417.9,364.3 L418.0,366.3 L418.4,368.3 L419.0,370.1 L419.4,371.9 L420.0,373.7 L420.4,375.5 L420.6,377.6 L421.2,379.7 L422.2,381.5 L423.5,383.1 L425.3,383.3 L427.2,382.6 L429.2,381.6 L430.9,380.5 L432.7,379.8 L434.6,379.0 L436.6,378.3 L438.8,378.0 L441.1,377.7 L443.1,377.0 L444.7,376.1 L446.4,375.4 L447.9,374.4 L447.3,372.2 L446.4,370.2 L446.1,368.3 L445.8,366.5 L445.1,364.7 L444.4,362.8 L444.4,360.8 L444.3,358.8 L442.2,358.4 L440.1,358.3 L438.3,357.8 L436.5,357.6 L434.6,357.5 L432.6,357.2 L430.7,355.9 L428.6,354.8 L426.6,354.3 L424.7,353.6 L422.7,352.9 L420.9,352.4Z" fill="url(#spk2)"/>
<path d="M469.7,373.5 L471.9,373.7 L473.4,372.5 L475.1,368.7 L479.5,364.0 L480.6,362.1 L481.1,360.1 L480.8,358.0 L479.6,356.3 L473.4,350.6 L469.5,349.0 L468.0,348.1 L465.3,344.7 L463.8,343.4 L462.1,343.4 L455.6,346.5 L454.2,347.9 L451.9,351.2 L448.2,353.6 L446.8,355.3 L446.6,357.4 L448.8,365.7 L449.5,369.9 L450.3,371.8 L452.0,372.9 L456.4,372.7 L460.0,373.6 L462.0,373.6 L465.6,372.4 L467.5,372.7Z" fill="#d050cd" stroke="#b628b4" stroke-width="1.2" stroke-linejoin="round"/>
<path d="M475.1,379.2 L478.7,380.9 L480.7,380.8 L482.7,380.1 L484.7,380.2 L486.8,381.2 L489.3,383.7 L491.0,384.1 L495.5,380.9 L495.7,378.8 L495.4,375.3 L493.7,371.3 L493.0,367.7 L493.1,365.5 L494.2,360.7 L493.4,358.6 L492.0,356.8 L489.7,356.8 L483.4,358.2 L481.5,359.1 L480.0,360.4 L476.9,369.9 L475.2,371.5 L473.8,373.3 L473.7,375.3 L474.0,377.4Z" fill="#d050cd" stroke="#b628b4" stroke-width="1.2" stroke-linejoin="round"/>
<path d="M457.5,398.6 L462.3,407.0 L464.0,408.0 L468.0,407.2 L469.9,407.1 L474.1,408.3 L478.6,409.0 L480.9,408.8 L482.5,407.4 L482.5,402.6 L483.5,396.5 L483.3,392.3 L482.3,390.5 L477.6,386.2 L476.6,384.9 L476.7,382.6 L476.4,380.5 L474.4,376.6 L473.1,374.9 L471.2,374.1 L469.1,374.1 L464.9,373.0 L462.7,372.9 L455.4,374.4 L452.0,375.5 L450.3,376.5 L449.4,378.0 L449.9,380.0 L451.7,383.8 L453.4,389.2 L453.7,393.2 L454.5,395.4Z" fill="#c936c6" stroke="#b628b4" stroke-width="1.2" stroke-linejoin="round"/>
<path d="M452.7,378.3 L453.7,380.4 L454.9,382.5 L456.1,384.7 L457.1,386.8 L457.7,388.6 L457.5,390.4 L457.5,392.4 L458.6,394.0 L460.2,395.3 L461.3,396.9 L461.9,399.0 L462.6,401.3 L463.6,403.5 L464.8,405.2 L466.9,404.6 L469.1,404.2 L471.0,403.9 L472.8,403.9 L474.5,404.0 L476.4,404.4 L478.6,405.0 L478.8,403.2 L478.8,401.1 L478.9,399.0 L479.2,397.0 L479.8,395.3 L480.3,393.4 L479.3,391.9 L477.9,390.4 L476.2,388.9 L474.6,387.2 L473.3,385.6 L472.8,384.0 L472.4,382.4 L471.7,380.6 L470.9,378.5 L469.1,377.8 L467.1,377.6 L465.3,377.4 L463.3,377.0 L461.2,376.9 L458.9,376.8 L456.6,376.9 L454.5,377.5Z" fill="#f3c4f1"/>
<path d="M452.7,378.3 L453.7,380.4 L454.9,382.5 L456.1,384.7 L457.1,386.8 L457.7,388.6 L457.5,390.4 L457.5,392.4 L458.6,394.0 L460.2,395.3 L461.3,396.9 L461.9,399.0 L462.6,401.3 L463.6,403.5 L464.8,405.2 L466.9,404.6 L469.1,404.2 L471.0,403.9 L472.8,403.9 L474.5,404.0 L476.4,404.4 L478.6,405.0 L478.8,403.2 L478.8,401.1 L478.9,399.0 L479.2,397.0 L479.8,395.3 L480.3,393.4 L479.3,391.9 L477.9,390.4 L476.2,388.9 L474.6,387.2 L473.3,385.6 L472.8,384.0 L472.4,382.4 L471.7,380.6 L470.9,378.5 L469.1,377.8 L467.1,377.6 L465.3,377.4 L463.3,377.0 L461.2,376.9 L458.9,376.8 L456.6,376.9 L454.5,377.5Z" fill="url(#spk2)"/>
<path d="M425.2,386.8 L423.2,387.9 L422.4,389.9 L422.7,392.1 L426.7,405.7 L427.7,407.3 L429.3,408.2 L435.6,407.5 L443.0,407.5 L452.0,409.3 L456.0,409.1 L457.9,408.6 L459.5,407.3 L460.3,405.4 L459.9,403.3 L458.0,399.4 L456.2,393.7 L452.5,388.7 L449.0,382.4 L447.9,380.9 L446.3,379.8 L444.6,379.6 L442.8,380.1 L439.1,381.9 L433.4,383.9 L429.7,385.6Z" fill="#c936c6" stroke="#b628b4" stroke-width="1.2" stroke-linejoin="round"/>
<path d="M425.9,390.3 L426.4,392.3 L426.9,394.3 L427.7,396.2 L428.6,398.1 L429.4,399.9 L430.2,401.6 L430.8,403.3 L432.2,403.8 L433.6,404.1 L435.2,404.5 L437.4,404.6 L439.6,404.2 L441.7,404.2 L443.9,404.7 L446.1,405.2 L447.9,405.2 L449.5,405.1 L451.1,405.2 L452.8,405.1 L454.6,404.9 L455.7,403.8 L455.3,402.3 L454.7,400.7 L453.9,398.7 L453.2,396.8 L452.9,394.9 L452.4,393.1 L451.4,391.2 L449.7,389.6 L448.2,388.2 L447.0,386.7 L446.0,385.1 L444.7,383.9 L442.9,384.6 L441.2,385.3 L439.4,386.1 L437.7,387.0 L435.8,387.4 L433.5,387.5 L431.0,387.9 L428.9,388.6 L427.4,389.5Z" fill="#f3c4f1"/>
<path d="M425.9,390.3 L426.4,392.3 L426.9,394.3 L427.7,396.2 L428.6,398.1 L429.4,399.9 L430.2,401.6 L430.8,403.3 L432.2,403.8 L433.6,404.1 L435.2,404.5 L437.4,404.6 L439.6,404.2 L441.7,404.2 L443.9,404.7 L446.1,405.2 L447.9,405.2 L449.5,405.1 L451.1,405.2 L452.8,405.1 L454.6,404.9 L455.7,403.8 L455.3,402.3 L454.7,400.7 L453.9,398.7 L453.2,396.8 L452.9,394.9 L452.4,393.1 L451.4,391.2 L449.7,389.6 L448.2,388.2 L447.0,386.7 L446.0,385.1 L444.7,383.9 L442.9,384.6 L441.2,385.3 L439.4,386.1 L437.7,387.0 L435.8,387.4 L433.5,387.5 L431.0,387.9 L428.9,388.6 L427.4,389.5Z" fill="url(#spk2)"/>
<path d="M490.7,388.5 L486.4,389.5 L484.8,390.8 L483.5,392.4 L482.9,394.4 L482.7,396.5 L483.1,400.4 L482.6,404.4 L483.2,406.3 L484.8,407.5 L490.3,408.5 L496.3,408.8 L500.5,409.5 L502.7,409.1 L506.4,407.9 L511.9,407.5 L513.7,406.8 L515.3,405.7 L516.5,404.1 L517.3,402.3 L517.6,400.2 L517.1,393.7 L515.1,388.5 L515.0,386.6 L514.6,384.6 L513.3,383.3 L506.1,380.5 L503.8,380.6 L497.6,382.0 L495.9,383.0Z" fill="#c936c6" stroke="#b628b4" stroke-width="1.2" stroke-linejoin="round"/>
<path d="M486.9,403.7 L488.3,404.4 L490.2,404.8 L492.3,404.9 L494.2,405.2 L496.1,405.6 L498.2,406.0 L500.3,406.5 L502.5,406.5 L504.5,405.5 L506.0,404.1 L507.6,403.5 L509.5,403.4 L511.4,403.0 L512.8,401.7 L513.8,400.1 L514.1,398.1 L513.7,396.1 L513.3,394.1 L513.0,392.1 L512.7,389.9 L512.2,387.8 L511.8,385.8 L509.7,385.2 L507.4,385.1 L505.2,385.2 L503.3,385.4 L501.6,385.4 L499.7,385.6 L498.0,386.4 L496.5,387.5 L494.9,388.8 L493.6,390.5 L491.9,391.7 L489.3,392.0 L487.1,392.5 L486.2,394.0 L486.4,396.1 L486.9,398.0 L487.6,399.8 L487.7,401.6Z" fill="#f3c4f1"/>
<path d="M486.9,403.7 L488.3,404.4 L490.2,404.8 L492.3,404.9 L494.2,405.2 L496.1,405.6 L498.2,406.0 L500.3,406.5 L502.5,406.5 L504.5,405.5 L506.0,404.1 L507.6,403.5 L509.5,403.4 L511.4,403.0 L512.8,401.7 L513.8,400.1 L514.1,398.1 L513.7,396.1 L513.3,394.1 L513.0,392.1 L512.7,389.9 L512.2,387.8 L511.8,385.8 L509.7,385.2 L507.4,385.1 L505.2,385.2 L503.3,385.4 L501.6,385.4 L499.7,385.6 L498.0,386.4 L496.5,387.5 L494.9,388.8 L493.6,390.5 L491.9,391.7 L489.3,392.0 L487.1,392.5 L486.2,394.0 L486.4,396.1 L486.9,398.0 L487.6,399.8 L487.7,401.6Z" fill="url(#spk2)"/>
<ellipse cx="393.1" cy="303.1" rx="2.5" ry="3" transform="rotate(-13 393.1 303.1)" fill="#3a0c40"/>
<ellipse cx="428.1" cy="309.1" rx="3" ry="5" transform="rotate(20 428.1 309.1)" fill="#3a0c40"/>
<ellipse cx="460.1" cy="323.1" rx="4" ry="2.2" transform="rotate(0 460.1 323.1)" fill="#3a0c40"/>
<ellipse cx="496.1" cy="301.1" rx="3" ry="2.5" transform="rotate(26 496.1 301.1)" fill="#3a0c40"/>
<ellipse cx="501.7" cy="319.1" rx="2.4" ry="3.4" transform="rotate(-33 501.7 319.1)" fill="#3a0c40"/>
<ellipse cx="453.9" cy="338.9" rx="3" ry="3" transform="rotate(10 453.9 338.9)" fill="#3a0c40"/>
<ellipse cx="437.1" cy="320.1" rx="2.5" ry="2" transform="rotate(7 437.1 320.1)" fill="#3a0c40"/>
<ellipse cx="489.5" cy="335.6" rx="3.2" ry="3.2" transform="rotate(-6 489.5 335.6)" fill="#3a0c40"/>
<ellipse cx="465.1" cy="337.8" rx="2.5" ry="2.5" transform="rotate(1 465.1 337.8)" fill="#3a0c40"/>
<ellipse cx="507.1" cy="337.1" rx="3" ry="3.4" transform="rotate(28 507.1 337.1)" fill="#3a0c40"/>
<ellipse cx="505.1" cy="354.1" rx="3.5" ry="2.5" transform="rotate(-3 505.1 354.1)" fill="#3a0c40"/>
<ellipse cx="406.1" cy="367.8" rx="3" ry="4" transform="rotate(11 406.1 367.8)" fill="#3a0c40"/>
<ellipse cx="420.1" cy="379.1" rx="2.6" ry="3" transform="rotate(-17 420.1 379.1)" fill="#3a0c40"/>
<ellipse cx="454.1" cy="350.1" rx="2.4" ry="2.4" transform="rotate(5 454.1 350.1)" fill="#3a0c40"/>
<ellipse cx="462.1" cy="370.1" rx="2.6" ry="2.6" transform="rotate(-37 462.1 370.1)" fill="#3a0c40"/>
<ellipse cx="471.1" cy="364.1" rx="2.6" ry="2.6" transform="rotate(-7 471.1 364.1)" fill="#3a0c40"/>
<ellipse cx="465.1" cy="391.1" rx="2.4" ry="2.4" transform="rotate(-24 465.1 391.1)" fill="#3a0c40"/>
<ellipse cx="510.6" cy="383.1" rx="3.4" ry="3.6" transform="rotate(-2 510.6 383.1)" fill="#3a0c40"/>
<ellipse cx="485.1" cy="399.1" rx="3" ry="3" transform="rotate(27 485.1 399.1)" fill="#3a0c40"/>
<ellipse cx="449.1" cy="406.1" rx="3" ry="2" transform="rotate(10 449.1 406.1)" fill="#3a0c40"/>
<ellipse cx="409.1" cy="401.1" rx="3" ry="3" transform="rotate(1 409.1 401.1)" fill="#3a0c40"/>
<ellipse cx="425.1" cy="387.1" rx="1.8" ry="2" transform="rotate(5 425.1 387.1)" fill="#3a0c40"/>
<ellipse cx="427.1" cy="395.1" rx="1.8" ry="2" transform="rotate(39 427.1 395.1)" fill="#3a0c40"/>
<ellipse cx="409.1" cy="337.1" rx="1.6" ry="1.8" transform="rotate(17 409.1 337.1)" fill="#3a0c40"/>
<ellipse cx="413.1" cy="341.1" rx="1.6" ry="1.8" transform="rotate(-37 413.1 341.1)" fill="#3a0c40"/>
<ellipse cx="417.1" cy="335.1" rx="1.5" ry="1.7" transform="rotate(-3 417.1 335.1)" fill="#3a0c40"/>
<ellipse cx="410.1" cy="330.1" rx="1.4" ry="1.6" transform="rotate(20 410.1 330.1)" fill="#3a0c40"/>
<ellipse cx="416.1" cy="346.1" rx="1.6" ry="1.6" transform="rotate(20 416.1 346.1)" fill="#3a0c40"/>
</g>
<clipPath id="clipF2"><rect x="535.5" y="297.1" width="137.2" height="111.6"/></clipPath>
<g clip-path="url(#clipF2)">
<rect x="535.5" y="297.1" width="137.2" height="111.6" fill="#9a30be"/>
<path d="M560.6,342.4 L562.6,341.6 L565.8,338.6 L569.1,336.5 L570.6,335.1 L574.1,329.9 L575.3,328.6 L579.9,325.1 L583.9,322.9 L585.8,321.3 L586.8,319.3 L587.1,317.2 L586.0,311.0 L586.3,302.9 L585.8,301.1 L584.5,299.6 L582.5,299.0 L573.7,300.0 L571.9,299.9 L567.3,297.4 L565.3,297.0 L554.6,297.8 L548.8,298.5 L542.8,298.6 L541.2,299.0 L539.9,299.9 L539.0,301.6 L538.1,305.0 L536.5,308.2 L535.8,312.1 L535.6,318.4 L536.9,326.4 L536.7,332.6 L537.8,334.1 L539.9,334.8 L544.2,335.2 L556.4,341.7 L558.5,342.3Z" fill="#f5b2f5" stroke="#c448d0" stroke-width="1.0" stroke-linejoin="round"/>
<path d="M560.6,342.4 L562.6,341.6 L565.8,338.6 L569.1,336.5 L570.6,335.1 L574.1,329.9 L575.3,328.6 L579.9,325.1 L583.9,322.9 L585.8,321.3 L586.8,319.3 L587.1,317.2 L586.0,311.0 L586.3,302.9 L585.8,301.1 L584.5,299.6 L582.5,299.0 L573.7,300.0 L571.9,299.9 L567.3,297.4 L565.3,297.0 L554.6,297.8 L548.8,298.5 L542.8,298.6 L541.2,299.0 L539.9,299.9 L539.0,301.6 L538.1,305.0 L536.5,308.2 L535.8,312.1 L535.6,318.4 L536.9,326.4 L536.7,332.6 L537.8,334.1 L539.9,334.8 L544.2,335.2 L556.4,341.7 L558.5,342.3Z" fill="url(#spk3)"/>
<path d="M559.9,317.2 Q548.9,313.3 536.1,310.8" fill="none" stroke="#d868dc" stroke-width="0.8" stroke-linecap="round"/>
<path d="M559.9,317.2 Q575.3,318.0 586.9,318.7" fill="none" stroke="#d868dc" stroke-width="0.8" stroke-linecap="round"/>
<path d="M559.9,317.2 Q551.5,324.6 544.7,335.4" fill="none" stroke="#d868dc" stroke-width="0.8" stroke-linecap="round"/>
<path d="M612.8,340.8 L614.9,340.8 L616.5,339.8 L617.9,338.2 L621.1,329.5 L624.8,322.5 L625.1,320.6 L624.5,318.8 L622.6,315.4 L619.0,310.7 L618.4,308.9 L617.3,301.8 L616.4,299.6 L615.1,297.9 L613.1,297.2 L606.6,297.8 L600.7,299.2 L592.7,298.8 L591.1,299.6 L590.1,301.4 L589.9,305.3 L588.1,310.3 L586.1,318.6 L586.0,320.8 L586.9,322.9 L592.8,326.6 L596.7,331.1 L601.2,334.4 L606.7,340.0Z" fill="#f5b2f5" stroke="#c448d0" stroke-width="1.0" stroke-linejoin="round"/>
<path d="M612.8,340.8 L614.9,340.8 L616.5,339.8 L617.9,338.2 L621.1,329.5 L624.8,322.5 L625.1,320.6 L624.5,318.8 L622.6,315.4 L619.0,310.7 L618.4,308.9 L617.3,301.8 L616.4,299.6 L615.1,297.9 L613.1,297.2 L606.6,297.8 L600.7,299.2 L592.7,298.8 L591.1,299.6 L590.1,301.4 L589.9,305.3 L588.1,310.3 L586.1,318.6 L586.0,320.8 L586.9,322.9 L592.8,326.6 L596.7,331.1 L601.2,334.4 L606.7,340.0Z" fill="url(#spk3)"/>
<path d="M605.9,317.8 Q595.2,315.9 587.0,314.8" fill="none" stroke="#d868dc" stroke-width="0.8" stroke-linecap="round"/>
<path d="M605.9,317.8 Q612.0,313.6 620.8,313.0" fill="none" stroke="#d868dc" stroke-width="0.8" stroke-linecap="round"/>
<path d="M605.9,317.8 Q601.4,326.9 598.4,332.4" fill="none" stroke="#d868dc" stroke-width="0.8" stroke-linecap="round"/>
<path d="M644.7,319.9 L644.0,321.9 L644.2,323.9 L645.2,325.7 L647.8,329.1 L649.4,330.6 L651.3,331.7 L655.1,333.1 L658.0,335.7 L659.9,336.5 L661.9,336.4 L665.4,335.2 L669.6,336.0 L671.5,335.5 L672.1,333.9 L671.7,327.0 L672.7,323.3 L672.8,321.0 L670.5,314.8 L670.3,313.0 L670.9,302.8 L670.5,301.0 L669.1,299.5 L663.7,296.6 L661.4,296.5 L659.2,297.3 L657.4,298.9 L656.1,300.8 L653.7,303.5 L652.7,305.6 L652.1,310.6 L651.5,312.4 L646.8,316.4Z" fill="#f5b2f5" stroke="#c448d0" stroke-width="1.0" stroke-linejoin="round"/>
<path d="M644.7,319.9 L644.0,321.9 L644.2,323.9 L645.2,325.7 L647.8,329.1 L649.4,330.6 L651.3,331.7 L655.1,333.1 L658.0,335.7 L659.9,336.5 L661.9,336.4 L665.4,335.2 L669.6,336.0 L671.5,335.5 L672.1,333.9 L671.7,327.0 L672.7,323.3 L672.8,321.0 L670.5,314.8 L670.3,313.0 L670.9,302.8 L670.5,301.0 L669.1,299.5 L663.7,296.6 L661.4,296.5 L659.2,297.3 L657.4,298.9 L656.1,300.8 L653.7,303.5 L652.7,305.6 L652.1,310.6 L651.5,312.4 L646.8,316.4Z" fill="url(#spk3)"/>
<path d="M660.4,318.1 Q665.3,313.2 670.6,308.1" fill="none" stroke="#d868dc" stroke-width="0.8" stroke-linecap="round"/>
<path d="M660.4,318.1 Q660.6,327.5 660.0,336.5" fill="none" stroke="#d868dc" stroke-width="0.8" stroke-linecap="round"/>
<path d="M660.4,318.1 Q657.5,315.4 651.0,312.8" fill="none" stroke="#d868dc" stroke-width="0.8" stroke-linecap="round"/>
<path d="M551.1,382.1 L553.3,382.6 L555.4,382.0 L557.4,380.9 L562.3,376.6 L563.8,375.7 L567.4,374.5 L568.9,373.3 L570.5,369.9 L573.5,364.8 L573.3,362.9 L568.8,355.9 L565.6,348.0 L563.0,344.9 L561.3,343.9 L559.2,343.6 L549.8,343.2 L546.1,341.7 L541.6,339.1 L539.3,338.4 L537.2,339.0 L536.2,340.7 L536.0,342.8 L536.2,351.3 L537.4,357.9 L537.5,359.8 L537.1,365.7 L538.2,372.9 L539.0,374.6 L540.4,375.7Z" fill="#f5b2f5" stroke="#c448d0" stroke-width="1.0" stroke-linejoin="round"/>
<path d="M551.1,382.1 L553.3,382.6 L555.4,382.0 L557.4,380.9 L562.3,376.6 L563.8,375.7 L567.4,374.5 L568.9,373.3 L570.5,369.9 L573.5,364.8 L573.3,362.9 L568.8,355.9 L565.6,348.0 L563.0,344.9 L561.3,343.9 L559.2,343.6 L549.8,343.2 L546.1,341.7 L541.6,339.1 L539.3,338.4 L537.2,339.0 L536.2,340.7 L536.0,342.8 L536.2,351.3 L537.4,357.9 L537.5,359.8 L537.1,365.7 L538.2,372.9 L539.0,374.6 L540.4,375.7Z" fill="url(#spk3)"/>
<path d="M552.7,360.7 Q543.9,361.5 537.2,364.0" fill="none" stroke="#d868dc" stroke-width="0.8" stroke-linecap="round"/>
<path d="M552.7,360.7 Q557.8,352.9 562.8,344.8" fill="none" stroke="#d868dc" stroke-width="0.8" stroke-linecap="round"/>
<path d="M552.7,360.7 Q562.7,362.3 573.3,363.3" fill="none" stroke="#d868dc" stroke-width="0.8" stroke-linecap="round"/>
<path d="M598.2,358.5 L597.0,360.5 L597.5,362.6 L602.2,367.8 L605.4,370.7 L607.3,374.6 L608.5,376.3 L610.3,377.0 L612.3,376.8 L619.4,374.6 L623.4,374.3 L625.1,373.6 L626.6,372.5 L628.3,371.8 L633.5,371.5 L635.2,370.1 L635.6,363.8 L635.1,361.6 L630.8,354.8 L628.6,353.5 L624.3,351.7 L621.1,349.7 L619.6,348.6 L616.8,345.2 L615.3,344.3 L611.9,345.7 L608.0,345.7 L606.5,346.8 L602.7,351.3 L601.3,355.2 L600.2,356.9Z" fill="#f5b2f5" stroke="#c448d0" stroke-width="1.0" stroke-linejoin="round"/>
<path d="M598.2,358.5 L597.0,360.5 L597.5,362.6 L602.2,367.8 L605.4,370.7 L607.3,374.6 L608.5,376.3 L610.3,377.0 L612.3,376.8 L619.4,374.6 L623.4,374.3 L625.1,373.6 L626.6,372.5 L628.3,371.8 L633.5,371.5 L635.2,370.1 L635.6,363.8 L635.1,361.6 L630.8,354.8 L628.6,353.5 L624.3,351.7 L621.1,349.7 L619.6,348.6 L616.8,345.2 L615.3,344.3 L611.9,345.7 L608.0,345.7 L606.5,346.8 L602.7,351.3 L601.3,355.2 L600.2,356.9Z" fill="url(#spk3)"/>
<path d="M616.3,361.5 Q626.4,362.1 635.4,366.2" fill="none" stroke="#d868dc" stroke-width="0.8" stroke-linecap="round"/>
<path d="M616.3,361.5 Q611.0,367.4 606.0,372.0" fill="none" stroke="#d868dc" stroke-width="0.8" stroke-linecap="round"/>
<path d="M616.3,361.5 Q612.6,354.9 607.1,346.4" fill="none" stroke="#d868dc" stroke-width="0.8" stroke-linecap="round"/>
<path d="M659.4,340.5 L657.6,341.2 L654.7,343.5 L653.3,345.0 L651.0,348.6 L649.4,349.4 L647.2,349.7 L645.0,350.5 L643.3,351.9 L639.0,356.6 L636.8,359.7 L635.9,363.9 L636.2,366.0 L641.6,373.7 L644.4,376.4 L646.1,376.8 L648.1,376.6 L652.1,375.8 L656.0,377.3 L658.2,377.7 L660.4,377.2 L664.3,375.5 L668.1,374.5 L669.7,373.5 L670.9,372.0 L671.3,370.2 L671.1,368.0 L669.2,363.5 L669.3,361.8 L671.0,358.1 L671.3,356.0 L671.8,351.7 L671.6,345.6 L672.1,340.5 L670.7,338.9 L668.2,339.0 L663.4,340.4Z" fill="#f5b2f5" stroke="#c448d0" stroke-width="1.0" stroke-linejoin="round"/>
<path d="M659.4,340.5 L657.6,341.2 L654.7,343.5 L653.3,345.0 L651.0,348.6 L649.4,349.4 L647.2,349.7 L645.0,350.5 L643.3,351.9 L639.0,356.6 L636.8,359.7 L635.9,363.9 L636.2,366.0 L641.6,373.7 L644.4,376.4 L646.1,376.8 L648.1,376.6 L652.1,375.8 L656.0,377.3 L658.2,377.7 L660.4,377.2 L664.3,375.5 L668.1,374.5 L669.7,373.5 L670.9,372.0 L671.3,370.2 L671.1,368.0 L669.2,363.5 L669.3,361.8 L671.0,358.1 L671.3,356.0 L671.8,351.7 L671.6,345.6 L672.1,340.5 L670.7,338.9 L668.2,339.0 L663.4,340.4Z" fill="url(#spk3)"/>
<path d="M656.2,359.9 Q664.5,359.4 671.4,355.2" fill="none" stroke="#d868dc" stroke-width="0.8" stroke-linecap="round"/>
<path d="M656.2,359.9 Q652.4,368.5 648.9,376.5" fill="none" stroke="#d868dc" stroke-width="0.8" stroke-linecap="round"/>
<path d="M656.2,359.9 Q652.3,353.8 649.5,349.3" fill="none" stroke="#d868dc" stroke-width="0.8" stroke-linecap="round"/>
<path d="M591.0,405.6 L592.6,407.3 L594.6,407.9 L596.6,407.7 L598.4,406.5 L599.4,404.4 L602.4,392.3 L603.3,390.8 L606.0,387.9 L607.1,386.2 L608.5,382.3 L608.6,380.3 L607.9,378.4 L605.7,374.9 L603.0,371.7 L600.0,365.4 L598.8,363.5 L597.3,362.1 L595.4,361.6 L589.2,363.4 L583.9,365.9 L582.1,366.2 L577.8,366.3 L576.2,367.4 L573.8,374.9 L573.7,376.8 L577.7,383.4 L578.8,389.4 L579.9,391.4 L586.4,399.9 L588.9,402.4Z" fill="#f5b2f5" stroke="#c448d0" stroke-width="1.0" stroke-linejoin="round"/>
<path d="M591.0,405.6 L592.6,407.3 L594.6,407.9 L596.6,407.7 L598.4,406.5 L599.4,404.4 L602.4,392.3 L603.3,390.8 L606.0,387.9 L607.1,386.2 L608.5,382.3 L608.6,380.3 L607.9,378.4 L605.7,374.9 L603.0,371.7 L600.0,365.4 L598.8,363.5 L597.3,362.1 L595.4,361.6 L589.2,363.4 L583.9,365.9 L582.1,366.2 L577.8,366.3 L576.2,367.4 L573.8,374.9 L573.7,376.8 L577.7,383.4 L578.8,389.4 L579.9,391.4 L586.4,399.9 L588.9,402.4Z" fill="url(#spk3)"/>
<path d="M591.5,382.5 Q585.2,386.9 580.5,392.3" fill="none" stroke="#d868dc" stroke-width="0.8" stroke-linecap="round"/>
<path d="M591.5,382.5 Q589.4,372.9 591.0,362.8" fill="none" stroke="#d868dc" stroke-width="0.8" stroke-linecap="round"/>
<path d="M591.5,382.5 Q597.4,384.7 604.9,389.1" fill="none" stroke="#d868dc" stroke-width="0.8" stroke-linecap="round"/>
<path d="M642.1,380.7 L641.1,379.2 L637.7,377.2 L636.0,376.4 L629.8,374.6 L627.8,374.8 L619.7,378.1 L616.2,380.1 L612.5,381.6 L611.3,383.1 L611.1,387.3 L610.6,389.0 L605.9,394.2 L603.8,398.3 L602.4,402.2 L602.7,403.9 L604.2,405.2 L606.1,406.2 L607.9,406.6 L611.4,406.9 L615.6,406.5 L617.5,406.6 L623.1,407.6 L629.8,409.2 L631.9,408.9 L634.9,406.8 L638.0,405.6 L639.1,404.1 L639.7,400.6 L641.3,397.1 L641.8,395.1 L641.5,391.0 L642.9,384.4Z" fill="#f5b2f5" stroke="#c448d0" stroke-width="1.0" stroke-linejoin="round"/>
<path d="M642.1,380.7 L641.1,379.2 L637.7,377.2 L636.0,376.4 L629.8,374.6 L627.8,374.8 L619.7,378.1 L616.2,380.1 L612.5,381.6 L611.3,383.1 L611.1,387.3 L610.6,389.0 L605.9,394.2 L603.8,398.3 L602.4,402.2 L602.7,403.9 L604.2,405.2 L606.1,406.2 L607.9,406.6 L611.4,406.9 L615.6,406.5 L617.5,406.6 L623.1,407.6 L629.8,409.2 L631.9,408.9 L634.9,406.8 L638.0,405.6 L639.1,404.1 L639.7,400.6 L641.3,397.1 L641.8,395.1 L641.5,391.0 L642.9,384.4Z" fill="url(#spk3)"/>
<path d="M624.6,392.8 Q624.0,383.9 626.0,375.6" fill="none" stroke="#d868dc" stroke-width="0.8" stroke-linecap="round"/>
<path d="M624.6,392.8 Q627.3,399.7 633.2,408.1" fill="none" stroke="#d868dc" stroke-width="0.8" stroke-linecap="round"/>
<path d="M624.6,392.8 Q615.1,396.6 602.9,400.8" fill="none" stroke="#d868dc" stroke-width="0.8" stroke-linecap="round"/>
<path d="M571.8,379.5 L568.1,380.6 L558.0,381.1 L556.1,382.0 L553.2,384.7 L552.5,386.5 L553.2,389.0 L555.7,393.6 L555.9,395.4 L555.9,397.3 L554.4,401.7 L554.0,404.1 L555.0,405.8 L558.0,408.2 L559.9,408.7 L562.3,408.3 L570.4,405.3 L575.0,407.4 L577.3,407.8 L579.2,407.5 L583.9,407.8 L585.9,406.9 L586.7,405.0 L586.3,402.8 L584.7,400.8 L580.3,397.0 L579.9,395.5 L580.1,393.9 L579.4,392.1 L576.6,386.4 L573.2,380.5Z" fill="#f5b2f5" stroke="#c448d0" stroke-width="1.0" stroke-linejoin="round"/>
<path d="M571.8,379.5 L568.1,380.6 L558.0,381.1 L556.1,382.0 L553.2,384.7 L552.5,386.5 L553.2,389.0 L555.7,393.6 L555.9,395.4 L555.9,397.3 L554.4,401.7 L554.0,404.1 L555.0,405.8 L558.0,408.2 L559.9,408.7 L562.3,408.3 L570.4,405.3 L575.0,407.4 L577.3,407.8 L579.2,407.5 L583.9,407.8 L585.9,406.9 L586.7,405.0 L586.3,402.8 L584.7,400.8 L580.3,397.0 L579.9,395.5 L580.1,393.9 L579.4,392.1 L576.6,386.4 L573.2,380.5Z" fill="url(#spk3)"/>
<path d="M567.8,395.1 Q569.7,388.3 572.9,380.3" fill="none" stroke="#d868dc" stroke-width="0.8" stroke-linecap="round"/>
<path d="M567.8,395.1 Q567.6,399.6 567.8,406.3" fill="none" stroke="#d868dc" stroke-width="0.8" stroke-linecap="round"/>
<path d="M567.8,395.1 Q561.8,395.4 555.6,398.1" fill="none" stroke="#d868dc" stroke-width="0.8" stroke-linecap="round"/>
<path d="M646.6,378.3 L644.6,379.3 L643.9,381.5 L644.3,384.0 L644.1,386.0 L643.4,387.8 L643.1,389.9 L644.2,396.1 L645.2,399.3 L644.1,403.6 L644.4,405.7 L646.3,406.5 L654.0,406.3 L655.8,406.8 L657.8,408.0 L660.0,408.7 L664.0,407.9 L668.3,408.1 L670.2,407.3 L671.8,405.9 L672.7,404.3 L672.9,402.2 L671.2,397.2 L670.9,395.1 L670.7,389.4 L671.1,385.3 L669.8,382.5 L669.5,380.6 L668.7,378.9 L667.1,378.1 L661.6,377.7 L657.6,379.0 L650.9,377.8Z" fill="#f5b2f5" stroke="#c448d0" stroke-width="1.0" stroke-linejoin="round"/>
<path d="M646.6,378.3 L644.6,379.3 L643.9,381.5 L644.3,384.0 L644.1,386.0 L643.4,387.8 L643.1,389.9 L644.2,396.1 L645.2,399.3 L644.1,403.6 L644.4,405.7 L646.3,406.5 L654.0,406.3 L655.8,406.8 L657.8,408.0 L660.0,408.7 L664.0,407.9 L668.3,408.1 L670.2,407.3 L671.8,405.9 L672.7,404.3 L672.9,402.2 L671.2,397.2 L670.9,395.1 L670.7,389.4 L671.1,385.3 L669.8,382.5 L669.5,380.6 L668.7,378.9 L667.1,378.1 L661.6,377.7 L657.6,379.0 L650.9,377.8Z" fill="url(#spk3)"/>
<path d="M657.8,393.0 Q662.1,385.4 669.0,379.6" fill="none" stroke="#d868dc" stroke-width="0.8" stroke-linecap="round"/>
<path d="M657.8,393.0 Q661.4,401.7 663.8,408.0" fill="none" stroke="#d868dc" stroke-width="0.8" stroke-linecap="round"/>
<path d="M657.8,393.0 Q649.7,394.4 644.6,397.4" fill="none" stroke="#d868dc" stroke-width="0.8" stroke-linecap="round"/>
<path d="M574.3,358.5 L576.6,361.6 L578.4,362.1 L584.3,360.9 L588.5,361.5 L590.7,361.5 L594.7,360.2 L596.3,358.9 L597.3,357.1 L598.1,355.0 L598.6,350.9 L599.3,349.3 L604.1,344.3 L604.3,342.2 L603.4,340.5 L600.9,337.1 L599.1,335.6 L596.8,334.7 L592.6,333.6 L591.3,332.5 L587.6,327.2 L585.7,326.3 L583.8,326.1 L582.1,326.5 L580.3,327.5 L578.6,329.3 L575.1,335.4 L571.1,339.3 L565.4,343.0 L564.6,345.0 L565.4,346.9 L568.1,350.5 L570.2,354.1Z" fill="#f5b2f5" stroke="#c448d0" stroke-width="1.0" stroke-linejoin="round"/>
<path d="M574.3,358.5 L576.6,361.6 L578.4,362.1 L584.3,360.9 L588.5,361.5 L590.7,361.5 L594.7,360.2 L596.3,358.9 L597.3,357.1 L598.1,355.0 L598.6,350.9 L599.3,349.3 L604.1,344.3 L604.3,342.2 L603.4,340.5 L600.9,337.1 L599.1,335.6 L596.8,334.7 L592.6,333.6 L591.3,332.5 L587.6,327.2 L585.7,326.3 L583.8,326.1 L582.1,326.5 L580.3,327.5 L578.6,329.3 L575.1,335.4 L571.1,339.3 L565.4,343.0 L564.6,345.0 L565.4,346.9 L568.1,350.5 L570.2,354.1Z" fill="url(#spk3)"/>
<path d="M584.8,345.5 Q584.6,335.5 585.7,326.2" fill="none" stroke="#d868dc" stroke-width="0.8" stroke-linecap="round"/>
<path d="M584.8,345.5 Q590.8,352.7 597.5,356.6" fill="none" stroke="#d868dc" stroke-width="0.8" stroke-linecap="round"/>
<path d="M584.8,345.5 Q575.9,351.9 570.9,354.8" fill="none" stroke="#d868dc" stroke-width="0.8" stroke-linecap="round"/>
<path d="M633.1,354.5 L634.8,355.2 L636.7,354.7 L638.2,353.8 L639.6,352.6 L641.9,349.0 L643.2,347.9 L652.9,342.4 L654.8,340.9 L655.3,338.9 L654.8,336.9 L653.7,335.1 L652.1,333.6 L648.2,331.1 L645.9,327.8 L644.2,326.5 L640.8,324.5 L638.9,324.0 L635.1,325.1 L633.4,325.1 L631.5,324.4 L629.5,324.2 L628.1,325.3 L626.9,326.6 L623.9,329.1 L622.3,332.9 L618.4,338.0 L617.5,339.8 L617.1,341.9 L617.5,343.9 L619.0,345.5 L624.9,349.1 L630.4,351.3Z" fill="#f5b2f5" stroke="#c448d0" stroke-width="1.0" stroke-linejoin="round"/>
<path d="M633.1,354.5 L634.8,355.2 L636.7,354.7 L638.2,353.8 L639.6,352.6 L641.9,349.0 L643.2,347.9 L652.9,342.4 L654.8,340.9 L655.3,338.9 L654.8,336.9 L653.7,335.1 L652.1,333.6 L648.2,331.1 L645.9,327.8 L644.2,326.5 L640.8,324.5 L638.9,324.0 L635.1,325.1 L633.4,325.1 L631.5,324.4 L629.5,324.2 L628.1,325.3 L626.9,326.6 L623.9,329.1 L622.3,332.9 L618.4,338.0 L617.5,339.8 L617.1,341.9 L617.5,343.9 L619.0,345.5 L624.9,349.1 L630.4,351.3Z" fill="url(#spk3)"/>
<path d="M635.5,338.6 Q643.7,338.1 652.4,334.0" fill="none" stroke="#d868dc" stroke-width="0.8" stroke-linecap="round"/>
<path d="M635.5,338.6 Q632.9,347.2 632.5,353.8" fill="none" stroke="#d868dc" stroke-width="0.8" stroke-linecap="round"/>
<path d="M635.5,338.6 Q630.2,334.3 623.5,329.9" fill="none" stroke="#d868dc" stroke-width="0.8" stroke-linecap="round"/>
<path d="M628.6,317.4 L629.5,319.5 L631.4,320.0 L633.5,319.7 L635.4,320.1 L637.5,321.2 L639.8,322.0 L641.8,321.0 L648.6,309.6 L648.7,306.1 L649.4,304.6 L650.8,302.7 L650.9,300.6 L649.0,299.5 L644.3,299.9 L641.9,298.4 L639.8,298.5 L637.7,299.0 L635.8,298.9 L631.3,297.3 L629.0,297.2 L621.1,298.4 L619.4,299.7 L618.8,301.7 L620.1,303.9 L623.6,307.5 L624.4,311.0 L625.9,312.4 L627.7,313.4 L628.5,314.9Z" fill="#f5b2f5" stroke="#c448d0" stroke-width="1.0" stroke-linejoin="round"/>
<path d="M628.6,317.4 L629.5,319.5 L631.4,320.0 L633.5,319.7 L635.4,320.1 L637.5,321.2 L639.8,322.0 L641.8,321.0 L648.6,309.6 L648.7,306.1 L649.4,304.6 L650.8,302.7 L650.9,300.6 L649.0,299.5 L644.3,299.9 L641.9,298.4 L639.8,298.5 L637.7,299.0 L635.8,298.9 L631.3,297.3 L629.0,297.2 L621.1,298.4 L619.4,299.7 L618.8,301.7 L620.1,303.9 L623.6,307.5 L624.4,311.0 L625.9,312.4 L627.7,313.4 L628.5,314.9Z" fill="url(#spk3)"/>
<path d="M635.5,307.8 Q633.9,312.1 634.4,319.9" fill="none" stroke="#d868dc" stroke-width="0.8" stroke-linecap="round"/>
<path d="M635.5,307.8 Q630.2,303.9 626.6,297.6" fill="none" stroke="#d868dc" stroke-width="0.8" stroke-linecap="round"/>
<path d="M635.5,307.8 Q641.5,304.6 644.3,299.9" fill="none" stroke="#d868dc" stroke-width="0.8" stroke-linecap="round"/>
<path d="M551.5,385.2 L549.1,382.2 L545.2,380.5 L543.2,378.7 L541.0,378.1 L539.1,378.9 L537.4,380.2 L537.2,383.1 L537.7,385.8 L537.8,391.2 L537.2,392.9 L538.2,396.3 L536.5,405.7 L537.6,407.6 L539.5,408.8 L541.7,409.1 L543.9,408.0 L546.0,407.7 L548.1,407.9 L551.6,406.0 L552.2,404.1 L550.3,397.1 L549.3,395.3 L550.8,391.9 L551.6,387.4Z" fill="#f5b2f5" stroke="#c448d0" stroke-width="1.0" stroke-linejoin="round"/>
<path d="M551.5,385.2 L549.1,382.2 L545.2,380.5 L543.2,378.7 L541.0,378.1 L539.1,378.9 L537.4,380.2 L537.2,383.1 L537.7,385.8 L537.8,391.2 L537.2,392.9 L538.2,396.3 L536.5,405.7 L537.6,407.6 L539.5,408.8 L541.7,409.1 L543.9,408.0 L546.0,407.7 L548.1,407.9 L551.6,406.0 L552.2,404.1 L550.3,397.1 L549.3,395.3 L550.8,391.9 L551.6,387.4Z" fill="url(#spk3)"/>
<path d="M544.0,394.2 Q548.6,394.3 550.0,393.7" fill="none" stroke="#d868dc" stroke-width="0.8" stroke-linecap="round"/>
<path d="M544.0,394.2 Q547.9,399.2 549.9,406.9" fill="none" stroke="#d868dc" stroke-width="0.8" stroke-linecap="round"/>
<path d="M544.0,394.2 Q541.4,393.1 537.6,391.8" fill="none" stroke="#d868dc" stroke-width="0.8" stroke-linecap="round"/>
<ellipse cx="628.5" cy="310.1" rx="2.4" ry="3.2" transform="rotate(60 628.5 310.1)" fill="#5a1a92"/>
<ellipse cx="596.5" cy="327.1" rx="2.4" ry="3.4" transform="rotate(50 596.5 327.1)" fill="#5a1a92"/>
<ellipse cx="583.5" cy="318.1" rx="2" ry="2.8" transform="rotate(-7 583.5 318.1)" fill="#5a1a92"/>
<ellipse cx="551.5" cy="339.1" rx="2.4" ry="3.2" transform="rotate(60 551.5 339.1)" fill="#5a1a92"/>
<ellipse cx="566.5" cy="348.1" rx="2.4" ry="3.4" transform="rotate(20 566.5 348.1)" fill="#5a1a92"/>
<ellipse cx="580.5" cy="356.1" rx="2.4" ry="3.4" transform="rotate(-30 580.5 356.1)" fill="#5a1a92"/>
<ellipse cx="602.5" cy="359.1" rx="2.4" ry="3.6" transform="rotate(10 602.5 359.1)" fill="#5a1a92"/>
<ellipse cx="542.5" cy="356.1" rx="2.4" ry="3.4" transform="rotate(35 542.5 356.1)" fill="#5a1a92"/>
<ellipse cx="640.5" cy="349.1" rx="2.2" ry="3.4" transform="rotate(9 640.5 349.1)" fill="#5a1a92"/>
<ellipse cx="620.5" cy="336.1" rx="2.2" ry="3" transform="rotate(60 620.5 336.1)" fill="#5a1a92"/>
<ellipse cx="657.5" cy="381.1" rx="2.4" ry="3.2" transform="rotate(70 657.5 381.1)" fill="#5a1a92"/>
<ellipse cx="629.5" cy="392.1" rx="2.2" ry="3.2" transform="rotate(-13 629.5 392.1)" fill="#5a1a92"/>
<ellipse cx="552.5" cy="381.1" rx="2.2" ry="3.2" transform="rotate(60 552.5 381.1)" fill="#5a1a92"/>
<ellipse cx="539.5" cy="383.1" rx="2" ry="3" transform="rotate(-20 539.5 383.1)" fill="#5a1a92"/>
<ellipse cx="604.5" cy="373.1" rx="2.2" ry="3.2" transform="rotate(-20 604.5 373.1)" fill="#5a1a92"/>
<ellipse cx="638.5" cy="364.1" rx="2.2" ry="3" transform="rotate(29 638.5 364.1)" fill="#5a1a92"/>
<ellipse cx="589.5" cy="303.1" rx="2.2" ry="3" transform="rotate(-2 589.5 303.1)" fill="#5a1a92"/>
<ellipse cx="609.5" cy="303.1" rx="2.2" ry="2.8" transform="rotate(23 609.5 303.1)" fill="#5a1a92"/>
<ellipse cx="667.5" cy="339.1" rx="2" ry="2.8" transform="rotate(-12 667.5 339.1)" fill="#5a1a92"/>
<ellipse cx="593.5" cy="402.1" rx="2.2" ry="3" transform="rotate(-24 593.5 402.1)" fill="#5a1a92"/>
<ellipse cx="576.5" cy="397.1" rx="2" ry="2.6" transform="rotate(3 576.5 397.1)" fill="#5a1a92"/>
<ellipse cx="663.5" cy="405.1" rx="2" ry="2.6" transform="rotate(25 663.5 405.1)" fill="#5a1a92"/>
<polyline points="555.5,296.1 545.5,307.1 540.5,322.1 538.5,342.1 536.5,357.1" fill="none" stroke="#f2d4f2" stroke-width="1.4" stroke-linecap="round" stroke-linejoin="round"/>
<polyline points="538.5,363.1 537.5,377.1 538.5,387.1" fill="none" stroke="#f2d4f2" stroke-width="1.4" stroke-linecap="round" stroke-linejoin="round"/>
</g>
<path d="M519.0,297 Q521.5,318 526.8,336" stroke="#c850c8" stroke-width="2.6" fill="none"/>
<rect x="280.2" y="398.5" width="32.7" height="4.7" fill="#000"/>
<rect x="635.9" y="398.6" width="31.9" height="4.2" fill="#000"/>
<text x="102.5" y="294.2" font-size="12" text-anchor="middle" fill="#111" stroke="#111" stroke-width="0.3" >Vehicle</text>
<text x="243.5" y="294.2" font-size="12" text-anchor="middle" fill="#111" stroke="#111" stroke-width="0.3" >Ondansetron</text>
<text x="453.4" y="294.0" font-size="12" text-anchor="middle" fill="#111" stroke="#111" stroke-width="0.3" >Vehicle</text>
<text x="607.4" y="293.4" font-size="12" text-anchor="middle" fill="#111" stroke="#111" stroke-width="0.3" >SR57227A</text>
<text x="530.0" y="271.4" font-size="12" text-anchor="middle" fill="#111" stroke="#111" stroke-width="0.3" >Trp-free</text>
<line x1="391.8" y1="278.9" x2="670.2" y2="278.9" stroke="#888" stroke-width="1.0" />
</svg></body></html>
